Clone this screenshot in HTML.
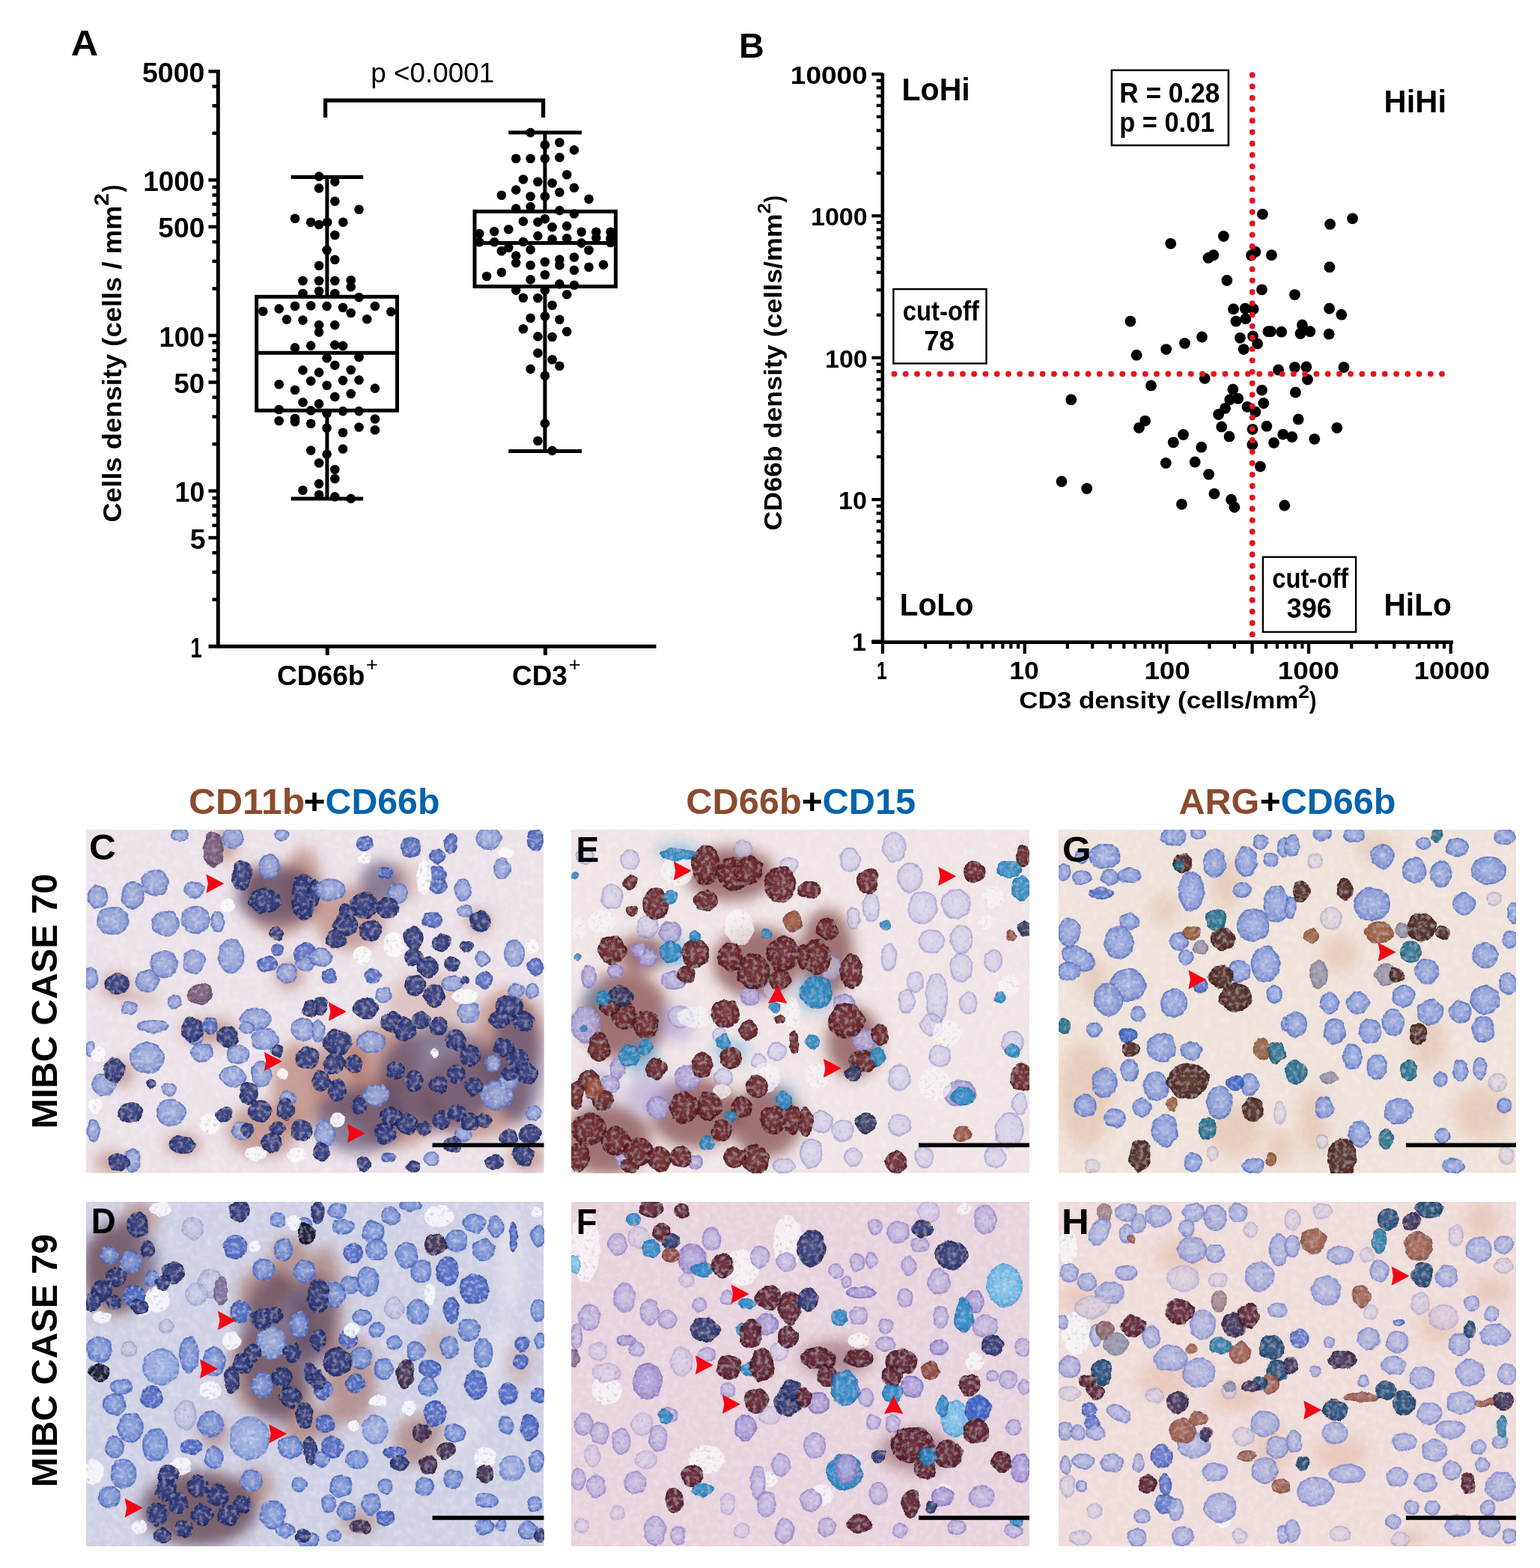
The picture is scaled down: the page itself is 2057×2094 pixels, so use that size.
<!DOCTYPE html>
<html><head><meta charset="utf-8"><title>Figure</title>
<style>html,body{margin:0;padding:0;background:#fff;}svg{display:block;}</style></head>
<body><svg width="2057" height="2094" viewBox="0 0 2057 2094" font-family="Liberation Sans, Arial, sans-serif">
<rect width="2057" height="2094" fill="#fff"/>
<line x1="291.3" y1="93.0" x2="291.3" y2="865.6" stroke="#000" stroke-width="5" stroke-linecap="butt"/>
<line x1="278.5" y1="863.2" x2="876.5" y2="863.2" stroke="#000" stroke-width="5" stroke-linecap="butt"/>
<line x1="278.4" y1="718.1" x2="291.0" y2="718.1" stroke="#000" stroke-width="4.5" stroke-linecap="butt"/>
<line x1="278.4" y1="655.6" x2="291.0" y2="655.6" stroke="#000" stroke-width="4.5" stroke-linecap="butt"/>
<line x1="278.4" y1="510.5" x2="291.0" y2="510.5" stroke="#000" stroke-width="4.5" stroke-linecap="butt"/>
<line x1="278.4" y1="448.0" x2="291.0" y2="448.0" stroke="#000" stroke-width="4.5" stroke-linecap="butt"/>
<line x1="278.4" y1="302.9" x2="291.0" y2="302.9" stroke="#000" stroke-width="4.5" stroke-linecap="butt"/>
<line x1="278.4" y1="240.4" x2="291.0" y2="240.4" stroke="#000" stroke-width="4.5" stroke-linecap="butt"/>
<line x1="278.4" y1="95.3" x2="291.0" y2="95.3" stroke="#000" stroke-width="4.5" stroke-linecap="butt"/>
<line x1="283.5" y1="800.7" x2="291.0" y2="800.7" stroke="#000" stroke-width="4.5" stroke-linecap="butt"/>
<line x1="283.5" y1="764.1" x2="291.0" y2="764.1" stroke="#000" stroke-width="4.5" stroke-linecap="butt"/>
<line x1="283.5" y1="738.2" x2="291.0" y2="738.2" stroke="#000" stroke-width="4.5" stroke-linecap="butt"/>
<line x1="283.5" y1="701.7" x2="291.0" y2="701.7" stroke="#000" stroke-width="4.5" stroke-linecap="butt"/>
<line x1="283.5" y1="687.8" x2="291.0" y2="687.8" stroke="#000" stroke-width="4.5" stroke-linecap="butt"/>
<line x1="283.5" y1="675.7" x2="291.0" y2="675.7" stroke="#000" stroke-width="4.5" stroke-linecap="butt"/>
<line x1="283.5" y1="665.1" x2="291.0" y2="665.1" stroke="#000" stroke-width="4.5" stroke-linecap="butt"/>
<line x1="283.5" y1="593.1" x2="291.0" y2="593.1" stroke="#000" stroke-width="4.5" stroke-linecap="butt"/>
<line x1="283.5" y1="556.5" x2="291.0" y2="556.5" stroke="#000" stroke-width="4.5" stroke-linecap="butt"/>
<line x1="283.5" y1="530.6" x2="291.0" y2="530.6" stroke="#000" stroke-width="4.5" stroke-linecap="butt"/>
<line x1="283.5" y1="494.1" x2="291.0" y2="494.1" stroke="#000" stroke-width="4.5" stroke-linecap="butt"/>
<line x1="283.5" y1="480.2" x2="291.0" y2="480.2" stroke="#000" stroke-width="4.5" stroke-linecap="butt"/>
<line x1="283.5" y1="468.1" x2="291.0" y2="468.1" stroke="#000" stroke-width="4.5" stroke-linecap="butt"/>
<line x1="283.5" y1="457.5" x2="291.0" y2="457.5" stroke="#000" stroke-width="4.5" stroke-linecap="butt"/>
<line x1="283.5" y1="385.5" x2="291.0" y2="385.5" stroke="#000" stroke-width="4.5" stroke-linecap="butt"/>
<line x1="283.5" y1="348.9" x2="291.0" y2="348.9" stroke="#000" stroke-width="4.5" stroke-linecap="butt"/>
<line x1="283.5" y1="323.0" x2="291.0" y2="323.0" stroke="#000" stroke-width="4.5" stroke-linecap="butt"/>
<line x1="283.5" y1="286.5" x2="291.0" y2="286.5" stroke="#000" stroke-width="4.5" stroke-linecap="butt"/>
<line x1="283.5" y1="272.6" x2="291.0" y2="272.6" stroke="#000" stroke-width="4.5" stroke-linecap="butt"/>
<line x1="283.5" y1="260.5" x2="291.0" y2="260.5" stroke="#000" stroke-width="4.5" stroke-linecap="butt"/>
<line x1="283.5" y1="249.9" x2="291.0" y2="249.9" stroke="#000" stroke-width="4.5" stroke-linecap="butt"/>
<line x1="283.5" y1="177.9" x2="291.0" y2="177.9" stroke="#000" stroke-width="4.5" stroke-linecap="butt"/>
<line x1="283.5" y1="141.3" x2="291.0" y2="141.3" stroke="#000" stroke-width="4.5" stroke-linecap="butt"/>
<line x1="283.5" y1="115.4" x2="291.0" y2="115.4" stroke="#000" stroke-width="4.5" stroke-linecap="butt"/>
<text x="254.47" y="877.70" font-size="36" font-weight="bold" fill="#000" textLength="15.32" lengthAdjust="spacingAndGlyphs">1</text>
<text x="253.76" y="732.59" font-size="36" font-weight="bold" fill="#000" textLength="20.92" lengthAdjust="spacingAndGlyphs">5</text>
<text x="233.51" y="670.10" font-size="36" font-weight="bold" fill="#000" textLength="39.83" lengthAdjust="spacingAndGlyphs">10</text>
<text x="232.38" y="524.99" font-size="36" font-weight="bold" fill="#000" textLength="41.00" lengthAdjust="spacingAndGlyphs">50</text>
<text x="212.47" y="462.50" font-size="36" font-weight="bold" fill="#000" textLength="60.92" lengthAdjust="spacingAndGlyphs">100</text>
<text x="211.37" y="317.39" font-size="36" font-weight="bold" fill="#000" textLength="61.94" lengthAdjust="spacingAndGlyphs">500</text>
<text x="191.35" y="254.90" font-size="36" font-weight="bold" fill="#000" textLength="81.97" lengthAdjust="spacingAndGlyphs">1000</text>
<text x="189.96" y="109.79" font-size="36" font-weight="bold" fill="#000" textLength="83.38" lengthAdjust="spacingAndGlyphs">5000</text>
<line x1="437.2" y1="863.0" x2="437.2" y2="875.0" stroke="#000" stroke-width="5" stroke-linecap="butt"/>
<line x1="728.4" y1="863.0" x2="728.4" y2="875.0" stroke="#000" stroke-width="5" stroke-linecap="butt"/>
<text x="369.97" y="915.30" font-size="36" font-weight="bold" fill="#000" textLength="117.49" lengthAdjust="spacingAndGlyphs">CD66b</text>
<text x="488.73" y="895.90" font-size="26" fill="#000" textLength="16.24" lengthAdjust="spacingAndGlyphs">+</text>
<text x="683.97" y="915.30" font-size="36" font-weight="bold" fill="#000" textLength="73.88" lengthAdjust="spacingAndGlyphs">CD3</text>
<text x="759.43" y="895.90" font-size="26" fill="#000" textLength="16.24" lengthAdjust="spacingAndGlyphs">+</text>
<text transform="translate(161.70,697.44) rotate(-90)" font-size="35" font-weight="bold" fill="#000" textLength="422.91" lengthAdjust="spacingAndGlyphs">Cells density (cells / mm</text>
<text transform="translate(144.50,274.77) rotate(-90)" font-size="28" font-weight="bold" fill="#000" textLength="16.66" lengthAdjust="spacingAndGlyphs">2</text>
<text transform="translate(161.70,256.40) rotate(-90)" font-size="35" font-weight="bold" fill="#000" textLength="9.79" lengthAdjust="spacingAndGlyphs">)</text>
<text x="94.75" y="74.00" font-size="48" font-weight="bold" fill="#000" textLength="36.41" lengthAdjust="spacingAndGlyphs">A</text>
<polyline points="434.6,157 434.6,134.1 725.6,134.1 725.6,157" fill="none" stroke="#000" stroke-width="5.2"/>
<text x="495.35" y="109.50" font-size="36" fill="#000" textLength="164.83" lengthAdjust="spacingAndGlyphs">p &lt;0.0001</text>
<rect x="342.7" y="396.3" width="187.8" height="151.9" fill="none" stroke="#000" stroke-width="5"/><line x1="342.7" y1="471.3" x2="530.5" y2="471.3" stroke="#000" stroke-width="5" stroke-linecap="butt"/><line x1="436.9" y1="236.5" x2="436.9" y2="396.3" stroke="#000" stroke-width="5" stroke-linecap="butt"/><line x1="436.9" y1="548.2" x2="436.9" y2="665.9" stroke="#000" stroke-width="5" stroke-linecap="butt"/><line x1="388.7" y1="236.5" x2="485.1" y2="236.5" stroke="#000" stroke-width="5" stroke-linecap="butt"/><line x1="388.7" y1="665.9" x2="485.1" y2="665.9" stroke="#000" stroke-width="5" stroke-linecap="butt"/>
<rect x="634.0" y="282.4" width="188.4" height="100.2" fill="none" stroke="#000" stroke-width="5"/><line x1="634.0" y1="324.6" x2="822.4" y2="324.6" stroke="#000" stroke-width="5" stroke-linecap="butt"/><line x1="727.9" y1="177.1" x2="727.9" y2="282.4" stroke="#000" stroke-width="5" stroke-linecap="butt"/><line x1="727.9" y1="382.6" x2="727.9" y2="602.6" stroke="#000" stroke-width="5" stroke-linecap="butt"/><line x1="679.3" y1="177.1" x2="777.0" y2="177.1" stroke="#000" stroke-width="5" stroke-linecap="butt"/><line x1="679.3" y1="602.6" x2="777.0" y2="602.6" stroke="#000" stroke-width="5" stroke-linecap="butt"/>
<circle cx="426.1" cy="235.6" r="6.3"/>
<circle cx="447.3" cy="242.6" r="6.3"/>
<circle cx="426.1" cy="251.4" r="6.3"/>
<circle cx="447.3" cy="268.7" r="6.3"/>
<circle cx="479.5" cy="279.8" r="6.3"/>
<circle cx="394.0" cy="291.7" r="6.3"/>
<circle cx="415.2" cy="296.8" r="6.3"/>
<circle cx="426.1" cy="300.0" r="6.3"/>
<circle cx="437.2" cy="296.8" r="6.3"/>
<circle cx="458.3" cy="296.8" r="6.3"/>
<circle cx="447.3" cy="314.0" r="6.3"/>
<circle cx="436.6" cy="334.0" r="6.3"/>
<circle cx="447.3" cy="346.8" r="6.3"/>
<circle cx="426.1" cy="354.8" r="6.3"/>
<circle cx="404.5" cy="375.0" r="6.3"/>
<circle cx="426.1" cy="375.0" r="6.3"/>
<circle cx="447.3" cy="375.0" r="6.3"/>
<circle cx="468.7" cy="374.3" r="6.3"/>
<circle cx="468.7" cy="383.1" r="6.3"/>
<circle cx="426.1" cy="388.8" r="6.3"/>
<circle cx="404.5" cy="392.0" r="6.3"/>
<circle cx="447.3" cy="392.0" r="6.3"/>
<circle cx="479.5" cy="397.0" r="6.3"/>
<circle cx="351.3" cy="415.8" r="6.3"/>
<circle cx="372.7" cy="412.4" r="6.3"/>
<circle cx="394.0" cy="408.7" r="6.3"/>
<circle cx="415.2" cy="408.3" r="6.3"/>
<circle cx="436.6" cy="408.9" r="6.3"/>
<circle cx="458.0" cy="410.8" r="6.3"/>
<circle cx="468.7" cy="418.0" r="6.3"/>
<circle cx="500.9" cy="408.9" r="6.3"/>
<circle cx="522.3" cy="416.2" r="6.3"/>
<circle cx="383.0" cy="426.6" r="6.3"/>
<circle cx="404.5" cy="427.6" r="6.3"/>
<circle cx="426.1" cy="434.1" r="6.3"/>
<circle cx="426.1" cy="443.6" r="6.3"/>
<circle cx="447.3" cy="434.1" r="6.3"/>
<circle cx="490.2" cy="426.3" r="6.3"/>
<circle cx="394.0" cy="464.4" r="6.3"/>
<circle cx="415.2" cy="461.6" r="6.3"/>
<circle cx="447.3" cy="460.6" r="6.3"/>
<circle cx="458.0" cy="461.9" r="6.3"/>
<circle cx="436.6" cy="478.2" r="6.3"/>
<circle cx="479.5" cy="477.0" r="6.3"/>
<circle cx="447.3" cy="487.7" r="6.3"/>
<circle cx="404.5" cy="494.4" r="6.3"/>
<circle cx="426.1" cy="497.4" r="6.3"/>
<circle cx="468.7" cy="494.0" r="6.3"/>
<circle cx="415.2" cy="508.9" r="6.3"/>
<circle cx="458.0" cy="508.1" r="6.3"/>
<circle cx="479.5" cy="507.5" r="6.3"/>
<circle cx="372.7" cy="513.3" r="6.3"/>
<circle cx="394.0" cy="520.7" r="6.3"/>
<circle cx="436.6" cy="514.8" r="6.3"/>
<circle cx="500.9" cy="518.6" r="6.3"/>
<circle cx="447.3" cy="529.9" r="6.3"/>
<circle cx="468.7" cy="525.9" r="6.3"/>
<circle cx="404.5" cy="537.2" r="6.3"/>
<circle cx="426.1" cy="539.4" r="6.3"/>
<circle cx="372.7" cy="547.0" r="6.3"/>
<circle cx="415.2" cy="548.2" r="6.3"/>
<circle cx="436.6" cy="552.0" r="6.3"/>
<circle cx="458.0" cy="549.1" r="6.3"/>
<circle cx="479.5" cy="549.1" r="6.3"/>
<circle cx="372.7" cy="562.0" r="6.3"/>
<circle cx="394.0" cy="558.9" r="6.3"/>
<circle cx="394.0" cy="563.3" r="6.3"/>
<circle cx="415.2" cy="565.8" r="6.3"/>
<circle cx="500.9" cy="559.5" r="6.3"/>
<circle cx="500.9" cy="574.3" r="6.3"/>
<circle cx="436.6" cy="571.5" r="6.3"/>
<circle cx="479.5" cy="570.5" r="6.3"/>
<circle cx="458.0" cy="577.8" r="6.3"/>
<circle cx="415.2" cy="601.5" r="6.3"/>
<circle cx="458.0" cy="599.5" r="6.3"/>
<circle cx="436.6" cy="606.6" r="6.3"/>
<circle cx="426.1" cy="618.2" r="6.3"/>
<circle cx="447.3" cy="627.0" r="6.3"/>
<circle cx="447.3" cy="639.2" r="6.3"/>
<circle cx="426.1" cy="646.1" r="6.3"/>
<circle cx="404.5" cy="654.8" r="6.3"/>
<circle cx="426.1" cy="660.8" r="6.3"/>
<circle cx="447.3" cy="663.4" r="6.3"/>
<circle cx="468.7" cy="665.9" r="6.3"/>
<circle cx="708.6" cy="177.1" r="6.3"/>
<circle cx="727.9" cy="193.5" r="6.3"/>
<circle cx="747.4" cy="190.3" r="6.3"/>
<circle cx="766.9" cy="200.4" r="6.3"/>
<circle cx="689.2" cy="211.8" r="6.3"/>
<circle cx="708.6" cy="211.8" r="6.3"/>
<circle cx="727.9" cy="211.8" r="6.3"/>
<circle cx="747.4" cy="210.3" r="6.3"/>
<circle cx="757.2" cy="233.2" r="6.3"/>
<circle cx="698.9" cy="239.5" r="6.3"/>
<circle cx="718.4" cy="242.7" r="6.3"/>
<circle cx="737.6" cy="244.5" r="6.3"/>
<circle cx="766.9" cy="250.8" r="6.3"/>
<circle cx="689.2" cy="253.6" r="6.3"/>
<circle cx="747.4" cy="256.9" r="6.3"/>
<circle cx="669.9" cy="260.7" r="6.3"/>
<circle cx="708.6" cy="262.2" r="6.3"/>
<circle cx="727.9" cy="262.2" r="6.3"/>
<circle cx="786.5" cy="265.7" r="6.3"/>
<circle cx="689.2" cy="278.6" r="6.3"/>
<circle cx="708.6" cy="276.1" r="6.3"/>
<circle cx="747.4" cy="281.1" r="6.3"/>
<circle cx="766.9" cy="285.5" r="6.3"/>
<circle cx="727.9" cy="292.4" r="6.3"/>
<circle cx="698.9" cy="295.6" r="6.3"/>
<circle cx="718.4" cy="296.5" r="6.3"/>
<circle cx="737.6" cy="303.2" r="6.3"/>
<circle cx="757.2" cy="301.9" r="6.3"/>
<circle cx="679.3" cy="306.3" r="6.3"/>
<circle cx="660.2" cy="309.1" r="6.3"/>
<circle cx="640.3" cy="312.0" r="6.3"/>
<circle cx="776.6" cy="309.8" r="6.3"/>
<circle cx="796.3" cy="309.8" r="6.3"/>
<circle cx="815.5" cy="309.8" r="6.3"/>
<circle cx="718.4" cy="315.1" r="6.3"/>
<circle cx="737.6" cy="319.5" r="6.3"/>
<circle cx="757.2" cy="318.3" r="6.3"/>
<circle cx="796.3" cy="317.6" r="6.3"/>
<circle cx="815.5" cy="318.3" r="6.3"/>
<circle cx="640.3" cy="323.3" r="6.3"/>
<circle cx="660.2" cy="323.3" r="6.3"/>
<circle cx="698.9" cy="323.0" r="6.3"/>
<circle cx="776.6" cy="324.6" r="6.3"/>
<circle cx="815.5" cy="324.0" r="6.3"/>
<circle cx="679.3" cy="330.9" r="6.3"/>
<circle cx="669.9" cy="335.3" r="6.3"/>
<circle cx="708.6" cy="333.4" r="6.3"/>
<circle cx="786.5" cy="334.0" r="6.3"/>
<circle cx="689.2" cy="341.6" r="6.3"/>
<circle cx="689.2" cy="351.1" r="6.3"/>
<circle cx="766.9" cy="343.5" r="6.3"/>
<circle cx="727.9" cy="349.8" r="6.3"/>
<circle cx="747.4" cy="346.6" r="6.3"/>
<circle cx="747.4" cy="354.2" r="6.3"/>
<circle cx="708.6" cy="354.2" r="6.3"/>
<circle cx="786.5" cy="356.7" r="6.3"/>
<circle cx="806.0" cy="353.6" r="6.3"/>
<circle cx="766.9" cy="360.8" r="6.3"/>
<circle cx="669.9" cy="363.7" r="6.3"/>
<circle cx="650.1" cy="369.0" r="6.3"/>
<circle cx="727.9" cy="367.0" r="6.3"/>
<circle cx="708.6" cy="373.4" r="6.3"/>
<circle cx="747.4" cy="379.4" r="6.3"/>
<circle cx="766.9" cy="380.7" r="6.3"/>
<circle cx="689.2" cy="387.6" r="6.3"/>
<circle cx="727.9" cy="387.6" r="6.3"/>
<circle cx="698.9" cy="397.7" r="6.3"/>
<circle cx="718.4" cy="398.0" r="6.3"/>
<circle cx="757.2" cy="393.3" r="6.3"/>
<circle cx="737.6" cy="407.8" r="6.3"/>
<circle cx="708.6" cy="424.8" r="6.3"/>
<circle cx="727.9" cy="422.3" r="6.3"/>
<circle cx="747.4" cy="426.7" r="6.3"/>
<circle cx="698.9" cy="439.3" r="6.3"/>
<circle cx="757.2" cy="442.9" r="6.3"/>
<circle cx="718.4" cy="449.4" r="6.3"/>
<circle cx="737.6" cy="450.0" r="6.3"/>
<circle cx="718.4" cy="471.5" r="6.3"/>
<circle cx="737.6" cy="480.3" r="6.3"/>
<circle cx="747.4" cy="488.7" r="6.3"/>
<circle cx="708.6" cy="492.9" r="6.3"/>
<circle cx="727.9" cy="501.7" r="6.3"/>
<circle cx="727.9" cy="565.4" r="6.3"/>
<circle cx="718.4" cy="588.7" r="6.3"/>
<circle cx="737.6" cy="601.9" r="6.3"/>
<line x1="1178.8" y1="97.7" x2="1178.8" y2="860.0" stroke="#000" stroke-width="4.6" stroke-linecap="butt"/>
<line x1="1164.3" y1="857.6" x2="1941.0" y2="857.6" stroke="#000" stroke-width="4.6" stroke-linecap="butt"/>
<line x1="1164.4" y1="856.5" x2="1178.8" y2="856.5" stroke="#000" stroke-width="4.2" stroke-linecap="butt"/>
<line x1="1170.7" y1="799.5" x2="1178.8" y2="799.5" stroke="#000" stroke-width="4.2" stroke-linecap="butt"/>
<line x1="1170.7" y1="766.1" x2="1178.8" y2="766.1" stroke="#000" stroke-width="4.2" stroke-linecap="butt"/>
<line x1="1170.7" y1="742.5" x2="1178.8" y2="742.5" stroke="#000" stroke-width="4.2" stroke-linecap="butt"/>
<line x1="1170.7" y1="724.1" x2="1178.8" y2="724.1" stroke="#000" stroke-width="4.2" stroke-linecap="butt"/>
<line x1="1170.7" y1="709.1" x2="1178.8" y2="709.1" stroke="#000" stroke-width="4.2" stroke-linecap="butt"/>
<line x1="1170.7" y1="696.4" x2="1178.8" y2="696.4" stroke="#000" stroke-width="4.2" stroke-linecap="butt"/>
<line x1="1170.7" y1="685.5" x2="1178.8" y2="685.5" stroke="#000" stroke-width="4.2" stroke-linecap="butt"/>
<line x1="1170.7" y1="675.8" x2="1178.8" y2="675.8" stroke="#000" stroke-width="4.2" stroke-linecap="butt"/>
<line x1="1164.4" y1="667.1" x2="1178.8" y2="667.1" stroke="#000" stroke-width="4.2" stroke-linecap="butt"/>
<line x1="1170.7" y1="610.1" x2="1178.8" y2="610.1" stroke="#000" stroke-width="4.2" stroke-linecap="butt"/>
<line x1="1170.7" y1="576.7" x2="1178.8" y2="576.7" stroke="#000" stroke-width="4.2" stroke-linecap="butt"/>
<line x1="1170.7" y1="553.1" x2="1178.8" y2="553.1" stroke="#000" stroke-width="4.2" stroke-linecap="butt"/>
<line x1="1170.7" y1="534.7" x2="1178.8" y2="534.7" stroke="#000" stroke-width="4.2" stroke-linecap="butt"/>
<line x1="1170.7" y1="519.7" x2="1178.8" y2="519.7" stroke="#000" stroke-width="4.2" stroke-linecap="butt"/>
<line x1="1170.7" y1="507.0" x2="1178.8" y2="507.0" stroke="#000" stroke-width="4.2" stroke-linecap="butt"/>
<line x1="1170.7" y1="496.1" x2="1178.8" y2="496.1" stroke="#000" stroke-width="4.2" stroke-linecap="butt"/>
<line x1="1170.7" y1="486.4" x2="1178.8" y2="486.4" stroke="#000" stroke-width="4.2" stroke-linecap="butt"/>
<line x1="1164.4" y1="477.7" x2="1178.8" y2="477.7" stroke="#000" stroke-width="4.2" stroke-linecap="butt"/>
<line x1="1170.7" y1="420.7" x2="1178.8" y2="420.7" stroke="#000" stroke-width="4.2" stroke-linecap="butt"/>
<line x1="1170.7" y1="387.3" x2="1178.8" y2="387.3" stroke="#000" stroke-width="4.2" stroke-linecap="butt"/>
<line x1="1170.7" y1="363.7" x2="1178.8" y2="363.7" stroke="#000" stroke-width="4.2" stroke-linecap="butt"/>
<line x1="1170.7" y1="345.3" x2="1178.8" y2="345.3" stroke="#000" stroke-width="4.2" stroke-linecap="butt"/>
<line x1="1170.7" y1="330.3" x2="1178.8" y2="330.3" stroke="#000" stroke-width="4.2" stroke-linecap="butt"/>
<line x1="1170.7" y1="317.6" x2="1178.8" y2="317.6" stroke="#000" stroke-width="4.2" stroke-linecap="butt"/>
<line x1="1170.7" y1="306.7" x2="1178.8" y2="306.7" stroke="#000" stroke-width="4.2" stroke-linecap="butt"/>
<line x1="1170.7" y1="297.0" x2="1178.8" y2="297.0" stroke="#000" stroke-width="4.2" stroke-linecap="butt"/>
<line x1="1164.4" y1="288.3" x2="1178.8" y2="288.3" stroke="#000" stroke-width="4.2" stroke-linecap="butt"/>
<line x1="1170.7" y1="231.3" x2="1178.8" y2="231.3" stroke="#000" stroke-width="4.2" stroke-linecap="butt"/>
<line x1="1170.7" y1="197.9" x2="1178.8" y2="197.9" stroke="#000" stroke-width="4.2" stroke-linecap="butt"/>
<line x1="1170.7" y1="174.3" x2="1178.8" y2="174.3" stroke="#000" stroke-width="4.2" stroke-linecap="butt"/>
<line x1="1170.7" y1="155.9" x2="1178.8" y2="155.9" stroke="#000" stroke-width="4.2" stroke-linecap="butt"/>
<line x1="1170.7" y1="140.9" x2="1178.8" y2="140.9" stroke="#000" stroke-width="4.2" stroke-linecap="butt"/>
<line x1="1170.7" y1="128.2" x2="1178.8" y2="128.2" stroke="#000" stroke-width="4.2" stroke-linecap="butt"/>
<line x1="1170.7" y1="117.3" x2="1178.8" y2="117.3" stroke="#000" stroke-width="4.2" stroke-linecap="butt"/>
<line x1="1170.7" y1="107.6" x2="1178.8" y2="107.6" stroke="#000" stroke-width="4.2" stroke-linecap="butt"/>
<line x1="1164.4" y1="98.9" x2="1178.8" y2="98.9" stroke="#000" stroke-width="4.2" stroke-linecap="butt"/>
<line x1="1179.0" y1="857.6" x2="1179.0" y2="873.0" stroke="#000" stroke-width="4.2" stroke-linecap="butt"/>
<line x1="1236.1" y1="857.6" x2="1236.1" y2="866.3" stroke="#000" stroke-width="4.2" stroke-linecap="butt"/>
<line x1="1269.5" y1="857.6" x2="1269.5" y2="866.3" stroke="#000" stroke-width="4.2" stroke-linecap="butt"/>
<line x1="1293.2" y1="857.6" x2="1293.2" y2="866.3" stroke="#000" stroke-width="4.2" stroke-linecap="butt"/>
<line x1="1311.6" y1="857.6" x2="1311.6" y2="866.3" stroke="#000" stroke-width="4.2" stroke-linecap="butt"/>
<line x1="1326.6" y1="857.6" x2="1326.6" y2="866.3" stroke="#000" stroke-width="4.2" stroke-linecap="butt"/>
<line x1="1339.3" y1="857.6" x2="1339.3" y2="866.3" stroke="#000" stroke-width="4.2" stroke-linecap="butt"/>
<line x1="1350.3" y1="857.6" x2="1350.3" y2="866.3" stroke="#000" stroke-width="4.2" stroke-linecap="butt"/>
<line x1="1360.0" y1="857.6" x2="1360.0" y2="866.3" stroke="#000" stroke-width="4.2" stroke-linecap="butt"/>
<line x1="1368.7" y1="857.6" x2="1368.7" y2="873.0" stroke="#000" stroke-width="4.2" stroke-linecap="butt"/>
<line x1="1425.8" y1="857.6" x2="1425.8" y2="866.3" stroke="#000" stroke-width="4.2" stroke-linecap="butt"/>
<line x1="1459.2" y1="857.6" x2="1459.2" y2="866.3" stroke="#000" stroke-width="4.2" stroke-linecap="butt"/>
<line x1="1482.9" y1="857.6" x2="1482.9" y2="866.3" stroke="#000" stroke-width="4.2" stroke-linecap="butt"/>
<line x1="1501.3" y1="857.6" x2="1501.3" y2="866.3" stroke="#000" stroke-width="4.2" stroke-linecap="butt"/>
<line x1="1516.3" y1="857.6" x2="1516.3" y2="866.3" stroke="#000" stroke-width="4.2" stroke-linecap="butt"/>
<line x1="1529.0" y1="857.6" x2="1529.0" y2="866.3" stroke="#000" stroke-width="4.2" stroke-linecap="butt"/>
<line x1="1540.0" y1="857.6" x2="1540.0" y2="866.3" stroke="#000" stroke-width="4.2" stroke-linecap="butt"/>
<line x1="1549.7" y1="857.6" x2="1549.7" y2="866.3" stroke="#000" stroke-width="4.2" stroke-linecap="butt"/>
<line x1="1558.4" y1="857.6" x2="1558.4" y2="873.0" stroke="#000" stroke-width="4.2" stroke-linecap="butt"/>
<line x1="1615.5" y1="857.6" x2="1615.5" y2="866.3" stroke="#000" stroke-width="4.2" stroke-linecap="butt"/>
<line x1="1648.9" y1="857.6" x2="1648.9" y2="866.3" stroke="#000" stroke-width="4.2" stroke-linecap="butt"/>
<line x1="1672.6" y1="857.6" x2="1672.6" y2="873.0" stroke="#000" stroke-width="4.2" stroke-linecap="butt"/>
<line x1="1691.0" y1="857.6" x2="1691.0" y2="866.3" stroke="#000" stroke-width="4.2" stroke-linecap="butt"/>
<line x1="1706.0" y1="857.6" x2="1706.0" y2="866.3" stroke="#000" stroke-width="4.2" stroke-linecap="butt"/>
<line x1="1718.7" y1="857.6" x2="1718.7" y2="866.3" stroke="#000" stroke-width="4.2" stroke-linecap="butt"/>
<line x1="1729.7" y1="857.6" x2="1729.7" y2="866.3" stroke="#000" stroke-width="4.2" stroke-linecap="butt"/>
<line x1="1739.4" y1="857.6" x2="1739.4" y2="866.3" stroke="#000" stroke-width="4.2" stroke-linecap="butt"/>
<line x1="1748.1" y1="857.6" x2="1748.1" y2="873.0" stroke="#000" stroke-width="4.2" stroke-linecap="butt"/>
<line x1="1805.2" y1="857.6" x2="1805.2" y2="866.3" stroke="#000" stroke-width="4.2" stroke-linecap="butt"/>
<line x1="1838.6" y1="857.6" x2="1838.6" y2="866.3" stroke="#000" stroke-width="4.2" stroke-linecap="butt"/>
<line x1="1862.3" y1="857.6" x2="1862.3" y2="866.3" stroke="#000" stroke-width="4.2" stroke-linecap="butt"/>
<line x1="1880.7" y1="857.6" x2="1880.7" y2="866.3" stroke="#000" stroke-width="4.2" stroke-linecap="butt"/>
<line x1="1895.7" y1="857.6" x2="1895.7" y2="866.3" stroke="#000" stroke-width="4.2" stroke-linecap="butt"/>
<line x1="1908.4" y1="857.6" x2="1908.4" y2="866.3" stroke="#000" stroke-width="4.2" stroke-linecap="butt"/>
<line x1="1919.4" y1="857.6" x2="1919.4" y2="866.3" stroke="#000" stroke-width="4.2" stroke-linecap="butt"/>
<line x1="1929.1" y1="857.6" x2="1929.1" y2="866.3" stroke="#000" stroke-width="4.2" stroke-linecap="butt"/>
<line x1="1937.8" y1="857.6" x2="1937.8" y2="873.0" stroke="#000" stroke-width="4.2" stroke-linecap="butt"/>
<text x="1138.00" y="869.30" font-size="34" font-weight="bold" fill="#000" textLength="18.92" lengthAdjust="spacingAndGlyphs">1</text>
<text x="1120.00" y="679.90" font-size="34" font-weight="bold" fill="#000" textLength="37.83" lengthAdjust="spacingAndGlyphs">10</text>
<text x="1102.00" y="490.50" font-size="34" font-weight="bold" fill="#000" textLength="56.73" lengthAdjust="spacingAndGlyphs">100</text>
<text x="1083.00" y="301.10" font-size="34" font-weight="bold" fill="#000" textLength="75.64" lengthAdjust="spacingAndGlyphs">1000</text>
<text x="1055.82" y="111.70" font-size="34" font-weight="bold" fill="#000" textLength="102.86" lengthAdjust="spacingAndGlyphs">10000</text>
<text x="1170.95" y="906.80" font-size="34" font-weight="bold" fill="#000" textLength="13.72" lengthAdjust="spacingAndGlyphs">1</text>
<text x="1348.21" y="906.80" font-size="34" font-weight="bold" fill="#000" textLength="39.45" lengthAdjust="spacingAndGlyphs">10</text>
<text x="1528.44" y="906.80" font-size="34" font-weight="bold" fill="#000" textLength="61.23" lengthAdjust="spacingAndGlyphs">100</text>
<text x="1706.83" y="906.80" font-size="34" font-weight="bold" fill="#000" textLength="81.94" lengthAdjust="spacingAndGlyphs">1000</text>
<text x="1888.86" y="906.80" font-size="34" font-weight="bold" fill="#000" textLength="100.99" lengthAdjust="spacingAndGlyphs">10000</text>
<text x="986.95" y="77.40" font-size="46" font-weight="bold" fill="#000" textLength="33.83" lengthAdjust="spacingAndGlyphs">B</text>
<text x="1361.37" y="946.00" font-size="31" font-weight="bold" fill="#000" textLength="372.95" lengthAdjust="spacingAndGlyphs">CD3 density (cells/mm</text>
<text x="1734.06" y="932.40" font-size="24" font-weight="bold" fill="#000" textLength="15.18" lengthAdjust="spacingAndGlyphs">2</text>
<text x="1748.80" y="946.00" font-size="31" font-weight="bold" fill="#000" textLength="9.75" lengthAdjust="spacingAndGlyphs">)</text>
<text x="1204.47" y="134.00" font-size="42" font-weight="bold" fill="#000" textLength="91.27" lengthAdjust="spacingAndGlyphs">LoHi</text>
<text x="1848.52" y="150.10" font-size="42" font-weight="bold" fill="#000" textLength="83.46" lengthAdjust="spacingAndGlyphs">HiHi</text>
<text x="1201.81" y="822.40" font-size="42" font-weight="bold" fill="#000" textLength="98.75" lengthAdjust="spacingAndGlyphs">LoLo</text>
<text x="1848.50" y="822.20" font-size="42" font-weight="bold" fill="#000" textLength="90.27" lengthAdjust="spacingAndGlyphs">HiLo</text>
<text transform="translate(1043.50,708.45) rotate(-90)" font-size="34" font-weight="bold" fill="#000" textLength="422.96" lengthAdjust="spacingAndGlyphs">CD66b density (cells/mm</text>
<text transform="translate(1029.20,285.47) rotate(-90)" font-size="24" font-weight="bold" fill="#000" textLength="14.33" lengthAdjust="spacingAndGlyphs">2</text>
<text transform="translate(1043.50,270.40) rotate(-90)" font-size="34" font-weight="bold" fill="#000" textLength="9.40" lengthAdjust="spacingAndGlyphs">)</text>
<rect x="1484.9" y="93.8" width="156.0" height="100.3" fill="#fff" stroke="#000" stroke-width="2.5"/>
<text x="1495.24" y="136.50" font-size="36" font-weight="bold" fill="#000" textLength="134.13" lengthAdjust="spacingAndGlyphs">R = 0.28</text>
<text x="1495.29" y="175.80" font-size="36" font-weight="bold" fill="#000" textLength="127.16" lengthAdjust="spacingAndGlyphs">p = 0.01</text>
<rect x="1193.4" y="386.1" width="124.1" height="99.3" fill="#fff" stroke="#000" stroke-width="2.4"/>
<text x="1205.79" y="427.70" font-size="36" font-weight="bold" fill="#000" textLength="102.18" lengthAdjust="spacingAndGlyphs">cut-off</text>
<text x="1234.27" y="467.70" font-size="36" font-weight="bold" fill="#000" textLength="40.70" lengthAdjust="spacingAndGlyphs">78</text>
<rect x="1686.9" y="743.9" width="124.2" height="100.1" fill="#fff" stroke="#000" stroke-width="2.4"/>
<text x="1699.29" y="784.70" font-size="36" font-weight="bold" fill="#000" textLength="101.98" lengthAdjust="spacingAndGlyphs">cut-off</text>
<text x="1718.80" y="825.00" font-size="36" font-weight="bold" fill="#000" textLength="60.08" lengthAdjust="spacingAndGlyphs">396</text>
<circle cx="1563.7" cy="325.3" r="7.4"/>
<circle cx="1634.4" cy="315.5" r="7.4"/>
<circle cx="1614.0" cy="344.4" r="7.4"/>
<circle cx="1620.8" cy="340.7" r="7.4"/>
<circle cx="1638.8" cy="374.5" r="7.4"/>
<circle cx="1509.9" cy="429.1" r="7.4"/>
<circle cx="1605.5" cy="450.0" r="7.4"/>
<circle cx="1582.5" cy="458.4" r="7.4"/>
<circle cx="1557.7" cy="466.6" r="7.4"/>
<circle cx="1518.1" cy="474.2" r="7.4"/>
<circle cx="1686.4" cy="286.1" r="7.4"/>
<circle cx="1776.6" cy="299.4" r="7.4"/>
<circle cx="1806.6" cy="291.8" r="7.4"/>
<circle cx="1676.9" cy="336.2" r="7.4"/>
<circle cx="1671.4" cy="341.0" r="7.4"/>
<circle cx="1698.4" cy="340.7" r="7.4"/>
<circle cx="1775.9" cy="356.7" r="7.4"/>
<circle cx="1685.5" cy="386.8" r="7.4"/>
<circle cx="1729.4" cy="393.6" r="7.4"/>
<circle cx="1647.5" cy="412.7" r="7.4"/>
<circle cx="1663.2" cy="412.0" r="7.4"/>
<circle cx="1674.1" cy="412.7" r="7.4"/>
<circle cx="1650.9" cy="429.1" r="7.4"/>
<circle cx="1663.9" cy="425.7" r="7.4"/>
<circle cx="1775.6" cy="412.0" r="7.4"/>
<circle cx="1791.8" cy="420.2" r="7.4"/>
<circle cx="1693.9" cy="442.7" r="7.4"/>
<circle cx="1697.4" cy="442.7" r="7.4"/>
<circle cx="1711.7" cy="443.2" r="7.4"/>
<circle cx="1739.4" cy="433.9" r="7.4"/>
<circle cx="1737.0" cy="445.5" r="7.4"/>
<circle cx="1749.9" cy="442.7" r="7.4"/>
<circle cx="1775.2" cy="446.2" r="7.4"/>
<circle cx="1656.4" cy="451.3" r="7.4"/>
<circle cx="1673.5" cy="448.9" r="7.4"/>
<circle cx="1679.6" cy="459.1" r="7.4"/>
<circle cx="1661.2" cy="466.6" r="7.4"/>
<circle cx="1707.6" cy="494.0" r="7.4"/>
<circle cx="1729.4" cy="490.5" r="7.4"/>
<circle cx="1744.9" cy="489.9" r="7.4"/>
<circle cx="1795.0" cy="490.5" r="7.4"/>
<circle cx="1609.2" cy="505.3" r="7.4"/>
<circle cx="1537.5" cy="514.9" r="7.4"/>
<circle cx="1430.7" cy="533.7" r="7.4"/>
<circle cx="1636.5" cy="545.3" r="7.4"/>
<circle cx="1627.6" cy="553.5" r="7.4"/>
<circle cx="1529.6" cy="562.1" r="7.4"/>
<circle cx="1521.4" cy="571.3" r="7.4"/>
<circle cx="1580.5" cy="580.4" r="7.4"/>
<circle cx="1567.2" cy="590.8" r="7.4"/>
<circle cx="1631.7" cy="569.9" r="7.4"/>
<circle cx="1642.0" cy="582.9" r="7.4"/>
<circle cx="1604.7" cy="597.2" r="7.4"/>
<circle cx="1557.3" cy="618.4" r="7.4"/>
<circle cx="1596.2" cy="617.0" r="7.4"/>
<circle cx="1614.6" cy="633.4" r="7.4"/>
<circle cx="1418.0" cy="642.9" r="7.4"/>
<circle cx="1451.7" cy="652.5" r="7.4"/>
<circle cx="1621.9" cy="659.3" r="7.4"/>
<circle cx="1578.4" cy="673.3" r="7.4"/>
<circle cx="1644.5" cy="667.2" r="7.4"/>
<circle cx="1648.9" cy="677.3" r="7.4"/>
<circle cx="1746.5" cy="506.7" r="7.4"/>
<circle cx="1646.8" cy="520.0" r="7.4"/>
<circle cx="1685.5" cy="521.1" r="7.4"/>
<circle cx="1730.4" cy="523.9" r="7.4"/>
<circle cx="1653.7" cy="532.3" r="7.4"/>
<circle cx="1642.7" cy="533.7" r="7.4"/>
<circle cx="1687.8" cy="538.5" r="7.4"/>
<circle cx="1666.0" cy="543.3" r="7.4"/>
<circle cx="1676.9" cy="550.1" r="7.4"/>
<circle cx="1734.2" cy="559.9" r="7.4"/>
<circle cx="1785.8" cy="571.3" r="7.4"/>
<circle cx="1691.9" cy="569.2" r="7.4"/>
<circle cx="1673.0" cy="573.3" r="7.4"/>
<circle cx="1713.7" cy="580.1" r="7.4"/>
<circle cx="1725.8" cy="583.5" r="7.4"/>
<circle cx="1701.5" cy="591.3" r="7.4"/>
<circle cx="1672.8" cy="593.8" r="7.4"/>
<circle cx="1755.8" cy="586.3" r="7.4"/>
<circle cx="1683.4" cy="623.1" r="7.4"/>
<circle cx="1715.8" cy="675.0" r="7.4"/>
<circle cx="1194.5" cy="499.3" r="3.9" fill="#e8141c"/>
<circle cx="1209.7" cy="499.3" r="3.9" fill="#e8141c"/>
<circle cx="1225.0" cy="499.3" r="3.9" fill="#e8141c"/>
<circle cx="1240.2" cy="499.3" r="3.9" fill="#e8141c"/>
<circle cx="1255.5" cy="499.3" r="3.9" fill="#e8141c"/>
<circle cx="1270.7" cy="499.3" r="3.9" fill="#e8141c"/>
<circle cx="1285.9" cy="499.3" r="3.9" fill="#e8141c"/>
<circle cx="1301.2" cy="499.3" r="3.9" fill="#e8141c"/>
<circle cx="1316.4" cy="499.3" r="3.9" fill="#e8141c"/>
<circle cx="1331.7" cy="499.3" r="3.9" fill="#e8141c"/>
<circle cx="1346.9" cy="499.3" r="3.9" fill="#e8141c"/>
<circle cx="1362.1" cy="499.3" r="3.9" fill="#e8141c"/>
<circle cx="1377.4" cy="499.3" r="3.9" fill="#e8141c"/>
<circle cx="1392.6" cy="499.3" r="3.9" fill="#e8141c"/>
<circle cx="1407.9" cy="499.3" r="3.9" fill="#e8141c"/>
<circle cx="1423.1" cy="499.3" r="3.9" fill="#e8141c"/>
<circle cx="1438.3" cy="499.3" r="3.9" fill="#e8141c"/>
<circle cx="1453.6" cy="499.3" r="3.9" fill="#e8141c"/>
<circle cx="1468.8" cy="499.3" r="3.9" fill="#e8141c"/>
<circle cx="1484.1" cy="499.3" r="3.9" fill="#e8141c"/>
<circle cx="1499.3" cy="499.3" r="3.9" fill="#e8141c"/>
<circle cx="1514.5" cy="499.3" r="3.9" fill="#e8141c"/>
<circle cx="1529.8" cy="499.3" r="3.9" fill="#e8141c"/>
<circle cx="1545.0" cy="499.3" r="3.9" fill="#e8141c"/>
<circle cx="1560.3" cy="499.3" r="3.9" fill="#e8141c"/>
<circle cx="1575.5" cy="499.3" r="3.9" fill="#e8141c"/>
<circle cx="1590.7" cy="499.3" r="3.9" fill="#e8141c"/>
<circle cx="1606.0" cy="499.3" r="3.9" fill="#e8141c"/>
<circle cx="1621.2" cy="499.3" r="3.9" fill="#e8141c"/>
<circle cx="1636.5" cy="499.3" r="3.9" fill="#e8141c"/>
<circle cx="1651.7" cy="499.3" r="3.9" fill="#e8141c"/>
<circle cx="1666.9" cy="499.3" r="3.9" fill="#e8141c"/>
<circle cx="1682.2" cy="499.3" r="3.9" fill="#e8141c"/>
<circle cx="1697.4" cy="499.3" r="3.9" fill="#e8141c"/>
<circle cx="1712.7" cy="499.3" r="3.9" fill="#e8141c"/>
<circle cx="1727.9" cy="499.3" r="3.9" fill="#e8141c"/>
<circle cx="1743.1" cy="499.3" r="3.9" fill="#e8141c"/>
<circle cx="1758.4" cy="499.3" r="3.9" fill="#e8141c"/>
<circle cx="1773.6" cy="499.3" r="3.9" fill="#e8141c"/>
<circle cx="1788.9" cy="499.3" r="3.9" fill="#e8141c"/>
<circle cx="1804.1" cy="499.3" r="3.9" fill="#e8141c"/>
<circle cx="1819.3" cy="499.3" r="3.9" fill="#e8141c"/>
<circle cx="1834.6" cy="499.3" r="3.9" fill="#e8141c"/>
<circle cx="1849.8" cy="499.3" r="3.9" fill="#e8141c"/>
<circle cx="1865.1" cy="499.3" r="3.9" fill="#e8141c"/>
<circle cx="1880.3" cy="499.3" r="3.9" fill="#e8141c"/>
<circle cx="1895.5" cy="499.3" r="3.9" fill="#e8141c"/>
<circle cx="1910.8" cy="499.3" r="3.9" fill="#e8141c"/>
<circle cx="1926.0" cy="499.3" r="3.9" fill="#e8141c"/>
<circle cx="1672.7" cy="100.2" r="3.9" fill="#e8141c"/>
<circle cx="1672.7" cy="115.4" r="3.9" fill="#e8141c"/>
<circle cx="1672.7" cy="130.7" r="3.9" fill="#e8141c"/>
<circle cx="1672.7" cy="145.9" r="3.9" fill="#e8141c"/>
<circle cx="1672.7" cy="161.2" r="3.9" fill="#e8141c"/>
<circle cx="1672.7" cy="176.4" r="3.9" fill="#e8141c"/>
<circle cx="1672.7" cy="191.7" r="3.9" fill="#e8141c"/>
<circle cx="1672.7" cy="206.9" r="3.9" fill="#e8141c"/>
<circle cx="1672.7" cy="222.2" r="3.9" fill="#e8141c"/>
<circle cx="1672.7" cy="237.4" r="3.9" fill="#e8141c"/>
<circle cx="1672.7" cy="252.6" r="3.9" fill="#e8141c"/>
<circle cx="1672.7" cy="267.9" r="3.9" fill="#e8141c"/>
<circle cx="1672.7" cy="283.1" r="3.9" fill="#e8141c"/>
<circle cx="1672.7" cy="298.4" r="3.9" fill="#e8141c"/>
<circle cx="1672.7" cy="313.6" r="3.9" fill="#e8141c"/>
<circle cx="1672.7" cy="328.9" r="3.9" fill="#e8141c"/>
<circle cx="1672.7" cy="344.1" r="3.9" fill="#e8141c"/>
<circle cx="1672.7" cy="359.4" r="3.9" fill="#e8141c"/>
<circle cx="1672.7" cy="374.6" r="3.9" fill="#e8141c"/>
<circle cx="1672.7" cy="389.9" r="3.9" fill="#e8141c"/>
<circle cx="1672.7" cy="405.1" r="3.9" fill="#e8141c"/>
<circle cx="1672.7" cy="420.3" r="3.9" fill="#e8141c"/>
<circle cx="1672.7" cy="435.6" r="3.9" fill="#e8141c"/>
<circle cx="1672.7" cy="450.8" r="3.9" fill="#e8141c"/>
<circle cx="1672.7" cy="466.1" r="3.9" fill="#e8141c"/>
<circle cx="1672.7" cy="481.3" r="3.9" fill="#e8141c"/>
<circle cx="1672.7" cy="496.6" r="3.9" fill="#e8141c"/>
<circle cx="1672.7" cy="511.8" r="3.9" fill="#e8141c"/>
<circle cx="1672.7" cy="527.1" r="3.9" fill="#e8141c"/>
<circle cx="1672.7" cy="542.3" r="3.9" fill="#e8141c"/>
<circle cx="1672.7" cy="557.5" r="3.9" fill="#e8141c"/>
<circle cx="1672.7" cy="572.8" r="3.9" fill="#e8141c"/>
<circle cx="1672.7" cy="588.0" r="3.9" fill="#e8141c"/>
<circle cx="1672.7" cy="603.3" r="3.9" fill="#e8141c"/>
<circle cx="1672.7" cy="618.5" r="3.9" fill="#e8141c"/>
<circle cx="1672.7" cy="633.8" r="3.9" fill="#e8141c"/>
<circle cx="1672.7" cy="649.0" r="3.9" fill="#e8141c"/>
<circle cx="1672.7" cy="664.3" r="3.9" fill="#e8141c"/>
<circle cx="1672.7" cy="679.5" r="3.9" fill="#e8141c"/>
<circle cx="1672.7" cy="694.8" r="3.9" fill="#e8141c"/>
<circle cx="1672.7" cy="710.0" r="3.9" fill="#e8141c"/>
<circle cx="1672.7" cy="725.2" r="3.9" fill="#e8141c"/>
<circle cx="1672.7" cy="740.5" r="3.9" fill="#e8141c"/>
<circle cx="1672.7" cy="755.7" r="3.9" fill="#e8141c"/>
<circle cx="1672.7" cy="771.0" r="3.9" fill="#e8141c"/>
<circle cx="1672.7" cy="786.2" r="3.9" fill="#e8141c"/>
<circle cx="1672.7" cy="801.5" r="3.9" fill="#e8141c"/>
<circle cx="1672.7" cy="816.7" r="3.9" fill="#e8141c"/>
<circle cx="1672.7" cy="832.0" r="3.9" fill="#e8141c"/>
<circle cx="1672.7" cy="847.2" r="3.9" fill="#e8141c"/>
<text x="251.92" y="1086.90" font-size="48" font-weight="bold" fill="#8b4b2f" textLength="155.26" lengthAdjust="spacingAndGlyphs">CD11b</text>
<text x="405.62" y="1086.90" font-size="48" font-weight="bold" fill="#000" textLength="29.08" lengthAdjust="spacingAndGlyphs">+</text>
<text x="434.59" y="1086.90" font-size="48" font-weight="bold" fill="#0563ad" textLength="152.77" lengthAdjust="spacingAndGlyphs">CD66b</text>
<text x="916.37" y="1086.90" font-size="48" font-weight="bold" fill="#8b4b2f" textLength="154.41" lengthAdjust="spacingAndGlyphs">CD66b</text>
<text x="1070.71" y="1086.90" font-size="48" font-weight="bold" fill="#000" textLength="27.91" lengthAdjust="spacingAndGlyphs">+</text>
<text x="1098.57" y="1086.90" font-size="48" font-weight="bold" fill="#0563ad" textLength="124.58" lengthAdjust="spacingAndGlyphs">CD15</text>
<text x="1574.49" y="1086.90" font-size="48" font-weight="bold" fill="#8b4b2f" textLength="107.91" lengthAdjust="spacingAndGlyphs">ARG</text>
<text x="1682.70" y="1086.90" font-size="48" font-weight="bold" fill="#000" textLength="28.03" lengthAdjust="spacingAndGlyphs">+</text>
<text x="1710.68" y="1086.90" font-size="48" font-weight="bold" fill="#0563ad" textLength="153.79" lengthAdjust="spacingAndGlyphs">CD66b</text>
<text transform="translate(76.30,1507.54) rotate(-90)" font-size="48" font-weight="bold" fill="#000" textLength="340.85" lengthAdjust="spacingAndGlyphs">MIBC CASE 70</text>
<text transform="translate(76.30,1986.32) rotate(-90)" font-size="48" font-weight="bold" fill="#000" textLength="338.41" lengthAdjust="spacingAndGlyphs">MIBC CASE 79</text>
<defs><filter id="blurBig" x="-30%" y="-30%" width="160%" height="160%"><feGaussianBlur stdDeviation="9"/></filter><filter id="cellTexL" x="-5%" y="-5%" width="110%" height="110%"><feTurbulence type="fractalNoise" baseFrequency="0.09" numOctaves="2" seed="7" result="t"/><feDisplacementMap in="SourceGraphic" in2="t" scale="5" xChannelSelector="R" yChannelSelector="G" result="d0"/><feGaussianBlur in="d0" stdDeviation="0.6" result="d"/><feTurbulence type="fractalNoise" baseFrequency="0.2" numOctaves="2" seed="11" result="t2"/><feColorMatrix in="t2" type="matrix" values="0 0 0 0 0.82  0 0 0 0 0.86  0 0 0 0 0.98  1.15 0 0 0 -0.54" result="sp"/><feComposite in="sp" in2="d" operator="in" result="sp2"/><feColorMatrix in="t2" type="matrix" values="0 0 0 0 0.1  0 0 0 0 0.1  0 0 0 0 0.3  0 -1.4 0 0 0.62" result="dk"/><feComposite in="dk" in2="d" operator="in" result="dk2"/><feMerge><feMergeNode in="d"/><feMergeNode in="sp2"/><feMergeNode in="dk2"/></feMerge></filter><filter id="cellTexD" x="-5%" y="-5%" width="110%" height="110%"><feTurbulence type="fractalNoise" baseFrequency="0.07" numOctaves="2" seed="5" result="t"/><feDisplacementMap in="SourceGraphic" in2="t" scale="7" xChannelSelector="R" yChannelSelector="G" result="d0"/><feGaussianBlur in="d0" stdDeviation="0.7" result="d"/><feTurbulence type="fractalNoise" baseFrequency="0.18" numOctaves="2" seed="13" result="t2"/><feColorMatrix in="t2" type="matrix" values="0 0 0 0 0.75  0 0 0 0 0.7  0 0 0 0 0.8  0.9 0 0 0 -0.42" result="sp"/><feComposite in="sp" in2="d" operator="in" result="sp2"/><feColorMatrix in="t2" type="matrix" values="0 0 0 0 0.05  0 0 0 0 0.03  0 0 0 0 0.1  0 -1.2 0 0 0.6" result="dk"/><feComposite in="dk" in2="d" operator="in" result="dk2"/><feMerge><feMergeNode in="d"/><feMergeNode in="sp2"/><feMergeNode in="dk2"/></feMerge></filter><filter id="bgTex" x="0" y="0" width="100%" height="100%"><feTurbulence type="fractalNoise" baseFrequency="0.12" numOctaves="2" seed="3" result="t"/><feColorMatrix in="t" type="matrix" values="0 0 0 0 1  0 0 0 0 1  0 0 0 0 1  0.6 0 0 0 -0.25" result="w"/><feComposite in="w" in2="SourceGraphic" operator="in"/></filter></defs>
<defs><clipPath id="clipC"><rect x="115.0" y="1108.0" width="611.5" height="458.5"/></clipPath><radialGradient id="gCn" cx="50%" cy="48%" r="55%"><stop offset="0" stop-color="#abb8e0"/><stop offset="0.75" stop-color="#8497d2"/><stop offset="1" stop-color="#5f74c0"/></radialGradient><radialGradient id="gCN" cx="50%" cy="48%" r="55%"><stop offset="0" stop-color="#637ac4"/><stop offset="0.75" stop-color="#4e68bd"/><stop offset="1" stop-color="#3a52a6"/></radialGradient><radialGradient id="gCP" cx="50%" cy="48%" r="55%"><stop offset="0" stop-color="#b2bee3"/><stop offset="0.75" stop-color="#8fa0d6"/><stop offset="1" stop-color="#6a7ec6"/></radialGradient><radialGradient id="gCp" cx="50%" cy="48%" r="55%"><stop offset="0" stop-color="#dddbe9"/><stop offset="0.75" stop-color="#cdcbe0"/><stop offset="1" stop-color="#aaa8cc"/></radialGradient><radialGradient id="gCd" cx="50%" cy="48%" r="55%"><stop offset="0" stop-color="#414e89"/><stop offset="0.75" stop-color="#28367a"/><stop offset="1" stop-color="#1c275c"/></radialGradient><radialGradient id="gCm" cx="50%" cy="48%" r="55%"><stop offset="0" stop-color="#7f6581"/><stop offset="0.75" stop-color="#6e5070"/><stop offset="1" stop-color="#55385a"/></radialGradient><radialGradient id="gCw" cx="50%" cy="48%" r="55%"><stop offset="0" stop-color="#fbf9fb"/><stop offset="0.75" stop-color="#fbf9fb"/><stop offset="1" stop-color="#fbf9fb"/></radialGradient></defs>
<g clip-path="url(#clipC)">
<rect x="115.0" y="1108.0" width="611.5" height="458.5" fill="#ebe2e9"/>
<rect x="115.0" y="1108.0" width="611.5" height="458.5" fill="#ebe2e9" filter="url(#bgTex)"/>
<g filter="url(#blurBig)">
<ellipse cx="375.0" cy="1202.5" rx="47.3" ry="47.3" fill="#a35a48" opacity="0.5"/>
<ellipse cx="405.7" cy="1178.9" rx="23.6" ry="47.3" fill="#a35a48" opacity="0.5"/>
<ellipse cx="398.6" cy="1450.7" rx="35.4" ry="59.1" fill="#a35a48" opacity="0.5"/>
<ellipse cx="351.3" cy="1509.8" rx="47.3" ry="35.4" fill="#a35a48" opacity="0.5"/>
<ellipse cx="155.2" cy="1316.0" rx="18.9" ry="16.5" fill="#a35a48" opacity="0.5"/>
<ellipse cx="280.4" cy="1377.4" rx="37.8" ry="16.5" fill="#a35a48" opacity="0.5"/>
<ellipse cx="245.0" cy="1528.7" rx="23.6" ry="14.2" fill="#a35a48" opacity="0.5"/>
<ellipse cx="150.4" cy="1552.3" rx="23.6" ry="14.2" fill="#a35a48" opacity="0.5"/>
<ellipse cx="162.3" cy="1434.1" rx="16.5" ry="16.5" fill="#a35a48" opacity="0.5"/>
<ellipse cx="301.7" cy="1126.9" rx="14.2" ry="23.6" fill="#a35a48" opacity="0.5"/>
<ellipse cx="339.5" cy="1174.2" rx="14.2" ry="18.9" fill="#a35a48" opacity="0.5"/>
<ellipse cx="386.8" cy="1301.8" rx="18.9" ry="18.9" fill="#a35a48" opacity="0.5"/>
<ellipse cx="185.9" cy="1332.5" rx="28.4" ry="11.8" fill="#c9958a" opacity="0.4"/>
<ellipse cx="467.3" cy="1226.2" rx="47.3" ry="42.5" fill="#a35a48" opacity="0.5"/>
<ellipse cx="526.3" cy="1486.1" rx="59.1" ry="47.3" fill="#a35a48" opacity="0.5"/>
<ellipse cx="632.7" cy="1462.5" rx="70.9" ry="59.1" fill="#a35a48" opacity="0.5"/>
<ellipse cx="680.0" cy="1379.8" rx="47.3" ry="59.1" fill="#a35a48" opacity="0.5"/>
<ellipse cx="514.5" cy="1415.2" rx="47.3" ry="47.3" fill="#a35a48" opacity="0.5"/>
<ellipse cx="455.4" cy="1438.9" rx="35.4" ry="59.1" fill="#a35a48" opacity="0.5"/>
<ellipse cx="573.6" cy="1344.3" rx="59.1" ry="47.3" fill="#c9958a" opacity="0.4"/>
<ellipse cx="703.6" cy="1545.2" rx="23.6" ry="18.9" fill="#a35a48" opacity="0.5"/>
<ellipse cx="538.2" cy="1178.9" rx="23.6" ry="28.4" fill="#c9958a" opacity="0.4"/>
<ellipse cx="639.8" cy="1230.9" rx="16.5" ry="16.5" fill="#a35a48" opacity="0.5"/>
<ellipse cx="585.0" cy="1440.0" rx="80.0" ry="70.0" fill="#3a3158" opacity="0.55"/>
<ellipse cx="480.0" cy="1495.0" rx="60.0" ry="45.0" fill="#3a3158" opacity="0.55"/>
<ellipse cx="690.0" cy="1420.0" rx="35.0" ry="80.0" fill="#3a3158" opacity="0.55"/>
<ellipse cx="370.0" cy="1195.0" rx="55.0" ry="40.0" fill="#3a3158" opacity="0.55"/>
<ellipse cx="510.0" cy="1180.0" rx="30.0" ry="30.0" fill="#3a3158" opacity="0.55"/>
</g>
<g filter="url(#cellTexL)">
<ellipse cx="240.3" cy="1115.1" rx="10.6" ry="8.3" fill="url(#gCn)" stroke="#5f74c0" stroke-width="2.0" opacity="0.9"/>
<ellipse cx="311.2" cy="1119.8" rx="14.2" ry="13.0" fill="url(#gCn)" stroke="#5f74c0" stroke-width="2.0" opacity="0.9"/>
<ellipse cx="377.3" cy="1115.1" rx="9.5" ry="7.1" fill="url(#gCn)" stroke="#5f74c0" stroke-width="2.0" opacity="0.9"/>
<ellipse cx="207.2" cy="1178.9" rx="17.7" ry="16.5" fill="url(#gCn)" stroke="#5f74c0" stroke-width="2.0" opacity="0.9"/>
<ellipse cx="177.6" cy="1195.4" rx="14.2" ry="17.7" fill="url(#gCn)" stroke="#5f74c0" stroke-width="2.0" opacity="0.9"/>
<ellipse cx="130.4" cy="1197.8" rx="13.0" ry="14.2" fill="url(#gCn)" stroke="#5f74c0" stroke-width="2.0" opacity="0.9"/>
<ellipse cx="259.2" cy="1188.4" rx="13.0" ry="10.6" fill="url(#gCn)" stroke="#5f74c0" stroke-width="2.0" opacity="0.9"/>
<ellipse cx="150.4" cy="1229.7" rx="21.3" ry="17.7" fill="url(#gCn)" stroke="#5f74c0" stroke-width="2.0" opacity="0.9"/>
<ellipse cx="221.3" cy="1233.3" rx="17.7" ry="16.5" fill="url(#gCn)" stroke="#5f74c0" stroke-width="2.0" opacity="0.9"/>
<ellipse cx="261.5" cy="1228.5" rx="18.9" ry="17.7" fill="url(#gCn)" stroke="#5f74c0" stroke-width="2.0" opacity="0.9"/>
<ellipse cx="291.1" cy="1230.9" rx="8.3" ry="13.0" fill="url(#gCn)" stroke="#5f74c0" stroke-width="2.0" opacity="0.9"/>
<ellipse cx="359.6" cy="1157.6" rx="13.0" ry="16.5" fill="url(#gCn)" stroke="#5f74c0" stroke-width="2.0" opacity="0.9"/>
<ellipse cx="308.8" cy="1277.0" rx="16.5" ry="22.5" fill="url(#gCn)" stroke="#5f74c0" stroke-width="2.0" opacity="0.9"/>
<ellipse cx="219.0" cy="1287.6" rx="17.7" ry="17.7" fill="url(#gCn)" stroke="#5f74c0" stroke-width="2.0" opacity="0.9"/>
<ellipse cx="259.2" cy="1284.1" rx="14.2" ry="15.4" fill="url(#gCn)" stroke="#5f74c0" stroke-width="2.0" opacity="0.9"/>
<ellipse cx="357.2" cy="1287.6" rx="13.0" ry="9.5" fill="url(#gCN)" stroke="#3a52a6" stroke-width="2.0" opacity="0.92"/>
<ellipse cx="383.2" cy="1299.4" rx="13.0" ry="13.0" fill="url(#gCn)" stroke="#5f74c0" stroke-width="2.0" opacity="0.9"/>
<ellipse cx="196.5" cy="1310.1" rx="15.4" ry="14.2" fill="url(#gCn)" stroke="#5f74c0" stroke-width="2.0" opacity="0.9"/>
<ellipse cx="120.9" cy="1306.5" rx="9.5" ry="14.2" fill="url(#gCn)" stroke="#5f74c0" stroke-width="2.0" opacity="0.9"/>
<ellipse cx="172.9" cy="1346.7" rx="9.5" ry="8.3" fill="url(#gCn)" stroke="#5f74c0" stroke-width="2.0" opacity="0.9"/>
<ellipse cx="233.2" cy="1338.4" rx="8.3" ry="8.3" fill="url(#gCn)" stroke="#5f74c0" stroke-width="2.0" opacity="0.9"/>
</g>
<g filter="url(#cellTexD)">
<ellipse cx="267.4" cy="1327.8" rx="16.5" ry="14.2" fill="url(#gCm)" stroke="#55385a" stroke-width="1.0" opacity="0.9"/>
</g>
<g filter="url(#cellTexL)">
<ellipse cx="370.2" cy="1268.7" rx="8.3" ry="7.1" fill="url(#gCN)" stroke="#3a52a6" stroke-width="2.0" opacity="0.92"/>
<ellipse cx="408.0" cy="1273.4" rx="14.2" ry="14.2" fill="url(#gCN)" stroke="#3a52a6" stroke-width="2.0" opacity="0.92"/>
<ellipse cx="408.0" cy="1287.6" rx="11.8" ry="9.5" fill="url(#gCn)" stroke="#5f74c0" stroke-width="2.0" opacity="0.9"/>
<ellipse cx="204.8" cy="1370.3" rx="20.1" ry="8.3" fill="url(#gCn)" stroke="#5f74c0" stroke-width="2.0" opacity="0.9"/>
<ellipse cx="341.9" cy="1360.9" rx="20.1" ry="14.2" fill="url(#gCn)" stroke="#5f74c0" stroke-width="2.0" opacity="0.9"/>
<ellipse cx="353.7" cy="1388.0" rx="17.7" ry="14.2" fill="url(#gCn)" stroke="#5f74c0" stroke-width="2.0" opacity="0.9"/>
<ellipse cx="405.7" cy="1375.0" rx="16.5" ry="14.2" fill="url(#gCn)" stroke="#5f74c0" stroke-width="2.0" opacity="0.9"/>
<ellipse cx="196.5" cy="1412.9" rx="22.5" ry="20.1" fill="url(#gCn)" stroke="#5f74c0" stroke-width="2.0" opacity="0.9"/>
<ellipse cx="269.8" cy="1405.8" rx="14.2" ry="11.8" fill="url(#gCn)" stroke="#5f74c0" stroke-width="2.0" opacity="0.9"/>
<ellipse cx="318.2" cy="1408.1" rx="14.2" ry="11.8" fill="url(#gCn)" stroke="#5f74c0" stroke-width="2.0" opacity="0.9"/>
<ellipse cx="311.2" cy="1437.7" rx="16.5" ry="13.0" fill="url(#gCn)" stroke="#5f74c0" stroke-width="2.0" opacity="0.9"/>
<ellipse cx="349.0" cy="1434.1" rx="13.0" ry="16.5" fill="url(#gCn)" stroke="#5f74c0" stroke-width="2.0" opacity="0.9"/>
<ellipse cx="138.6" cy="1448.3" rx="15.4" ry="14.2" fill="url(#gCn)" stroke="#5f74c0" stroke-width="2.0" opacity="0.9"/>
<ellipse cx="226.1" cy="1455.4" rx="9.5" ry="8.3" fill="url(#gCn)" stroke="#5f74c0" stroke-width="2.0" opacity="0.9"/>
<ellipse cx="120.9" cy="1401.0" rx="5.9" ry="9.5" fill="url(#gCn)" stroke="#5f74c0" stroke-width="2.0" opacity="0.9"/>
<ellipse cx="228.4" cy="1486.1" rx="18.9" ry="17.7" fill="url(#gCn)" stroke="#5f74c0" stroke-width="2.0" opacity="0.9"/>
<ellipse cx="323.0" cy="1509.8" rx="13.0" ry="11.8" fill="url(#gCn)" stroke="#5f74c0" stroke-width="2.0" opacity="0.9"/>
<ellipse cx="176.4" cy="1549.9" rx="10.6" ry="15.4" fill="url(#gCn)" stroke="#5f74c0" stroke-width="2.0" opacity="0.9"/>
<ellipse cx="124.5" cy="1509.8" rx="8.3" ry="14.2" fill="url(#gCn)" stroke="#5f74c0" stroke-width="2.0" opacity="0.9"/>
<ellipse cx="384.4" cy="1467.2" rx="10.6" ry="9.5" fill="url(#gCn)" stroke="#5f74c0" stroke-width="2.0" opacity="0.9"/>
<ellipse cx="259.2" cy="1386.9" rx="10.6" ry="8.3" fill="url(#gCn)" stroke="#5f74c0" stroke-width="2.0" opacity="0.9"/>
<ellipse cx="330.1" cy="1372.7" rx="9.5" ry="7.1" fill="url(#gCn)" stroke="#5f74c0" stroke-width="2.0" opacity="0.9"/>
<ellipse cx="304.1" cy="1209.6" rx="9.5" ry="9.5" fill="url(#gCw)" stroke="#fbf9fb" stroke-width="1.0" opacity="0.95"/>
<ellipse cx="280.4" cy="1500.3" rx="14.2" ry="13.0" fill="url(#gCw)" stroke="#fbf9fb" stroke-width="1.0" opacity="0.95"/>
<ellipse cx="341.9" cy="1540.5" rx="14.2" ry="9.5" fill="url(#gCw)" stroke="#fbf9fb" stroke-width="1.0" opacity="0.95"/>
<ellipse cx="396.2" cy="1542.8" rx="11.8" ry="9.5" fill="url(#gCw)" stroke="#fbf9fb" stroke-width="1.0" opacity="0.95"/>
<ellipse cx="131.5" cy="1408.1" rx="9.5" ry="9.5" fill="url(#gCw)" stroke="#fbf9fb" stroke-width="1.0" opacity="0.95"/>
<ellipse cx="126.8" cy="1476.7" rx="9.5" ry="9.5" fill="url(#gCw)" stroke="#fbf9fb" stroke-width="1.0" opacity="0.95"/>
<ellipse cx="377.3" cy="1434.1" rx="7.1" ry="7.1" fill="url(#gCw)" stroke="#fbf9fb" stroke-width="1.0" opacity="0.95"/>
</g>
<g filter="url(#cellTexD)">
<ellipse cx="285.2" cy="1134.0" rx="13.0" ry="23.6" fill="url(#gCm)" stroke="#55385a" stroke-width="1.0" opacity="0.9"/>
<ellipse cx="323.0" cy="1169.4" rx="13.0" ry="21.3" fill="url(#gCd)" stroke="#1c275c" stroke-width="1.0" opacity="0.95"/>
<ellipse cx="353.7" cy="1202.5" rx="21.3" ry="16.5" fill="url(#gCd)" stroke="#1c275c" stroke-width="1.0" opacity="0.95"/>
<ellipse cx="405.7" cy="1197.8" rx="16.5" ry="30.7" fill="url(#gCd)" stroke="#1c275c" stroke-width="1.0" opacity="0.95"/>
<ellipse cx="369.1" cy="1246.3" rx="9.5" ry="9.5" fill="url(#gCd)" stroke="#1c275c" stroke-width="1.0" opacity="0.95"/>
<ellipse cx="156.4" cy="1313.6" rx="16.5" ry="14.2" fill="url(#gCd)" stroke="#1c275c" stroke-width="1.0" opacity="0.95"/>
<ellipse cx="256.8" cy="1375.0" rx="14.2" ry="16.5" fill="url(#gCd)" stroke="#1c275c" stroke-width="1.0" opacity="0.95"/>
<ellipse cx="304.1" cy="1384.5" rx="14.2" ry="14.2" fill="url(#gCd)" stroke="#1c275c" stroke-width="1.0" opacity="0.95"/>
</g>
<g filter="url(#cellTexL)">
<ellipse cx="280.4" cy="1370.3" rx="9.5" ry="10.6" fill="url(#gCN)" stroke="#3a52a6" stroke-width="2.0" opacity="0.92"/>
</g>
<g filter="url(#cellTexD)">
<ellipse cx="410.4" cy="1412.9" rx="15.4" ry="14.2" fill="url(#gCd)" stroke="#1c275c" stroke-width="1.0" opacity="0.95"/>
<ellipse cx="370.2" cy="1403.4" rx="8.3" ry="8.3" fill="url(#gCd)" stroke="#1c275c" stroke-width="1.0" opacity="0.95"/>
<ellipse cx="152.8" cy="1429.4" rx="14.2" ry="16.5" fill="url(#gCd)" stroke="#1c275c" stroke-width="1.0" opacity="0.95"/>
<ellipse cx="201.3" cy="1448.3" rx="5.9" ry="7.1" fill="url(#gCd)" stroke="#1c275c" stroke-width="1.0" opacity="0.95"/>
<ellipse cx="332.4" cy="1460.1" rx="13.0" ry="14.2" fill="url(#gCd)" stroke="#1c275c" stroke-width="1.0" opacity="0.95"/>
<ellipse cx="174.1" cy="1486.1" rx="16.5" ry="13.0" fill="url(#gCd)" stroke="#1c275c" stroke-width="1.0" opacity="0.95"/>
<ellipse cx="347.8" cy="1483.8" rx="15.4" ry="14.2" fill="url(#gCd)" stroke="#1c275c" stroke-width="1.0" opacity="0.95"/>
<ellipse cx="382.0" cy="1481.4" rx="11.8" ry="14.2" fill="url(#gCd)" stroke="#1c275c" stroke-width="1.0" opacity="0.95"/>
<ellipse cx="403.3" cy="1509.8" rx="14.2" ry="14.2" fill="url(#gCd)" stroke="#1c275c" stroke-width="1.0" opacity="0.95"/>
<ellipse cx="370.2" cy="1507.4" rx="10.6" ry="9.5" fill="url(#gCd)" stroke="#1c275c" stroke-width="1.0" opacity="0.95"/>
<ellipse cx="299.3" cy="1488.5" rx="11.8" ry="9.5" fill="url(#gCd)" stroke="#1c275c" stroke-width="1.0" opacity="0.95"/>
<ellipse cx="330.1" cy="1509.8" rx="9.5" ry="9.5" fill="url(#gCd)" stroke="#1c275c" stroke-width="1.0" opacity="0.95"/>
<ellipse cx="243.8" cy="1528.7" rx="17.7" ry="11.8" fill="url(#gCd)" stroke="#1c275c" stroke-width="1.0" opacity="0.95"/>
<ellipse cx="363.1" cy="1526.3" rx="14.2" ry="13.0" fill="url(#gCd)" stroke="#1c275c" stroke-width="1.0" opacity="0.95"/>
<ellipse cx="158.7" cy="1552.3" rx="14.2" ry="11.8" fill="url(#gCd)" stroke="#1c275c" stroke-width="1.0" opacity="0.95"/>
<ellipse cx="414.0" cy="1346.7" rx="9.5" ry="11.8" fill="url(#gCd)" stroke="#1c275c" stroke-width="1.0" opacity="0.95"/>
<ellipse cx="419.9" cy="1193.1" rx="7.1" ry="18.9" fill="url(#gCd)" stroke="#1c275c" stroke-width="1.0" opacity="0.95"/>
</g>
<g filter="url(#cellTexL)">
<ellipse cx="487.4" cy="1126.9" rx="10.6" ry="9.5" fill="url(#gCN)" stroke="#3a52a6" stroke-width="2.0" opacity="0.92"/>
<ellipse cx="548.8" cy="1131.6" rx="13.0" ry="13.0" fill="url(#gCN)" stroke="#3a52a6" stroke-width="2.0" opacity="0.92"/>
<ellipse cx="602.0" cy="1126.9" rx="8.3" ry="13.0" fill="url(#gCN)" stroke="#3a52a6" stroke-width="2.0" opacity="0.92"/>
<ellipse cx="652.8" cy="1119.8" rx="16.5" ry="14.2" fill="url(#gCn)" stroke="#5f74c0" stroke-width="2.0" opacity="0.9"/>
<ellipse cx="715.4" cy="1122.2" rx="10.6" ry="14.2" fill="url(#gCN)" stroke="#3a52a6" stroke-width="2.0" opacity="0.92"/>
<ellipse cx="584.2" cy="1143.4" rx="9.5" ry="9.5" fill="url(#gCN)" stroke="#3a52a6" stroke-width="2.0" opacity="0.92"/>
<ellipse cx="670.5" cy="1160.0" rx="10.6" ry="13.0" fill="url(#gCn)" stroke="#5f74c0" stroke-width="2.0" opacity="0.9"/>
<ellipse cx="514.5" cy="1165.9" rx="9.5" ry="7.1" fill="url(#gCN)" stroke="#3a52a6" stroke-width="2.0" opacity="0.92"/>
<ellipse cx="583.1" cy="1169.4" rx="13.0" ry="13.0" fill="url(#gCN)" stroke="#3a52a6" stroke-width="2.0" opacity="0.92"/>
<ellipse cx="585.4" cy="1183.6" rx="10.6" ry="9.5" fill="url(#gCN)" stroke="#3a52a6" stroke-width="2.0" opacity="0.92"/>
<ellipse cx="531.1" cy="1193.1" rx="13.0" ry="13.0" fill="url(#gCn)" stroke="#5f74c0" stroke-width="2.0" opacity="0.9"/>
<ellipse cx="618.5" cy="1188.4" rx="10.6" ry="14.2" fill="url(#gCn)" stroke="#5f74c0" stroke-width="2.0" opacity="0.9"/>
<ellipse cx="620.9" cy="1216.7" rx="9.5" ry="7.1" fill="url(#gCn)" stroke="#5f74c0" stroke-width="2.0" opacity="0.9"/>
<ellipse cx="577.2" cy="1228.5" rx="13.0" ry="9.5" fill="url(#gCN)" stroke="#3a52a6" stroke-width="2.0" opacity="0.92"/>
<ellipse cx="441.3" cy="1188.4" rx="18.9" ry="14.2" fill="url(#gCn)" stroke="#5f74c0" stroke-width="2.0" opacity="0.9"/>
<ellipse cx="429.5" cy="1278.2" rx="14.2" ry="11.8" fill="url(#gCn)" stroke="#5f74c0" stroke-width="2.0" opacity="0.9"/>
<ellipse cx="440.1" cy="1304.2" rx="9.5" ry="9.5" fill="url(#gCN)" stroke="#3a52a6" stroke-width="2.0" opacity="0.92"/>
<ellipse cx="498.0" cy="1303.0" rx="10.6" ry="9.5" fill="url(#gCN)" stroke="#3a52a6" stroke-width="2.0" opacity="0.92"/>
<ellipse cx="512.2" cy="1329.0" rx="10.6" ry="9.5" fill="url(#gCn)" stroke="#5f74c0" stroke-width="2.0" opacity="0.9"/>
<ellipse cx="687.0" cy="1273.4" rx="13.0" ry="17.7" fill="url(#gCn)" stroke="#5f74c0" stroke-width="2.0" opacity="0.9"/>
<ellipse cx="715.4" cy="1291.2" rx="10.6" ry="10.6" fill="url(#gCN)" stroke="#3a52a6" stroke-width="2.0" opacity="0.92"/>
<ellipse cx="646.9" cy="1308.9" rx="10.6" ry="10.6" fill="url(#gCN)" stroke="#3a52a6" stroke-width="2.0" opacity="0.92"/>
<ellipse cx="689.4" cy="1323.1" rx="10.6" ry="9.5" fill="url(#gCn)" stroke="#5f74c0" stroke-width="2.0" opacity="0.9"/>
<ellipse cx="710.7" cy="1323.1" rx="8.3" ry="9.5" fill="url(#gCn)" stroke="#5f74c0" stroke-width="2.0" opacity="0.9"/>
<ellipse cx="644.5" cy="1280.5" rx="9.5" ry="9.5" fill="url(#gCn)" stroke="#5f74c0" stroke-width="2.0" opacity="0.9"/>
<ellipse cx="604.3" cy="1313.6" rx="14.2" ry="9.5" fill="url(#gCn)" stroke="#5f74c0" stroke-width="2.0" opacity="0.9"/>
<ellipse cx="625.6" cy="1351.4" rx="14.2" ry="14.2" fill="url(#gCn)" stroke="#5f74c0" stroke-width="2.0" opacity="0.9"/>
<ellipse cx="424.7" cy="1377.4" rx="8.3" ry="14.2" fill="url(#gCn)" stroke="#5f74c0" stroke-width="2.0" opacity="0.9"/>
<ellipse cx="495.6" cy="1391.6" rx="18.9" ry="14.2" fill="url(#gCn)" stroke="#5f74c0" stroke-width="2.0" opacity="0.9"/>
<ellipse cx="502.7" cy="1462.5" rx="16.5" ry="14.2" fill="url(#gCn)" stroke="#5f74c0" stroke-width="2.0" opacity="0.9"/>
<ellipse cx="663.4" cy="1462.5" rx="21.3" ry="18.9" fill="url(#gCn)" stroke="#5f74c0" stroke-width="2.0" opacity="0.9"/>
<ellipse cx="658.7" cy="1420.0" rx="10.6" ry="10.6" fill="url(#gCn)" stroke="#5f74c0" stroke-width="2.0" opacity="0.9"/>
<ellipse cx="434.2" cy="1514.5" rx="13.0" ry="17.7" fill="url(#gCn)" stroke="#5f74c0" stroke-width="2.0" opacity="0.9"/>
<ellipse cx="680.0" cy="1443.6" rx="11.8" ry="11.8" fill="url(#gCn)" stroke="#5f74c0" stroke-width="2.0" opacity="0.9"/>
<ellipse cx="519.3" cy="1545.2" rx="8.3" ry="5.9" fill="url(#gCN)" stroke="#3a52a6" stroke-width="2.0" opacity="0.92"/>
<ellipse cx="576.0" cy="1547.6" rx="9.5" ry="9.5" fill="url(#gCn)" stroke="#5f74c0" stroke-width="2.0" opacity="0.9"/>
<ellipse cx="618.5" cy="1514.5" rx="10.6" ry="9.5" fill="url(#gCn)" stroke="#5f74c0" stroke-width="2.0" opacity="0.9"/>
<ellipse cx="713.0" cy="1486.1" rx="9.5" ry="9.5" fill="url(#gCn)" stroke="#5f74c0" stroke-width="2.0" opacity="0.9"/>
<ellipse cx="526.3" cy="1261.6" rx="14.2" ry="16.5" fill="url(#gCw)" stroke="#fbf9fb" stroke-width="1.0" opacity="0.95"/>
<ellipse cx="483.8" cy="1275.8" rx="11.8" ry="11.8" fill="url(#gCw)" stroke="#fbf9fb" stroke-width="1.0" opacity="0.95"/>
<ellipse cx="566.5" cy="1171.8" rx="9.5" ry="23.6" fill="url(#gCw)" stroke="#fbf9fb" stroke-width="1.0" opacity="0.95"/>
<ellipse cx="580.7" cy="1405.8" rx="4.7" ry="5.9" fill="url(#gCw)" stroke="#fbf9fb" stroke-width="1.0" opacity="0.95"/>
<ellipse cx="620.9" cy="1330.1" rx="16.5" ry="9.5" fill="url(#gCw)" stroke="#fbf9fb" stroke-width="1.0" opacity="0.95"/>
<ellipse cx="450.7" cy="1495.6" rx="9.5" ry="9.5" fill="url(#gCw)" stroke="#fbf9fb" stroke-width="1.0" opacity="0.95"/>
<ellipse cx="710.7" cy="1264.0" rx="9.5" ry="9.5" fill="url(#gCw)" stroke="#fbf9fb" stroke-width="1.0" opacity="0.95"/>
<ellipse cx="486.2" cy="1145.8" rx="9.5" ry="7.1" fill="url(#gCw)" stroke="#fbf9fb" stroke-width="1.0" opacity="0.95"/>
<ellipse cx="675.2" cy="1138.7" rx="9.5" ry="7.1" fill="url(#gCw)" stroke="#fbf9fb" stroke-width="1.0" opacity="0.95"/>
</g>
<g filter="url(#cellTexD)">
<ellipse cx="641.0" cy="1230.9" rx="14.2" ry="14.2" fill="url(#gCd)" stroke="#1c275c" stroke-width="1.0" opacity="0.95"/>
<ellipse cx="486.2" cy="1209.6" rx="18.9" ry="16.5" fill="url(#gCd)" stroke="#1c275c" stroke-width="1.0" opacity="0.95"/>
<ellipse cx="516.9" cy="1212.0" rx="14.2" ry="14.2" fill="url(#gCd)" stroke="#1c275c" stroke-width="1.0" opacity="0.95"/>
<ellipse cx="463.7" cy="1216.7" rx="10.6" ry="10.6" fill="url(#gCd)" stroke="#1c275c" stroke-width="1.0" opacity="0.95"/>
<ellipse cx="462.5" cy="1235.6" rx="16.5" ry="14.2" fill="url(#gCd)" stroke="#1c275c" stroke-width="1.0" opacity="0.95"/>
<ellipse cx="495.6" cy="1242.7" rx="14.2" ry="14.2" fill="url(#gCd)" stroke="#1c275c" stroke-width="1.0" opacity="0.95"/>
<ellipse cx="448.4" cy="1254.5" rx="13.0" ry="13.0" fill="url(#gCd)" stroke="#1c275c" stroke-width="1.0" opacity="0.95"/>
<ellipse cx="552.3" cy="1252.2" rx="13.0" ry="15.4" fill="url(#gCd)" stroke="#1c275c" stroke-width="1.0" opacity="0.95"/>
<ellipse cx="590.2" cy="1259.2" rx="11.8" ry="11.8" fill="url(#gCd)" stroke="#1c275c" stroke-width="1.0" opacity="0.95"/>
<ellipse cx="552.3" cy="1278.2" rx="11.8" ry="11.8" fill="url(#gCd)" stroke="#1c275c" stroke-width="1.0" opacity="0.95"/>
<ellipse cx="571.2" cy="1292.3" rx="14.2" ry="13.0" fill="url(#gCd)" stroke="#1c275c" stroke-width="1.0" opacity="0.95"/>
<ellipse cx="604.3" cy="1287.6" rx="10.6" ry="10.6" fill="url(#gCd)" stroke="#1c275c" stroke-width="1.0" opacity="0.95"/>
<ellipse cx="554.7" cy="1316.0" rx="14.2" ry="13.0" fill="url(#gCd)" stroke="#1c275c" stroke-width="1.0" opacity="0.95"/>
<ellipse cx="580.7" cy="1330.1" rx="14.2" ry="14.2" fill="url(#gCd)" stroke="#1c275c" stroke-width="1.0" opacity="0.95"/>
<ellipse cx="488.5" cy="1346.7" rx="16.5" ry="14.2" fill="url(#gCd)" stroke="#1c275c" stroke-width="1.0" opacity="0.95"/>
<ellipse cx="428.3" cy="1344.3" rx="9.5" ry="11.8" fill="url(#gCd)" stroke="#1c275c" stroke-width="1.0" opacity="0.95"/>
<ellipse cx="680.0" cy="1344.3" rx="18.9" ry="14.2" fill="url(#gCd)" stroke="#1c275c" stroke-width="1.0" opacity="0.95"/>
<ellipse cx="668.1" cy="1360.9" rx="14.2" ry="11.8" fill="url(#gCd)" stroke="#1c275c" stroke-width="1.0" opacity="0.95"/>
<ellipse cx="698.9" cy="1363.2" rx="14.2" ry="14.2" fill="url(#gCd)" stroke="#1c275c" stroke-width="1.0" opacity="0.95"/>
<ellipse cx="524.0" cy="1365.6" rx="14.2" ry="14.2" fill="url(#gCd)" stroke="#1c275c" stroke-width="1.0" opacity="0.95"/>
<ellipse cx="540.5" cy="1375.0" rx="14.2" ry="16.5" fill="url(#gCd)" stroke="#1c275c" stroke-width="1.0" opacity="0.95"/>
<ellipse cx="561.8" cy="1363.2" rx="11.8" ry="11.8" fill="url(#gCd)" stroke="#1c275c" stroke-width="1.0" opacity="0.95"/>
<ellipse cx="585.4" cy="1370.3" rx="11.8" ry="11.8" fill="url(#gCd)" stroke="#1c275c" stroke-width="1.0" opacity="0.95"/>
<ellipse cx="609.1" cy="1389.2" rx="14.2" ry="14.2" fill="url(#gCd)" stroke="#1c275c" stroke-width="1.0" opacity="0.95"/>
<ellipse cx="628.0" cy="1410.5" rx="14.2" ry="14.2" fill="url(#gCd)" stroke="#1c275c" stroke-width="1.0" opacity="0.95"/>
<ellipse cx="450.7" cy="1391.6" rx="18.9" ry="16.5" fill="url(#gCd)" stroke="#1c275c" stroke-width="1.0" opacity="0.95"/>
<ellipse cx="446.0" cy="1420.0" rx="14.2" ry="14.2" fill="url(#gCd)" stroke="#1c275c" stroke-width="1.0" opacity="0.95"/>
<ellipse cx="472.0" cy="1420.0" rx="11.8" ry="11.8" fill="url(#gCd)" stroke="#1c275c" stroke-width="1.0" opacity="0.95"/>
<ellipse cx="528.7" cy="1429.4" rx="11.8" ry="11.8" fill="url(#gCd)" stroke="#1c275c" stroke-width="1.0" opacity="0.95"/>
<ellipse cx="552.3" cy="1443.6" rx="11.8" ry="14.2" fill="url(#gCd)" stroke="#1c275c" stroke-width="1.0" opacity="0.95"/>
<ellipse cx="585.4" cy="1448.3" rx="11.8" ry="11.8" fill="url(#gCd)" stroke="#1c275c" stroke-width="1.0" opacity="0.95"/>
<ellipse cx="609.1" cy="1434.1" rx="11.8" ry="11.8" fill="url(#gCd)" stroke="#1c275c" stroke-width="1.0" opacity="0.95"/>
<ellipse cx="632.7" cy="1450.7" rx="11.8" ry="11.8" fill="url(#gCd)" stroke="#1c275c" stroke-width="1.0" opacity="0.95"/>
<ellipse cx="672.9" cy="1398.7" rx="14.2" ry="11.8" fill="url(#gCd)" stroke="#1c275c" stroke-width="1.0" opacity="0.95"/>
<ellipse cx="691.8" cy="1415.2" rx="14.2" ry="14.2" fill="url(#gCd)" stroke="#1c275c" stroke-width="1.0" opacity="0.95"/>
<ellipse cx="703.6" cy="1434.1" rx="14.2" ry="14.2" fill="url(#gCd)" stroke="#1c275c" stroke-width="1.0" opacity="0.95"/>
<ellipse cx="680.0" cy="1434.1" rx="9.5" ry="9.5" fill="url(#gCd)" stroke="#1c275c" stroke-width="1.0" opacity="0.95"/>
<ellipse cx="429.5" cy="1443.6" rx="11.8" ry="14.2" fill="url(#gCd)" stroke="#1c275c" stroke-width="1.0" opacity="0.95"/>
<ellipse cx="450.7" cy="1455.4" rx="11.8" ry="14.2" fill="url(#gCd)" stroke="#1c275c" stroke-width="1.0" opacity="0.95"/>
<ellipse cx="479.1" cy="1476.7" rx="9.5" ry="11.8" fill="url(#gCd)" stroke="#1c275c" stroke-width="1.0" opacity="0.95"/>
<ellipse cx="521.6" cy="1490.8" rx="14.2" ry="11.8" fill="url(#gCd)" stroke="#1c275c" stroke-width="1.0" opacity="0.95"/>
<ellipse cx="542.9" cy="1500.3" rx="14.2" ry="14.2" fill="url(#gCd)" stroke="#1c275c" stroke-width="1.0" opacity="0.95"/>
<ellipse cx="514.5" cy="1514.5" rx="14.2" ry="14.2" fill="url(#gCd)" stroke="#1c275c" stroke-width="1.0" opacity="0.95"/>
<ellipse cx="566.5" cy="1507.4" rx="9.5" ry="9.5" fill="url(#gCd)" stroke="#1c275c" stroke-width="1.0" opacity="0.95"/>
<ellipse cx="590.2" cy="1495.6" rx="11.8" ry="11.8" fill="url(#gCd)" stroke="#1c275c" stroke-width="1.0" opacity="0.95"/>
<ellipse cx="609.1" cy="1486.1" rx="11.8" ry="11.8" fill="url(#gCd)" stroke="#1c275c" stroke-width="1.0" opacity="0.95"/>
<ellipse cx="628.0" cy="1497.9" rx="11.8" ry="11.8" fill="url(#gCd)" stroke="#1c275c" stroke-width="1.0" opacity="0.95"/>
<ellipse cx="646.9" cy="1495.6" rx="9.5" ry="9.5" fill="url(#gCd)" stroke="#1c275c" stroke-width="1.0" opacity="0.95"/>
<ellipse cx="604.3" cy="1528.7" rx="11.8" ry="9.5" fill="url(#gCd)" stroke="#1c275c" stroke-width="1.0" opacity="0.95"/>
<ellipse cx="680.0" cy="1519.2" rx="11.8" ry="11.8" fill="url(#gCd)" stroke="#1c275c" stroke-width="1.0" opacity="0.95"/>
<ellipse cx="708.3" cy="1514.5" rx="14.2" ry="14.2" fill="url(#gCd)" stroke="#1c275c" stroke-width="1.0" opacity="0.95"/>
<ellipse cx="698.9" cy="1542.8" rx="14.2" ry="14.2" fill="url(#gCd)" stroke="#1c275c" stroke-width="1.0" opacity="0.95"/>
<ellipse cx="661.1" cy="1552.3" rx="11.8" ry="9.5" fill="url(#gCd)" stroke="#1c275c" stroke-width="1.0" opacity="0.95"/>
<ellipse cx="552.3" cy="1557.0" rx="9.5" ry="7.1" fill="url(#gCd)" stroke="#1c275c" stroke-width="1.0" opacity="0.95"/>
<ellipse cx="429.5" cy="1538.1" rx="11.8" ry="11.8" fill="url(#gCd)" stroke="#1c275c" stroke-width="1.0" opacity="0.95"/>
<ellipse cx="486.2" cy="1554.7" rx="9.5" ry="9.5" fill="url(#gCd)" stroke="#1c275c" stroke-width="1.0" opacity="0.95"/>
<ellipse cx="623.2" cy="1264.0" rx="9.5" ry="7.1" fill="url(#gCd)" stroke="#1c275c" stroke-width="1.0" opacity="0.95"/>
<ellipse cx="620.9" cy="1308.9" rx="5.9" ry="5.9" fill="url(#gCd)" stroke="#1c275c" stroke-width="1.0" opacity="0.95"/>
</g>
<polygon points="299.4,1180.1 275.4,1167.4 277.9,1180.1 275.4,1192.8" fill="#f50514"/>
<polygon points="462.8,1350.9 438.8,1338.2 441.3,1350.9 438.8,1363.6" fill="#f50514"/>
<polygon points="376.9,1417.6 352.9,1404.9 355.4,1417.6 352.9,1430.3" fill="#f50514"/>
<polygon points="487.8,1513.6 463.8,1500.9 466.3,1513.6 463.8,1526.3" fill="#f50514"/>
</g>
<defs><clipPath id="clipE"><rect x="763.0" y="1108.0" width="612.0" height="458.5"/></clipPath><radialGradient id="gEn" cx="50%" cy="48%" r="55%"><stop offset="0" stop-color="#d5d4eb"/><stop offset="0.75" stop-color="#c2c0e2"/><stop offset="1" stop-color="#8e8ccb"/></radialGradient><radialGradient id="gEP" cx="50%" cy="48%" r="55%"><stop offset="0" stop-color="#c4bde1"/><stop offset="0.75" stop-color="#a99ed4"/><stop offset="1" stop-color="#8d82c4"/></radialGradient><radialGradient id="gEp" cx="50%" cy="48%" r="55%"><stop offset="0" stop-color="#e0dbeb"/><stop offset="0.75" stop-color="#d2cbe2"/><stop offset="1" stop-color="#b3abd0"/></radialGradient><radialGradient id="gEM" cx="50%" cy="48%" r="55%"><stop offset="0" stop-color="#7b3e3e"/><stop offset="0.75" stop-color="#6a2424"/><stop offset="1" stop-color="#461414"/></radialGradient><radialGradient id="gEO" cx="50%" cy="48%" r="55%"><stop offset="0" stop-color="#a66548"/><stop offset="0.75" stop-color="#9a5030"/><stop offset="1" stop-color="#7a3c22"/></radialGradient><radialGradient id="gEX" cx="50%" cy="48%" r="55%"><stop offset="0" stop-color="#474d73"/><stop offset="0.75" stop-color="#2e3560"/><stop offset="1" stop-color="#202648"/></radialGradient><radialGradient id="gET" cx="50%" cy="48%" r="55%"><stop offset="0" stop-color="#3896cb"/><stop offset="0.75" stop-color="#1d88c4"/><stop offset="1" stop-color="#1670a6"/></radialGradient><radialGradient id="gEw" cx="50%" cy="48%" r="55%"><stop offset="0" stop-color="#f8f5f6"/><stop offset="0.75" stop-color="#f8f4f5"/><stop offset="1" stop-color="#f8f4f5"/></radialGradient></defs>
<g clip-path="url(#clipE)">
<rect x="763.0" y="1108.0" width="612.0" height="458.5" fill="#efe4e6"/>
<rect x="763.0" y="1108.0" width="612.0" height="458.5" fill="#efe4e6" filter="url(#bgTex)"/>
<g filter="url(#blurBig)">
<ellipse cx="975.7" cy="1167.1" rx="59.1" ry="35.4" fill="#6e2a2a" opacity="0.62"/>
<ellipse cx="1011.1" cy="1285.2" rx="59.1" ry="47.3" fill="#6e2a2a" opacity="0.62"/>
<ellipse cx="833.9" cy="1356.1" rx="59.1" ry="59.1" fill="#6e2a2a" opacity="0.62"/>
<ellipse cx="810.3" cy="1521.6" rx="59.1" ry="47.3" fill="#6e2a2a" opacity="0.62"/>
<ellipse cx="928.4" cy="1486.1" rx="59.1" ry="47.3" fill="#6e2a2a" opacity="0.62"/>
<ellipse cx="1023.0" cy="1497.9" rx="47.3" ry="47.3" fill="#6e2a2a" opacity="0.62"/>
<ellipse cx="857.5" cy="1273.4" rx="35.4" ry="23.6" fill="#6e2a2a" opacity="0.62"/>
<ellipse cx="904.8" cy="1136.4" rx="28.4" ry="9.5" fill="#2a90c8" opacity="0.4"/>
<ellipse cx="904.8" cy="1273.4" rx="23.6" ry="18.9" fill="#2a90c8" opacity="0.4"/>
<ellipse cx="857.5" cy="1415.2" rx="23.6" ry="23.6" fill="#2a90c8" opacity="0.4"/>
<ellipse cx="798.4" cy="1332.5" rx="18.9" ry="14.2" fill="#2a90c8" opacity="0.4"/>
<ellipse cx="975.7" cy="1403.4" rx="23.6" ry="14.2" fill="#2a90c8" opacity="0.4"/>
<ellipse cx="1046.6" cy="1462.5" rx="14.2" ry="14.2" fill="#2a90c8" opacity="0.4"/>
<ellipse cx="869.3" cy="1462.5" rx="35.4" ry="23.6" fill="#ab9dd5" opacity="0.55"/>
<ellipse cx="798.4" cy="1450.7" rx="23.6" ry="23.6" fill="#ab9dd5" opacity="0.55"/>
<ellipse cx="904.8" cy="1368.0" rx="23.6" ry="23.6" fill="#ab9dd5" opacity="0.55"/>
<ellipse cx="1104.4" cy="1273.4" rx="35.4" ry="59.1" fill="#6e2a2a" opacity="0.62"/>
<ellipse cx="1139.9" cy="1391.6" rx="35.4" ry="47.3" fill="#6e2a2a" opacity="0.62"/>
<ellipse cx="1087.9" cy="1327.8" rx="23.6" ry="23.6" fill="#2a90c8" opacity="0.4"/>
</g>
<g filter="url(#cellTexL)">
<ellipse cx="841.0" cy="1148.2" rx="11.8" ry="13.0" fill="url(#gEn)" stroke="#8e8ccb" stroke-width="2.0" opacity="0.6"/>
<ellipse cx="817.4" cy="1197.8" rx="14.2" ry="16.5" fill="url(#gEn)" stroke="#8e8ccb" stroke-width="2.0" opacity="0.6"/>
<ellipse cx="864.6" cy="1238.0" rx="14.2" ry="14.2" fill="url(#gEn)" stroke="#8e8ccb" stroke-width="2.0" opacity="0.6"/>
<ellipse cx="895.3" cy="1245.1" rx="14.2" ry="14.2" fill="url(#gEP)" stroke="#8d82c4" stroke-width="2.0" opacity="0.9"/>
<ellipse cx="864.6" cy="1278.2" rx="11.8" ry="11.8" fill="url(#gEP)" stroke="#8d82c4" stroke-width="2.0" opacity="0.9"/>
<ellipse cx="904.8" cy="1162.4" rx="21.3" ry="21.3" fill="url(#gEw)" stroke="#f8f4f5" stroke-width="1.0" opacity="0.75"/>
<ellipse cx="992.2" cy="1134.0" rx="11.8" ry="11.8" fill="url(#gEn)" stroke="#8e8ccb" stroke-width="2.0" opacity="0.6"/>
<ellipse cx="781.9" cy="1143.4" rx="11.8" ry="9.5" fill="url(#gEn)" stroke="#8e8ccb" stroke-width="2.0" opacity="0.6"/>
<ellipse cx="1053.7" cy="1155.3" rx="11.8" ry="9.5" fill="url(#gEn)" stroke="#8e8ccb" stroke-width="2.0" opacity="0.6"/>
<ellipse cx="900.1" cy="1308.9" rx="16.5" ry="11.8" fill="url(#gEP)" stroke="#8d82c4" stroke-width="2.0" opacity="0.9"/>
<ellipse cx="852.8" cy="1268.7" rx="9.5" ry="9.5" fill="url(#gEP)" stroke="#8d82c4" stroke-width="2.0" opacity="0.9"/>
<ellipse cx="781.9" cy="1368.0" rx="18.9" ry="23.6" fill="url(#gEP)" stroke="#8d82c4" stroke-width="2.0" opacity="0.9"/>
<ellipse cx="786.6" cy="1304.2" rx="9.5" ry="14.2" fill="url(#gEP)" stroke="#8d82c4" stroke-width="2.0" opacity="0.9"/>
<ellipse cx="822.1" cy="1297.1" rx="9.5" ry="9.5" fill="url(#gEP)" stroke="#8d82c4" stroke-width="2.0" opacity="0.9"/>
<ellipse cx="909.5" cy="1358.5" rx="16.5" ry="14.2" fill="url(#gEn)" stroke="#8e8ccb" stroke-width="2.0" opacity="0.6"/>
<ellipse cx="919.0" cy="1438.9" rx="16.5" ry="16.5" fill="url(#gEP)" stroke="#8d82c4" stroke-width="2.0" opacity="0.9"/>
<ellipse cx="878.8" cy="1479.0" rx="14.2" ry="14.2" fill="url(#gEP)" stroke="#8d82c4" stroke-width="2.0" opacity="0.9"/>
<ellipse cx="824.4" cy="1427.0" rx="9.5" ry="14.2" fill="url(#gEP)" stroke="#8d82c4" stroke-width="2.0" opacity="0.9"/>
<ellipse cx="815.0" cy="1448.3" rx="11.8" ry="11.8" fill="url(#gEP)" stroke="#8d82c4" stroke-width="2.0" opacity="0.9"/>
<ellipse cx="961.5" cy="1382.1" rx="9.5" ry="9.5" fill="url(#gEn)" stroke="#8e8ccb" stroke-width="2.0" opacity="0.6"/>
<ellipse cx="1037.1" cy="1403.4" rx="11.8" ry="11.8" fill="url(#gEn)" stroke="#8e8ccb" stroke-width="2.0" opacity="0.6"/>
<ellipse cx="1013.5" cy="1417.6" rx="9.5" ry="9.5" fill="url(#gEn)" stroke="#8e8ccb" stroke-width="2.0" opacity="0.6"/>
<ellipse cx="1001.7" cy="1330.1" rx="11.8" ry="11.8" fill="url(#gEP)" stroke="#8d82c4" stroke-width="2.0" opacity="0.9"/>
<ellipse cx="1027.7" cy="1323.1" rx="9.5" ry="9.5" fill="url(#gEn)" stroke="#8e8ccb" stroke-width="2.0" opacity="0.6"/>
<ellipse cx="833.9" cy="1547.6" rx="11.8" ry="11.8" fill="url(#gEP)" stroke="#8d82c4" stroke-width="2.0" opacity="0.9"/>
<ellipse cx="928.4" cy="1552.3" rx="9.5" ry="9.5" fill="url(#gEP)" stroke="#8d82c4" stroke-width="2.0" opacity="0.9"/>
<ellipse cx="1046.6" cy="1557.0" rx="14.2" ry="9.5" fill="url(#gEn)" stroke="#8e8ccb" stroke-width="2.0" opacity="0.6"/>
<ellipse cx="966.2" cy="1438.9" rx="11.8" ry="11.8" fill="url(#gEn)" stroke="#8e8ccb" stroke-width="2.0" opacity="0.6"/>
<ellipse cx="928.4" cy="1358.5" rx="23.6" ry="14.2" fill="url(#gEw)" stroke="#f8f4f5" stroke-width="1.0" opacity="0.75"/>
<ellipse cx="803.2" cy="1230.9" rx="18.9" ry="14.2" fill="url(#gEw)" stroke="#f8f4f5" stroke-width="1.0" opacity="0.75"/>
<ellipse cx="987.5" cy="1238.0" rx="18.9" ry="23.6" fill="url(#gEw)" stroke="#f8f4f5" stroke-width="1.0" opacity="0.75"/>
<ellipse cx="1023.0" cy="1438.9" rx="18.9" ry="18.9" fill="url(#gEw)" stroke="#f8f4f5" stroke-width="1.0" opacity="0.75"/>
<ellipse cx="1058.4" cy="1356.1" rx="9.5" ry="23.6" fill="url(#gEw)" stroke="#f8f4f5" stroke-width="1.0" opacity="0.75"/>
<ellipse cx="963.9" cy="1457.8" rx="11.8" ry="9.5" fill="url(#gEw)" stroke="#f8f4f5" stroke-width="1.0" opacity="0.75"/>
<ellipse cx="772.5" cy="1240.3" rx="9.5" ry="14.2" fill="url(#gEw)" stroke="#f8f4f5" stroke-width="1.0" opacity="0.75"/>
</g>
<g filter="url(#cellTexD)">
<ellipse cx="942.6" cy="1155.3" rx="18.9" ry="26.0" fill="url(#gEM)" stroke="#461414" stroke-width="1.0" opacity="0.97"/>
<ellipse cx="980.4" cy="1167.1" rx="23.6" ry="21.3" fill="url(#gEM)" stroke="#461414" stroke-width="1.0" opacity="0.97"/>
<ellipse cx="999.3" cy="1162.4" rx="18.9" ry="18.9" fill="url(#gEM)" stroke="#461414" stroke-width="1.0" opacity="0.97"/>
<ellipse cx="1041.9" cy="1181.3" rx="21.3" ry="23.6" fill="url(#gEM)" stroke="#461414" stroke-width="1.0" opacity="0.97"/>
<ellipse cx="942.6" cy="1202.5" rx="16.5" ry="14.2" fill="url(#gEM)" stroke="#461414" stroke-width="1.0" opacity="0.97"/>
<ellipse cx="876.4" cy="1207.3" rx="16.5" ry="21.3" fill="url(#gEM)" stroke="#461414" stroke-width="1.0" opacity="0.97"/>
<ellipse cx="841.0" cy="1178.9" rx="9.5" ry="9.5" fill="url(#gEM)" stroke="#461414" stroke-width="1.0" opacity="0.97"/>
<ellipse cx="843.4" cy="1216.7" rx="7.1" ry="7.1" fill="url(#gEM)" stroke="#461414" stroke-width="1.0" opacity="0.97"/>
<ellipse cx="817.4" cy="1268.7" rx="18.9" ry="18.9" fill="url(#gEM)" stroke="#461414" stroke-width="1.0" opacity="0.97"/>
<ellipse cx="928.4" cy="1273.4" rx="18.9" ry="18.9" fill="url(#gEM)" stroke="#461414" stroke-width="1.0" opacity="0.97"/>
<ellipse cx="916.6" cy="1301.8" rx="11.8" ry="11.8" fill="url(#gEM)" stroke="#461414" stroke-width="1.0" opacity="0.97"/>
<ellipse cx="975.7" cy="1278.2" rx="16.5" ry="18.9" fill="url(#gEM)" stroke="#461414" stroke-width="1.0" opacity="0.97"/>
<ellipse cx="1006.4" cy="1297.1" rx="21.3" ry="23.6" fill="url(#gEM)" stroke="#461414" stroke-width="1.0" opacity="0.97"/>
<ellipse cx="1046.6" cy="1273.4" rx="21.3" ry="23.6" fill="url(#gEM)" stroke="#461414" stroke-width="1.0" opacity="0.97"/>
<ellipse cx="1041.9" cy="1308.9" rx="14.2" ry="14.2" fill="url(#gEM)" stroke="#461414" stroke-width="1.0" opacity="0.97"/>
<ellipse cx="968.6" cy="1353.8" rx="18.9" ry="18.9" fill="url(#gEM)" stroke="#461414" stroke-width="1.0" opacity="0.97"/>
<ellipse cx="999.3" cy="1375.0" rx="11.8" ry="14.2" fill="url(#gEM)" stroke="#461414" stroke-width="1.0" opacity="0.97"/>
<ellipse cx="833.9" cy="1356.1" rx="16.5" ry="18.9" fill="url(#gEM)" stroke="#461414" stroke-width="1.0" opacity="0.97"/>
<ellipse cx="862.3" cy="1368.0" rx="16.5" ry="18.9" fill="url(#gEM)" stroke="#461414" stroke-width="1.0" opacity="0.97"/>
<ellipse cx="815.0" cy="1342.0" rx="14.2" ry="14.2" fill="url(#gEM)" stroke="#461414" stroke-width="1.0" opacity="0.97"/>
<ellipse cx="800.8" cy="1398.7" rx="14.2" ry="18.9" fill="url(#gEM)" stroke="#461414" stroke-width="1.0" opacity="0.97"/>
<ellipse cx="786.6" cy="1443.6" rx="14.2" ry="14.2" fill="url(#gEM)" stroke="#461414" stroke-width="1.0" opacity="0.97"/>
<ellipse cx="770.1" cy="1462.5" rx="9.5" ry="18.9" fill="url(#gEM)" stroke="#461414" stroke-width="1.0" opacity="0.97"/>
<ellipse cx="805.5" cy="1469.6" rx="14.2" ry="14.2" fill="url(#gEM)" stroke="#461414" stroke-width="1.0" opacity="0.97"/>
<ellipse cx="876.4" cy="1427.0" rx="14.2" ry="14.2" fill="url(#gEM)" stroke="#461414" stroke-width="1.0" opacity="0.97"/>
<ellipse cx="937.9" cy="1422.3" rx="14.2" ry="16.5" fill="url(#gEM)" stroke="#461414" stroke-width="1.0" opacity="0.97"/>
<ellipse cx="975.7" cy="1412.9" rx="14.2" ry="14.2" fill="url(#gEM)" stroke="#461414" stroke-width="1.0" opacity="0.97"/>
<ellipse cx="914.2" cy="1479.0" rx="18.9" ry="21.3" fill="url(#gEM)" stroke="#461414" stroke-width="1.0" opacity="0.97"/>
<ellipse cx="947.3" cy="1476.7" rx="16.5" ry="18.9" fill="url(#gEM)" stroke="#461414" stroke-width="1.0" opacity="0.97"/>
<ellipse cx="989.9" cy="1479.0" rx="14.2" ry="14.2" fill="url(#gEM)" stroke="#461414" stroke-width="1.0" opacity="0.97"/>
<ellipse cx="1011.1" cy="1450.7" rx="14.2" ry="14.2" fill="url(#gEM)" stroke="#461414" stroke-width="1.0" opacity="0.97"/>
<ellipse cx="1032.4" cy="1495.6" rx="16.5" ry="18.9" fill="url(#gEM)" stroke="#461414" stroke-width="1.0" opacity="0.97"/>
<ellipse cx="1058.4" cy="1495.6" rx="11.8" ry="18.9" fill="url(#gEM)" stroke="#461414" stroke-width="1.0" opacity="0.97"/>
<ellipse cx="786.6" cy="1507.4" rx="23.6" ry="21.3" fill="url(#gEM)" stroke="#461414" stroke-width="1.0" opacity="0.97"/>
<ellipse cx="822.1" cy="1523.9" rx="18.9" ry="18.9" fill="url(#gEM)" stroke="#461414" stroke-width="1.0" opacity="0.97"/>
<ellipse cx="772.5" cy="1545.2" rx="14.2" ry="18.9" fill="url(#gEM)" stroke="#461414" stroke-width="1.0" opacity="0.97"/>
<ellipse cx="852.8" cy="1538.1" rx="18.9" ry="18.9" fill="url(#gEM)" stroke="#461414" stroke-width="1.0" opacity="0.97"/>
<ellipse cx="881.2" cy="1547.6" rx="16.5" ry="16.5" fill="url(#gEM)" stroke="#461414" stroke-width="1.0" opacity="0.97"/>
<ellipse cx="909.5" cy="1545.2" rx="14.2" ry="14.2" fill="url(#gEM)" stroke="#461414" stroke-width="1.0" opacity="0.97"/>
<ellipse cx="963.9" cy="1509.8" rx="14.2" ry="14.2" fill="url(#gEM)" stroke="#461414" stroke-width="1.0" opacity="0.97"/>
<ellipse cx="1008.8" cy="1547.6" rx="18.9" ry="18.9" fill="url(#gEM)" stroke="#461414" stroke-width="1.0" opacity="0.97"/>
<ellipse cx="980.4" cy="1545.2" rx="14.2" ry="14.2" fill="url(#gEM)" stroke="#461414" stroke-width="1.0" opacity="0.97"/>
<ellipse cx="1060.8" cy="1391.6" rx="7.1" ry="14.2" fill="url(#gEM)" stroke="#461414" stroke-width="1.0" opacity="0.97"/>
<ellipse cx="1041.9" cy="1360.9" rx="5.9" ry="5.9" fill="url(#gEM)" stroke="#461414" stroke-width="1.0" opacity="0.97"/>
<ellipse cx="841.0" cy="1557.0" rx="11.8" ry="9.5" fill="url(#gEM)" stroke="#461414" stroke-width="1.0" opacity="0.97"/>
<ellipse cx="1058.4" cy="1230.9" rx="11.8" ry="14.2" fill="url(#gEO)" stroke="#7a3c22" stroke-width="1.0" opacity="0.92"/>
<ellipse cx="793.7" cy="1453.0" rx="11.8" ry="14.2" fill="url(#gEO)" stroke="#7a3c22" stroke-width="1.0" opacity="0.92"/>
<ellipse cx="895.3" cy="1197.8" rx="9.5" ry="9.5" fill="url(#gET)" stroke="#1670a6" stroke-width="1.0" opacity="0.9"/>
<ellipse cx="895.3" cy="1271.1" rx="14.2" ry="14.2" fill="url(#gET)" stroke="#1670a6" stroke-width="1.0" opacity="0.9"/>
<ellipse cx="928.4" cy="1249.8" rx="7.1" ry="7.1" fill="url(#gET)" stroke="#1670a6" stroke-width="1.0" opacity="0.9"/>
<ellipse cx="841.0" cy="1410.5" rx="14.2" ry="14.2" fill="url(#gET)" stroke="#1670a6" stroke-width="1.0" opacity="0.9"/>
<ellipse cx="862.3" cy="1398.7" rx="9.5" ry="9.5" fill="url(#gET)" stroke="#1670a6" stroke-width="1.0" opacity="0.9"/>
<ellipse cx="966.2" cy="1391.6" rx="9.5" ry="9.5" fill="url(#gET)" stroke="#1670a6" stroke-width="1.0" opacity="0.9"/>
<ellipse cx="1046.6" cy="1469.6" rx="11.8" ry="11.8" fill="url(#gET)" stroke="#1670a6" stroke-width="1.0" opacity="0.9"/>
<ellipse cx="829.2" cy="1330.1" rx="16.5" ry="14.2" fill="url(#gEX)" stroke="#202648" stroke-width="1.0" opacity="0.95"/>
<ellipse cx="904.8" cy="1141.1" rx="23.6" ry="7.1" fill="url(#gET)" stroke="#1670a6" stroke-width="1.0" opacity="0.9"/>
<ellipse cx="805.5" cy="1332.5" rx="9.5" ry="9.5" fill="url(#gET)" stroke="#1670a6" stroke-width="1.0" opacity="0.9"/>
<ellipse cx="767.7" cy="1169.4" rx="4.7" ry="4.7" fill="url(#gET)" stroke="#1670a6" stroke-width="1.0" opacity="0.9"/>
<ellipse cx="772.5" cy="1278.2" rx="4.7" ry="4.7" fill="url(#gET)" stroke="#1670a6" stroke-width="1.0" opacity="0.9"/>
<ellipse cx="1023.0" cy="1247.4" rx="7.1" ry="7.1" fill="url(#gET)" stroke="#1670a6" stroke-width="1.0" opacity="0.9"/>
<ellipse cx="1034.8" cy="1344.3" rx="7.1" ry="7.1" fill="url(#gET)" stroke="#1670a6" stroke-width="1.0" opacity="0.9"/>
<ellipse cx="779.5" cy="1372.7" rx="4.7" ry="4.7" fill="url(#gET)" stroke="#1670a6" stroke-width="1.0" opacity="0.9"/>
<ellipse cx="975.7" cy="1490.8" rx="7.1" ry="7.1" fill="url(#gET)" stroke="#1670a6" stroke-width="1.0" opacity="0.9"/>
<ellipse cx="945.0" cy="1526.3" rx="9.5" ry="9.5" fill="url(#gET)" stroke="#1670a6" stroke-width="1.0" opacity="0.9"/>
</g>
<g filter="url(#cellTexL)">
<ellipse cx="1194.3" cy="1131.6" rx="15.4" ry="18.9" fill="url(#gEn)" stroke="#8e8ccb" stroke-width="2.0" opacity="0.6"/>
<ellipse cx="1135.2" cy="1148.2" rx="13.0" ry="15.4" fill="url(#gEn)" stroke="#8e8ccb" stroke-width="2.0" opacity="0.6"/>
<ellipse cx="1163.5" cy="1212.0" rx="10.6" ry="18.9" fill="url(#gEn)" stroke="#8e8ccb" stroke-width="2.0" opacity="0.6"/>
<ellipse cx="1139.9" cy="1226.2" rx="8.3" ry="14.2" fill="url(#gEn)" stroke="#8e8ccb" stroke-width="2.0" opacity="0.6"/>
<ellipse cx="1215.5" cy="1171.8" rx="16.5" ry="18.9" fill="url(#gEn)" stroke="#8e8ccb" stroke-width="2.0" opacity="0.6"/>
<ellipse cx="1232.1" cy="1212.0" rx="18.9" ry="21.3" fill="url(#gEn)" stroke="#8e8ccb" stroke-width="2.0" opacity="0.6"/>
<ellipse cx="1277.0" cy="1207.3" rx="18.9" ry="18.9" fill="url(#gEn)" stroke="#8e8ccb" stroke-width="2.0" opacity="0.6"/>
<ellipse cx="1109.2" cy="1292.3" rx="14.2" ry="16.5" fill="url(#gEn)" stroke="#8e8ccb" stroke-width="2.0" opacity="0.6"/>
<ellipse cx="1128.1" cy="1342.0" rx="14.2" ry="14.2" fill="url(#gEP)" stroke="#8d82c4" stroke-width="2.0" opacity="0.9"/>
<ellipse cx="1154.1" cy="1389.2" rx="14.2" ry="14.2" fill="url(#gEP)" stroke="#8d82c4" stroke-width="2.0" opacity="0.9"/>
<ellipse cx="1243.9" cy="1256.9" rx="16.5" ry="15.4" fill="url(#gEn)" stroke="#8e8ccb" stroke-width="2.0" opacity="0.6"/>
<ellipse cx="1284.1" cy="1254.5" rx="14.2" ry="18.9" fill="url(#gEn)" stroke="#8e8ccb" stroke-width="2.0" opacity="0.6"/>
<ellipse cx="1326.6" cy="1282.9" rx="11.8" ry="14.2" fill="url(#gEn)" stroke="#8e8ccb" stroke-width="2.0" opacity="0.6"/>
<ellipse cx="1284.1" cy="1292.3" rx="14.2" ry="18.9" fill="url(#gEn)" stroke="#8e8ccb" stroke-width="2.0" opacity="0.6"/>
<ellipse cx="1222.6" cy="1311.2" rx="10.6" ry="13.0" fill="url(#gEn)" stroke="#8e8ccb" stroke-width="2.0" opacity="0.6"/>
<ellipse cx="1187.2" cy="1278.2" rx="9.5" ry="18.9" fill="url(#gEn)" stroke="#8e8ccb" stroke-width="2.0" opacity="0.6"/>
<ellipse cx="1210.8" cy="1337.2" rx="10.6" ry="15.4" fill="url(#gEn)" stroke="#8e8ccb" stroke-width="2.0" opacity="0.6"/>
<ellipse cx="1251.0" cy="1332.5" rx="14.2" ry="33.1" fill="url(#gEn)" stroke="#8e8ccb" stroke-width="2.0" opacity="0.6"/>
<ellipse cx="1293.5" cy="1339.6" rx="11.8" ry="14.2" fill="url(#gEn)" stroke="#8e8ccb" stroke-width="2.0" opacity="0.6"/>
<ellipse cx="1243.9" cy="1368.0" rx="14.2" ry="14.2" fill="url(#gEn)" stroke="#8e8ccb" stroke-width="2.0" opacity="0.6"/>
<ellipse cx="1255.7" cy="1410.5" rx="14.2" ry="14.2" fill="url(#gEn)" stroke="#8e8ccb" stroke-width="2.0" opacity="0.6"/>
<ellipse cx="1201.3" cy="1438.9" rx="14.2" ry="16.5" fill="url(#gEn)" stroke="#8e8ccb" stroke-width="2.0" opacity="0.6"/>
<ellipse cx="1352.6" cy="1391.6" rx="14.2" ry="14.2" fill="url(#gEn)" stroke="#8e8ccb" stroke-width="2.0" opacity="0.6"/>
<ellipse cx="1347.9" cy="1509.8" rx="18.9" ry="23.6" fill="url(#gEn)" stroke="#8e8ccb" stroke-width="2.0" opacity="0.6"/>
<ellipse cx="1362.0" cy="1474.3" rx="9.5" ry="14.2" fill="url(#gEn)" stroke="#8e8ccb" stroke-width="2.0" opacity="0.6"/>
<ellipse cx="1097.4" cy="1497.9" rx="14.2" ry="14.2" fill="url(#gEn)" stroke="#8e8ccb" stroke-width="2.0" opacity="0.6"/>
<ellipse cx="1125.7" cy="1509.8" rx="14.2" ry="14.2" fill="url(#gEn)" stroke="#8e8ccb" stroke-width="2.0" opacity="0.6"/>
<ellipse cx="1083.2" cy="1540.5" rx="14.2" ry="18.9" fill="url(#gEn)" stroke="#8e8ccb" stroke-width="2.0" opacity="0.6"/>
<ellipse cx="1139.9" cy="1545.2" rx="11.8" ry="11.8" fill="url(#gEn)" stroke="#8e8ccb" stroke-width="2.0" opacity="0.6"/>
<ellipse cx="1234.4" cy="1545.2" rx="11.8" ry="14.2" fill="url(#gEn)" stroke="#8e8ccb" stroke-width="2.0" opacity="0.6"/>
<ellipse cx="1329.0" cy="1545.2" rx="14.2" ry="14.2" fill="url(#gEn)" stroke="#8e8ccb" stroke-width="2.0" opacity="0.6"/>
<ellipse cx="1281.7" cy="1460.1" rx="21.3" ry="16.5" fill="url(#gEP)" stroke="#8d82c4" stroke-width="2.0" opacity="0.9"/>
<ellipse cx="1201.3" cy="1502.7" rx="14.2" ry="14.2" fill="url(#gEn)" stroke="#8e8ccb" stroke-width="2.0" opacity="0.6"/>
<ellipse cx="1092.6" cy="1436.5" rx="16.5" ry="16.5" fill="url(#gEw)" stroke="#f8f4f5" stroke-width="1.0" opacity="0.75"/>
<ellipse cx="1248.6" cy="1448.3" rx="21.3" ry="21.3" fill="url(#gEw)" stroke="#f8f4f5" stroke-width="1.0" opacity="0.75"/>
<ellipse cx="1326.6" cy="1197.8" rx="14.2" ry="14.2" fill="url(#gEw)" stroke="#f8f4f5" stroke-width="1.0" opacity="0.75"/>
<ellipse cx="1317.1" cy="1230.9" rx="9.5" ry="9.5" fill="url(#gEw)" stroke="#f8f4f5" stroke-width="1.0" opacity="0.75"/>
<ellipse cx="1265.2" cy="1379.8" rx="18.9" ry="16.5" fill="url(#gEw)" stroke="#f8f4f5" stroke-width="1.0" opacity="0.75"/>
<ellipse cx="1347.9" cy="1316.0" rx="14.2" ry="14.2" fill="url(#gEw)" stroke="#f8f4f5" stroke-width="1.0" opacity="0.75"/>
</g>
<g filter="url(#cellTexD)">
<ellipse cx="1158.8" cy="1176.5" rx="14.2" ry="16.5" fill="url(#gEM)" stroke="#461414" stroke-width="1.0" opacity="0.97"/>
<ellipse cx="1301.8" cy="1164.7" rx="14.2" ry="14.2" fill="url(#gEM)" stroke="#461414" stroke-width="1.0" opacity="0.97"/>
<ellipse cx="1347.9" cy="1160.0" rx="16.5" ry="11.8" fill="url(#gET)" stroke="#1670a6" stroke-width="1.0" opacity="0.9"/>
<ellipse cx="1366.8" cy="1143.4" rx="9.5" ry="14.2" fill="url(#gEM)" stroke="#461414" stroke-width="1.0" opacity="0.97"/>
<ellipse cx="1364.4" cy="1186.0" rx="11.8" ry="16.5" fill="url(#gET)" stroke="#1670a6" stroke-width="1.0" opacity="0.9"/>
<ellipse cx="1080.8" cy="1188.4" rx="14.2" ry="11.8" fill="url(#gEM)" stroke="#461414" stroke-width="1.0" opacity="0.97"/>
<ellipse cx="1104.4" cy="1240.3" rx="14.2" ry="14.2" fill="url(#gEM)" stroke="#461414" stroke-width="1.0" opacity="0.97"/>
<ellipse cx="1090.3" cy="1278.2" rx="18.9" ry="23.6" fill="url(#gEM)" stroke="#461414" stroke-width="1.0" opacity="0.97"/>
<ellipse cx="1137.5" cy="1297.1" rx="14.2" ry="23.6" fill="url(#gEM)" stroke="#461414" stroke-width="1.0" opacity="0.97"/>
<ellipse cx="1073.7" cy="1278.2" rx="7.1" ry="16.5" fill="url(#gEM)" stroke="#461414" stroke-width="1.0" opacity="0.97"/>
<ellipse cx="1090.3" cy="1325.4" rx="21.3" ry="21.3" fill="url(#gET)" stroke="#1670a6" stroke-width="1.0" opacity="0.9"/>
<ellipse cx="1130.4" cy="1363.2" rx="23.6" ry="23.6" fill="url(#gEM)" stroke="#461414" stroke-width="1.0" opacity="0.97"/>
<ellipse cx="1175.3" cy="1382.1" rx="11.8" ry="14.2" fill="url(#gEM)" stroke="#461414" stroke-width="1.0" opacity="0.97"/>
<ellipse cx="1151.7" cy="1417.6" rx="18.9" ry="14.2" fill="url(#gEM)" stroke="#461414" stroke-width="1.0" opacity="0.97"/>
<ellipse cx="1139.9" cy="1434.1" rx="11.8" ry="9.5" fill="url(#gEX)" stroke="#202648" stroke-width="1.0" opacity="0.95"/>
<ellipse cx="1173.0" cy="1410.5" rx="9.5" ry="11.8" fill="url(#gET)" stroke="#1670a6" stroke-width="1.0" opacity="0.9"/>
<ellipse cx="1085.5" cy="1391.6" rx="9.5" ry="9.5" fill="url(#gET)" stroke="#1670a6" stroke-width="1.0" opacity="0.9"/>
<ellipse cx="1286.4" cy="1464.9" rx="16.5" ry="11.8" fill="url(#gET)" stroke="#1670a6" stroke-width="1.0" opacity="0.9"/>
<ellipse cx="1364.4" cy="1438.9" rx="14.2" ry="18.9" fill="url(#gEM)" stroke="#461414" stroke-width="1.0" opacity="0.97"/>
<ellipse cx="1352.6" cy="1403.4" rx="9.5" ry="9.5" fill="url(#gET)" stroke="#1670a6" stroke-width="1.0" opacity="0.9"/>
<ellipse cx="1156.4" cy="1500.3" rx="14.2" ry="14.2" fill="url(#gEX)" stroke="#202648" stroke-width="1.0" opacity="0.95"/>
<ellipse cx="1076.1" cy="1497.9" rx="9.5" ry="18.9" fill="url(#gEM)" stroke="#461414" stroke-width="1.0" opacity="0.97"/>
<ellipse cx="1286.4" cy="1514.5" rx="11.8" ry="9.5" fill="url(#gEO)" stroke="#7a3c22" stroke-width="1.0" opacity="0.92"/>
<ellipse cx="1196.6" cy="1552.3" rx="14.2" ry="14.2" fill="url(#gEM)" stroke="#461414" stroke-width="1.0" opacity="0.97"/>
<ellipse cx="1369.1" cy="1240.3" rx="9.5" ry="9.5" fill="url(#gEX)" stroke="#202648" stroke-width="1.0" opacity="0.95"/>
<ellipse cx="1350.2" cy="1249.8" rx="7.1" ry="7.1" fill="url(#gEO)" stroke="#7a3c22" stroke-width="1.0" opacity="0.92"/>
<ellipse cx="1336.0" cy="1332.5" rx="7.1" ry="7.1" fill="url(#gET)" stroke="#1670a6" stroke-width="1.0" opacity="0.9"/>
<ellipse cx="1182.4" cy="1235.6" rx="7.1" ry="7.1" fill="url(#gET)" stroke="#1670a6" stroke-width="1.0" opacity="0.9"/>
</g>
<polygon points="923.7,1163.0 899.7,1150.3 902.2,1163.0 899.7,1175.7" fill="#f50514"/>
<polygon points="1277.2,1170.3 1253.2,1157.6 1255.7,1170.3 1253.2,1183.0" fill="#f50514"/>
<polygon points="1038.6,1316.0 1051.3,1340.0 1038.6,1337.5 1025.9,1340.0" fill="#f50514"/>
<polygon points="1123.9,1426.6 1099.9,1413.9 1102.4,1426.6 1099.9,1439.3" fill="#f50514"/>
</g>
<defs><clipPath id="clipG"><rect x="1414.0" y="1108.0" width="611.0" height="458.5"/></clipPath><radialGradient id="gGn" cx="50%" cy="48%" r="55%"><stop offset="0" stop-color="#a7b6e3"/><stop offset="0.75" stop-color="#7f95d6"/><stop offset="1" stop-color="#5a74c2"/></radialGradient><radialGradient id="gGN" cx="50%" cy="48%" r="55%"><stop offset="0" stop-color="#647dcb"/><stop offset="0.75" stop-color="#4f6cc4"/><stop offset="1" stop-color="#3c58ac"/></radialGradient><radialGradient id="gGp" cx="50%" cy="48%" r="55%"><stop offset="0" stop-color="#e1dae3"/><stop offset="0.75" stop-color="#d3cad6"/><stop offset="1" stop-color="#b4abc4"/></radialGradient><radialGradient id="gGK" cx="50%" cy="48%" r="55%"><stop offset="0" stop-color="#633e31"/><stop offset="0.75" stop-color="#4e2416"/><stop offset="1" stop-color="#361810"/></radialGradient><radialGradient id="gGb" cx="50%" cy="48%" r="55%"><stop offset="0" stop-color="#a06c47"/><stop offset="0.75" stop-color="#94582f"/><stop offset="1" stop-color="#784422"/></radialGradient><radialGradient id="gGT" cx="50%" cy="48%" r="55%"><stop offset="0" stop-color="#328099"/><stop offset="0.75" stop-color="#176f8c"/><stop offset="1" stop-color="#115870"/></radialGradient><radialGradient id="gGV" cx="50%" cy="48%" r="55%"><stop offset="0" stop-color="#4775cb"/><stop offset="0.75" stop-color="#2f63c4"/><stop offset="1" stop-color="#244ea6"/></radialGradient><radialGradient id="gGg" cx="50%" cy="48%" r="55%"><stop offset="0" stop-color="#9c98ab"/><stop offset="0.75" stop-color="#8f8aa0"/><stop offset="1" stop-color="#706c88"/></radialGradient></defs>
<g clip-path="url(#clipG)">
<rect x="1414.0" y="1108.0" width="611.0" height="458.5" fill="#eee2da"/>
<rect x="1414.0" y="1108.0" width="611.0" height="458.5" fill="#eee2da" filter="url(#bgTex)"/>
<g filter="url(#blurBig)">
<ellipse cx="1449.4" cy="1462.5" rx="35.4" ry="70.9" fill="#d9a280" opacity="0.35"/>
<ellipse cx="1461.3" cy="1308.9" rx="18.9" ry="28.4" fill="#d9a280" opacity="0.35"/>
<ellipse cx="1650.3" cy="1509.8" rx="35.4" ry="35.4" fill="#d9a280" opacity="0.35"/>
<ellipse cx="1638.5" cy="1178.9" rx="18.9" ry="35.4" fill="#d9a280" opacity="0.35"/>
<ellipse cx="1555.8" cy="1214.3" rx="18.9" ry="18.9" fill="#d9a280" opacity="0.35"/>
<ellipse cx="1709.4" cy="1533.4" rx="18.9" ry="23.6" fill="#d9a280" opacity="0.35"/>
<ellipse cx="1754.4" cy="1497.9" rx="18.9" ry="47.3" fill="#d9a280" opacity="0.35"/>
<ellipse cx="1908.1" cy="1391.6" rx="23.6" ry="35.4" fill="#d9a280" opacity="0.35"/>
<ellipse cx="1979.0" cy="1486.1" rx="35.4" ry="35.4" fill="#d9a280" opacity="0.35"/>
<ellipse cx="1837.2" cy="1131.6" rx="23.6" ry="18.9" fill="#d9a280" opacity="0.35"/>
<ellipse cx="1789.9" cy="1273.4" rx="23.6" ry="23.6" fill="#d9a280" opacity="0.35"/>
</g>
<g filter="url(#cellTexL)">
<ellipse cx="1475.4" cy="1143.4" rx="20.1" ry="16.5" fill="url(#gGn)" stroke="#5a74c2" stroke-width="2.0" opacity="0.9"/>
<ellipse cx="1444.7" cy="1143.4" rx="8.3" ry="9.5" fill="url(#gGn)" stroke="#5a74c2" stroke-width="2.0" opacity="0.9"/>
<ellipse cx="1421.1" cy="1164.7" rx="8.3" ry="10.6" fill="url(#gGn)" stroke="#5a74c2" stroke-width="2.0" opacity="0.9"/>
<ellipse cx="1444.7" cy="1171.8" rx="11.8" ry="9.5" fill="url(#gGn)" stroke="#5a74c2" stroke-width="2.0" opacity="0.9"/>
<ellipse cx="1482.5" cy="1171.8" rx="11.8" ry="9.5" fill="url(#gGn)" stroke="#5a74c2" stroke-width="2.0" opacity="0.9"/>
<ellipse cx="1508.5" cy="1169.4" rx="14.2" ry="9.5" fill="url(#gGn)" stroke="#5a74c2" stroke-width="2.0" opacity="0.9"/>
<ellipse cx="1470.7" cy="1193.1" rx="16.5" ry="7.1" fill="url(#gGN)" stroke="#3c58ac" stroke-width="2.0" opacity="0.92"/>
<ellipse cx="1567.6" cy="1117.5" rx="16.5" ry="11.8" fill="url(#gGn)" stroke="#5a74c2" stroke-width="2.0" opacity="0.9"/>
<ellipse cx="1600.7" cy="1112.7" rx="9.5" ry="7.1" fill="url(#gGn)" stroke="#5a74c2" stroke-width="2.0" opacity="0.9"/>
<ellipse cx="1622.0" cy="1152.9" rx="14.2" ry="18.9" fill="url(#gGn)" stroke="#5a74c2" stroke-width="2.0" opacity="0.9"/>
<ellipse cx="1664.5" cy="1150.5" rx="14.2" ry="18.9" fill="url(#gGn)" stroke="#5a74c2" stroke-width="2.0" opacity="0.9"/>
<ellipse cx="1683.4" cy="1124.5" rx="9.5" ry="9.5" fill="url(#gGn)" stroke="#5a74c2" stroke-width="2.0" opacity="0.9"/>
<ellipse cx="1697.6" cy="1148.2" rx="9.5" ry="9.5" fill="url(#gGn)" stroke="#5a74c2" stroke-width="2.0" opacity="0.9"/>
<ellipse cx="1714.1" cy="1131.6" rx="7.1" ry="11.8" fill="url(#gGn)" stroke="#5a74c2" stroke-width="2.0" opacity="0.9"/>
<ellipse cx="1591.2" cy="1190.7" rx="16.5" ry="26.0" fill="url(#gGn)" stroke="#5a74c2" stroke-width="2.0" opacity="0.9"/>
<ellipse cx="1659.8" cy="1188.4" rx="11.8" ry="9.5" fill="url(#gGn)" stroke="#5a74c2" stroke-width="2.0" opacity="0.9"/>
<ellipse cx="1704.7" cy="1207.3" rx="16.5" ry="23.6" fill="url(#gGn)" stroke="#5a74c2" stroke-width="2.0" opacity="0.9"/>
<ellipse cx="1508.5" cy="1230.9" rx="13.0" ry="10.6" fill="url(#gGn)" stroke="#5a74c2" stroke-width="2.0" opacity="0.9"/>
<ellipse cx="1428.2" cy="1245.1" rx="14.2" ry="18.9" fill="url(#gGn)" stroke="#5a74c2" stroke-width="2.0" opacity="0.9"/>
<ellipse cx="1494.4" cy="1259.2" rx="18.9" ry="21.3" fill="url(#gGn)" stroke="#5a74c2" stroke-width="2.0" opacity="0.9"/>
<ellipse cx="1574.7" cy="1256.9" rx="11.8" ry="11.8" fill="url(#gGn)" stroke="#5a74c2" stroke-width="2.0" opacity="0.9"/>
<ellipse cx="1584.2" cy="1278.2" rx="9.5" ry="9.5" fill="url(#gGn)" stroke="#5a74c2" stroke-width="2.0" opacity="0.9"/>
<ellipse cx="1674.0" cy="1235.6" rx="21.3" ry="21.3" fill="url(#gGn)" stroke="#5a74c2" stroke-width="2.0" opacity="0.9"/>
<ellipse cx="1690.5" cy="1287.6" rx="18.9" ry="23.6" fill="url(#gGn)" stroke="#5a74c2" stroke-width="2.0" opacity="0.9"/>
<ellipse cx="1440.0" cy="1280.5" rx="23.6" ry="14.2" fill="url(#gGn)" stroke="#5a74c2" stroke-width="2.0" opacity="0.9" transform="rotate(30 1440.0 1280.5)"/>
<ellipse cx="1428.2" cy="1297.1" rx="14.2" ry="11.8" fill="url(#gGn)" stroke="#5a74c2" stroke-width="2.0" opacity="0.9"/>
<ellipse cx="1655.1" cy="1297.1" rx="14.2" ry="14.2" fill="url(#gGn)" stroke="#5a74c2" stroke-width="2.0" opacity="0.9"/>
<ellipse cx="1702.3" cy="1327.8" rx="9.5" ry="11.8" fill="url(#gGn)" stroke="#5a74c2" stroke-width="2.0" opacity="0.9"/>
<ellipse cx="1506.2" cy="1316.0" rx="23.6" ry="21.3" fill="url(#gGn)" stroke="#5a74c2" stroke-width="2.0" opacity="0.9"/>
<ellipse cx="1480.2" cy="1334.9" rx="18.9" ry="21.3" fill="url(#gGn)" stroke="#5a74c2" stroke-width="2.0" opacity="0.9"/>
<ellipse cx="1520.3" cy="1353.8" rx="9.5" ry="9.5" fill="url(#gGn)" stroke="#5a74c2" stroke-width="2.0" opacity="0.9"/>
<ellipse cx="1567.6" cy="1339.6" rx="16.5" ry="18.9" fill="url(#gGn)" stroke="#5a74c2" stroke-width="2.0" opacity="0.9"/>
<ellipse cx="1603.1" cy="1316.0" rx="9.5" ry="9.5" fill="url(#gGN)" stroke="#3c58ac" stroke-width="2.0" opacity="0.92"/>
<ellipse cx="1461.3" cy="1375.0" rx="9.5" ry="9.5" fill="url(#gGn)" stroke="#5a74c2" stroke-width="2.0" opacity="0.9"/>
<ellipse cx="1551.1" cy="1398.7" rx="18.9" ry="18.9" fill="url(#gGn)" stroke="#5a74c2" stroke-width="2.0" opacity="0.9"/>
<ellipse cx="1591.2" cy="1403.4" rx="14.2" ry="11.8" fill="url(#gGn)" stroke="#5a74c2" stroke-width="2.0" opacity="0.9"/>
<ellipse cx="1508.5" cy="1429.4" rx="11.8" ry="14.2" fill="url(#gGn)" stroke="#5a74c2" stroke-width="2.0" opacity="0.9"/>
<ellipse cx="1475.4" cy="1445.9" rx="16.5" ry="18.9" fill="url(#gGn)" stroke="#5a74c2" stroke-width="2.0" opacity="0.9"/>
<ellipse cx="1544.0" cy="1450.7" rx="16.5" ry="18.9" fill="url(#gGn)" stroke="#5a74c2" stroke-width="2.0" opacity="0.9"/>
<ellipse cx="1629.1" cy="1471.9" rx="16.5" ry="21.3" fill="url(#gGn)" stroke="#5a74c2" stroke-width="2.0" opacity="0.9"/>
<ellipse cx="1449.4" cy="1476.7" rx="14.2" ry="14.2" fill="url(#gGn)" stroke="#5a74c2" stroke-width="2.0" opacity="0.9"/>
<ellipse cx="1489.6" cy="1493.2" rx="14.2" ry="11.8" fill="url(#gGn)" stroke="#5a74c2" stroke-width="2.0" opacity="0.9"/>
<ellipse cx="1525.1" cy="1479.0" rx="11.8" ry="11.8" fill="url(#gGn)" stroke="#5a74c2" stroke-width="2.0" opacity="0.9"/>
<ellipse cx="1555.8" cy="1509.8" rx="16.5" ry="21.3" fill="url(#gGn)" stroke="#5a74c2" stroke-width="2.0" opacity="0.9"/>
<ellipse cx="1669.2" cy="1448.3" rx="11.8" ry="14.2" fill="url(#gGn)" stroke="#5a74c2" stroke-width="2.0" opacity="0.9"/>
<ellipse cx="1593.6" cy="1552.3" rx="11.8" ry="11.8" fill="url(#gGn)" stroke="#5a74c2" stroke-width="2.0" opacity="0.9"/>
<ellipse cx="1716.5" cy="1368.0" rx="4.7" ry="9.5" fill="url(#gGn)" stroke="#5a74c2" stroke-width="2.0" opacity="0.9"/>
<ellipse cx="1709.4" cy="1486.1" rx="7.1" ry="14.2" fill="url(#gGp)" stroke="#b4abc4" stroke-width="2.0" opacity="0.7"/>
<ellipse cx="1674.0" cy="1557.0" rx="14.2" ry="9.5" fill="url(#gGn)" stroke="#5a74c2" stroke-width="2.0" opacity="0.9"/>
<ellipse cx="1458.9" cy="1557.0" rx="9.5" ry="9.5" fill="url(#gGp)" stroke="#b4abc4" stroke-width="2.0" opacity="0.7"/>
<ellipse cx="1619.6" cy="1540.5" rx="7.1" ry="9.5" fill="url(#gGp)" stroke="#b4abc4" stroke-width="2.0" opacity="0.7"/>
</g>
<g filter="url(#cellTexD)">
<ellipse cx="1579.4" cy="1152.9" rx="13.0" ry="13.0" fill="url(#gGK)" stroke="#361810" stroke-width="1.0" opacity="0.95"/>
<ellipse cx="1574.7" cy="1155.3" rx="7.1" ry="7.1" fill="url(#gGT)" stroke="#115870" stroke-width="1.0" opacity="0.92"/>
<ellipse cx="1624.3" cy="1228.5" rx="14.2" ry="14.2" fill="url(#gGT)" stroke="#115870" stroke-width="1.0" opacity="0.92"/>
<ellipse cx="1591.2" cy="1245.1" rx="11.8" ry="9.5" fill="url(#gGb)" stroke="#784422" stroke-width="1.0" opacity="0.9"/>
<ellipse cx="1633.8" cy="1254.5" rx="16.5" ry="14.2" fill="url(#gGK)" stroke="#361810" stroke-width="1.0" opacity="0.95"/>
<ellipse cx="1604.2" cy="1265.2" rx="9.5" ry="9.5" fill="url(#gGg)" stroke="#706c88" stroke-width="1.0" opacity="0.85"/>
<ellipse cx="1631.4" cy="1304.2" rx="16.5" ry="14.2" fill="url(#gGK)" stroke="#361810" stroke-width="1.0" opacity="0.95"/>
<ellipse cx="1650.3" cy="1332.5" rx="21.3" ry="18.9" fill="url(#gGK)" stroke="#361810" stroke-width="1.0" opacity="0.95"/>
<ellipse cx="1421.1" cy="1370.3" rx="9.5" ry="9.5" fill="url(#gGT)" stroke="#115870" stroke-width="1.0" opacity="0.92"/>
<ellipse cx="1507.3" cy="1382.1" rx="11.8" ry="9.5" fill="url(#gGV)" stroke="#244ea6" stroke-width="1.0" opacity="0.92"/>
<ellipse cx="1510.9" cy="1401.0" rx="11.8" ry="9.5" fill="url(#gGK)" stroke="#361810" stroke-width="1.0" opacity="0.95"/>
<ellipse cx="1586.5" cy="1443.6" rx="28.4" ry="23.6" fill="url(#gGK)" stroke="#361810" stroke-width="1.0" opacity="0.95"/>
<ellipse cx="1565.2" cy="1474.3" rx="7.1" ry="9.5" fill="url(#gGb)" stroke="#784422" stroke-width="1.0" opacity="0.9"/>
<ellipse cx="1674.0" cy="1481.4" rx="14.2" ry="16.5" fill="url(#gGK)" stroke="#361810" stroke-width="1.0" opacity="0.95"/>
<ellipse cx="1685.8" cy="1401.0" rx="11.8" ry="14.2" fill="url(#gGb)" stroke="#784422" stroke-width="1.0" opacity="0.9"/>
<ellipse cx="1704.7" cy="1405.8" rx="11.8" ry="14.2" fill="url(#gGT)" stroke="#115870" stroke-width="1.0" opacity="0.92"/>
<ellipse cx="1650.3" cy="1445.9" rx="11.8" ry="9.5" fill="url(#gGV)" stroke="#244ea6" stroke-width="1.0" opacity="0.92"/>
<ellipse cx="1612.5" cy="1507.4" rx="11.8" ry="14.2" fill="url(#gGT)" stroke="#115870" stroke-width="1.0" opacity="0.92"/>
<ellipse cx="1522.7" cy="1542.8" rx="14.2" ry="21.3" fill="url(#gGK)" stroke="#361810" stroke-width="1.0" opacity="0.95"/>
<ellipse cx="1697.6" cy="1547.6" rx="5.9" ry="9.5" fill="url(#gGb)" stroke="#784422" stroke-width="1.0" opacity="0.9"/>
</g>
<g filter="url(#cellTexL)">
<ellipse cx="1726.1" cy="1129.3" rx="9.5" ry="14.2" fill="url(#gGn)" stroke="#5a74c2" stroke-width="2.0" opacity="0.9"/>
<ellipse cx="1766.3" cy="1112.7" rx="11.8" ry="9.5" fill="url(#gGn)" stroke="#5a74c2" stroke-width="2.0" opacity="0.9"/>
<ellipse cx="1808.8" cy="1115.1" rx="14.2" ry="9.5" fill="url(#gGn)" stroke="#5a74c2" stroke-width="2.0" opacity="0.9"/>
<ellipse cx="1846.6" cy="1143.4" rx="15.4" ry="15.4" fill="url(#gGn)" stroke="#5a74c2" stroke-width="2.0" opacity="0.9"/>
<ellipse cx="1889.2" cy="1162.4" rx="15.4" ry="16.5" fill="url(#gGn)" stroke="#5a74c2" stroke-width="2.0" opacity="0.9"/>
<ellipse cx="1924.6" cy="1167.1" rx="14.2" ry="16.5" fill="url(#gGn)" stroke="#5a74c2" stroke-width="2.0" opacity="0.9"/>
<ellipse cx="1945.9" cy="1131.6" rx="14.2" ry="11.8" fill="url(#gGn)" stroke="#5a74c2" stroke-width="2.0" opacity="0.9"/>
<ellipse cx="1988.4" cy="1162.4" rx="22.5" ry="17.7" fill="url(#gGn)" stroke="#5a74c2" stroke-width="2.0" opacity="0.9"/>
<ellipse cx="2009.7" cy="1117.5" rx="14.2" ry="9.5" fill="url(#gGn)" stroke="#5a74c2" stroke-width="2.0" opacity="0.9"/>
<ellipse cx="1901.0" cy="1126.9" rx="9.5" ry="7.1" fill="url(#gGn)" stroke="#5a74c2" stroke-width="2.0" opacity="0.9"/>
<ellipse cx="1756.8" cy="1150.5" rx="9.5" ry="9.5" fill="url(#gGp)" stroke="#b4abc4" stroke-width="2.0" opacity="0.7"/>
<ellipse cx="1723.7" cy="1212.0" rx="7.1" ry="14.2" fill="url(#gGn)" stroke="#5a74c2" stroke-width="2.0" opacity="0.9"/>
<ellipse cx="1832.4" cy="1207.3" rx="23.6" ry="21.3" fill="url(#gGn)" stroke="#5a74c2" stroke-width="2.0" opacity="0.9"/>
<ellipse cx="1778.1" cy="1226.2" rx="14.2" ry="14.2" fill="url(#gGp)" stroke="#b4abc4" stroke-width="2.0" opacity="0.7"/>
<ellipse cx="1955.3" cy="1207.3" rx="14.2" ry="14.2" fill="url(#gGn)" stroke="#5a74c2" stroke-width="2.0" opacity="0.9"/>
<ellipse cx="1995.5" cy="1200.2" rx="9.5" ry="9.5" fill="url(#gGp)" stroke="#b4abc4" stroke-width="2.0" opacity="0.7"/>
<ellipse cx="2021.5" cy="1219.1" rx="7.1" ry="14.2" fill="url(#gGn)" stroke="#5a74c2" stroke-width="2.0" opacity="0.9"/>
<ellipse cx="2016.8" cy="1254.5" rx="9.5" ry="11.8" fill="url(#gGn)" stroke="#5a74c2" stroke-width="2.0" opacity="0.9"/>
<ellipse cx="1983.7" cy="1275.8" rx="16.5" ry="16.5" fill="url(#gGn)" stroke="#5a74c2" stroke-width="2.0" opacity="0.9"/>
<ellipse cx="1905.7" cy="1297.1" rx="15.4" ry="16.5" fill="url(#gGn)" stroke="#5a74c2" stroke-width="2.0" opacity="0.9"/>
<ellipse cx="2014.4" cy="1313.6" rx="11.8" ry="14.2" fill="url(#gGn)" stroke="#5a74c2" stroke-width="2.0" opacity="0.9"/>
<ellipse cx="1775.7" cy="1339.6" rx="11.8" ry="14.2" fill="url(#gGn)" stroke="#5a74c2" stroke-width="2.0" opacity="0.9"/>
<ellipse cx="1813.5" cy="1339.6" rx="14.2" ry="14.2" fill="url(#gGn)" stroke="#5a74c2" stroke-width="2.0" opacity="0.9"/>
<ellipse cx="1875.0" cy="1330.1" rx="14.2" ry="14.2" fill="url(#gGn)" stroke="#5a74c2" stroke-width="2.0" opacity="0.9"/>
<ellipse cx="1910.4" cy="1351.4" rx="16.5" ry="16.5" fill="url(#gGn)" stroke="#5a74c2" stroke-width="2.0" opacity="0.9"/>
<ellipse cx="1950.6" cy="1351.4" rx="14.2" ry="14.2" fill="url(#gGn)" stroke="#5a74c2" stroke-width="2.0" opacity="0.9"/>
<ellipse cx="1983.7" cy="1334.9" rx="18.9" ry="18.9" fill="url(#gGn)" stroke="#5a74c2" stroke-width="2.0" opacity="0.9"/>
<ellipse cx="1860.8" cy="1365.6" rx="14.2" ry="16.5" fill="url(#gGn)" stroke="#5a74c2" stroke-width="2.0" opacity="0.9"/>
<ellipse cx="1830.1" cy="1377.4" rx="14.2" ry="16.5" fill="url(#gGn)" stroke="#5a74c2" stroke-width="2.0" opacity="0.9"/>
<ellipse cx="1782.8" cy="1377.4" rx="14.2" ry="16.5" fill="url(#gGn)" stroke="#5a74c2" stroke-width="2.0" opacity="0.9"/>
<ellipse cx="1730.8" cy="1368.0" rx="14.2" ry="16.5" fill="url(#gGn)" stroke="#5a74c2" stroke-width="2.0" opacity="0.9"/>
<ellipse cx="1981.3" cy="1375.0" rx="14.2" ry="16.5" fill="url(#gGn)" stroke="#5a74c2" stroke-width="2.0" opacity="0.9"/>
<ellipse cx="1806.4" cy="1410.5" rx="11.8" ry="16.5" fill="url(#gGn)" stroke="#5a74c2" stroke-width="2.0" opacity="0.9"/>
<ellipse cx="1839.5" cy="1424.7" rx="13.0" ry="16.5" fill="url(#gGn)" stroke="#5a74c2" stroke-width="2.0" opacity="0.9"/>
<ellipse cx="1924.6" cy="1441.2" rx="8.3" ry="9.5" fill="url(#gGn)" stroke="#5a74c2" stroke-width="2.0" opacity="0.9"/>
<ellipse cx="1950.6" cy="1429.4" rx="9.5" ry="14.2" fill="url(#gGn)" stroke="#5a74c2" stroke-width="2.0" opacity="0.9"/>
<ellipse cx="1976.6" cy="1427.0" rx="8.3" ry="14.2" fill="url(#gGn)" stroke="#5a74c2" stroke-width="2.0" opacity="0.9"/>
<ellipse cx="1768.6" cy="1479.0" rx="11.8" ry="14.2" fill="url(#gGn)" stroke="#5a74c2" stroke-width="2.0" opacity="0.9"/>
<ellipse cx="1867.9" cy="1483.8" rx="18.9" ry="16.5" fill="url(#gGn)" stroke="#5a74c2" stroke-width="2.0" opacity="0.9"/>
<ellipse cx="1815.9" cy="1514.5" rx="14.2" ry="16.5" fill="url(#gGn)" stroke="#5a74c2" stroke-width="2.0" opacity="0.9"/>
<ellipse cx="1927.0" cy="1516.8" rx="9.5" ry="9.5" fill="url(#gGn)" stroke="#5a74c2" stroke-width="2.0" opacity="0.9"/>
<ellipse cx="2009.7" cy="1476.7" rx="9.5" ry="9.5" fill="url(#gGn)" stroke="#5a74c2" stroke-width="2.0" opacity="0.9"/>
<ellipse cx="1941.1" cy="1557.0" rx="14.2" ry="9.5" fill="url(#gGn)" stroke="#5a74c2" stroke-width="2.0" opacity="0.9"/>
<ellipse cx="2012.0" cy="1542.8" rx="9.5" ry="11.8" fill="url(#gGp)" stroke="#b4abc4" stroke-width="2.0" opacity="0.7"/>
<ellipse cx="1766.3" cy="1523.9" rx="7.1" ry="9.5" fill="url(#gGp)" stroke="#b4abc4" stroke-width="2.0" opacity="0.7"/>
<ellipse cx="2000.2" cy="1445.9" rx="11.8" ry="11.8" fill="url(#gGp)" stroke="#b4abc4" stroke-width="2.0" opacity="0.7"/>
</g>
<g filter="url(#cellTexD)">
<ellipse cx="1737.9" cy="1190.7" rx="10.6" ry="14.2" fill="url(#gGK)" stroke="#361810" stroke-width="1.0" opacity="0.95"/>
<ellipse cx="1797.0" cy="1188.4" rx="10.6" ry="14.2" fill="url(#gGK)" stroke="#361810" stroke-width="1.0" opacity="0.95"/>
<ellipse cx="1898.6" cy="1238.0" rx="18.9" ry="18.9" fill="url(#gGK)" stroke="#361810" stroke-width="1.0" opacity="0.95"/>
<ellipse cx="1841.9" cy="1245.1" rx="18.9" ry="14.2" fill="url(#gGb)" stroke="#784422" stroke-width="1.0" opacity="0.9"/>
<ellipse cx="1927.0" cy="1245.1" rx="9.5" ry="9.5" fill="url(#gGK)" stroke="#361810" stroke-width="1.0" opacity="0.95"/>
<ellipse cx="1884.4" cy="1271.1" rx="14.2" ry="14.2" fill="url(#gGT)" stroke="#115870" stroke-width="1.0" opacity="0.92"/>
<ellipse cx="1872.6" cy="1242.7" rx="9.5" ry="11.8" fill="url(#gGg)" stroke="#706c88" stroke-width="1.0" opacity="0.85"/>
<ellipse cx="1851.3" cy="1301.8" rx="14.2" ry="14.2" fill="url(#gGg)" stroke="#706c88" stroke-width="1.0" opacity="0.85"/>
<ellipse cx="1865.5" cy="1301.8" rx="9.5" ry="9.5" fill="url(#gGK)" stroke="#361810" stroke-width="1.0" opacity="0.95"/>
<ellipse cx="1893.9" cy="1379.8" rx="11.8" ry="14.2" fill="url(#gGK)" stroke="#361810" stroke-width="1.0" opacity="0.95"/>
<ellipse cx="1882.1" cy="1429.4" rx="11.8" ry="14.2" fill="url(#gGT)" stroke="#115870" stroke-width="1.0" opacity="0.92"/>
<ellipse cx="1730.8" cy="1431.8" rx="14.2" ry="16.5" fill="url(#gGT)" stroke="#115870" stroke-width="1.0" opacity="0.92"/>
<ellipse cx="1792.3" cy="1547.6" rx="18.9" ry="28.4" fill="url(#gGK)" stroke="#361810" stroke-width="1.0" opacity="0.95"/>
<ellipse cx="1752.1" cy="1249.8" rx="9.5" ry="9.5" fill="url(#gGb)" stroke="#784422" stroke-width="1.0" opacity="0.9"/>
<ellipse cx="1761.5" cy="1301.8" rx="11.8" ry="18.9" fill="url(#gGg)" stroke="#706c88" stroke-width="1.0" opacity="0.85"/>
<ellipse cx="1851.3" cy="1521.6" rx="9.5" ry="14.2" fill="url(#gGT)" stroke="#115870" stroke-width="1.0" opacity="0.92"/>
<ellipse cx="1919.9" cy="1115.1" rx="7.1" ry="9.5" fill="url(#gGT)" stroke="#115870" stroke-width="1.0" opacity="0.92"/>
<ellipse cx="1775.7" cy="1438.9" rx="11.8" ry="7.1" fill="url(#gGg)" stroke="#706c88" stroke-width="1.0" opacity="0.85"/>
</g>
<polygon points="1611.4,1308.2 1587.4,1295.5 1589.9,1308.2 1587.4,1320.9" fill="#f50514"/>
<polygon points="1864.6,1271.4 1840.6,1258.7 1843.1,1271.4 1840.6,1284.1" fill="#f50514"/>
</g>
<defs><clipPath id="clipD"><rect x="115.0" y="1605.0" width="611.5" height="460.0"/></clipPath><radialGradient id="gDn" cx="50%" cy="48%" r="55%"><stop offset="0" stop-color="#98acdf"/><stop offset="0.75" stop-color="#6886d0"/><stop offset="1" stop-color="#4a68bd"/></radialGradient><radialGradient id="gDN" cx="50%" cy="48%" r="55%"><stop offset="0" stop-color="#5b76c9"/><stop offset="0.75" stop-color="#4564c2"/><stop offset="1" stop-color="#3450a8"/></radialGradient><radialGradient id="gDP" cx="50%" cy="48%" r="55%"><stop offset="0" stop-color="#aebee5"/><stop offset="0.75" stop-color="#88a0da"/><stop offset="1" stop-color="#6680c8"/></radialGradient><radialGradient id="gDp" cx="50%" cy="48%" r="55%"><stop offset="0" stop-color="#ced0e6"/><stop offset="0.75" stop-color="#b7badb"/><stop offset="1" stop-color="#9a9ecc"/></radialGradient><radialGradient id="gDd" cx="50%" cy="48%" r="55%"><stop offset="0" stop-color="#3f4c87"/><stop offset="0.75" stop-color="#253477"/><stop offset="1" stop-color="#1a265a"/></radialGradient><radialGradient id="gDD" cx="50%" cy="48%" r="55%"><stop offset="0" stop-color="#524365"/><stop offset="0.75" stop-color="#3b2a50"/><stop offset="1" stop-color="#2a1c3a"/></radialGradient><radialGradient id="gDk" cx="50%" cy="48%" r="55%"><stop offset="0" stop-color="#2d314a"/><stop offset="0.75" stop-color="#111632"/><stop offset="1" stop-color="#0a0e22"/></radialGradient><radialGradient id="gDm" cx="50%" cy="48%" r="55%"><stop offset="0" stop-color="#8a7ba6"/><stop offset="0.75" stop-color="#7b6a9a"/><stop offset="1" stop-color="#62527e"/></radialGradient><radialGradient id="gDw" cx="50%" cy="48%" r="55%"><stop offset="0" stop-color="#f7f7fa"/><stop offset="0.75" stop-color="#f6f6fa"/><stop offset="1" stop-color="#f6f6fa"/></radialGradient></defs>
<g clip-path="url(#clipD)">
<rect x="115.0" y="1605.0" width="611.5" height="460.0" fill="#cfd0e3"/>
<rect x="115.0" y="1605.0" width="611.5" height="460.0" fill="#cfd0e3" filter="url(#bgTex)"/>
<g filter="url(#blurBig)">
<ellipse cx="150.6" cy="1699.9" rx="40.4" ry="59.3" fill="#9b5a45" opacity="0.5"/>
<ellipse cx="186.2" cy="1628.7" rx="23.7" ry="23.7" fill="#9b5a45" opacity="0.5"/>
<ellipse cx="352.4" cy="1728.4" rx="35.6" ry="35.6" fill="#9b5a45" opacity="0.5"/>
<ellipse cx="388.0" cy="1688.1" rx="28.5" ry="35.6" fill="#9b5a45" opacity="0.5"/>
<ellipse cx="352.4" cy="1830.5" rx="47.5" ry="59.3" fill="#9b5a45" opacity="0.5"/>
<ellipse cx="399.8" cy="1889.8" rx="23.7" ry="47.5" fill="#9b5a45" opacity="0.5"/>
<ellipse cx="269.3" cy="2013.3" rx="71.2" ry="47.5" fill="#9b5a45" opacity="0.5"/>
<ellipse cx="285.9" cy="1913.6" rx="19.0" ry="19.0" fill="#9b5a45" opacity="0.5"/>
<ellipse cx="340.5" cy="1984.8" rx="23.7" ry="23.7" fill="#9b5a45" opacity="0.5"/>
<ellipse cx="434.2" cy="1735.5" rx="23.7" ry="71.2" fill="#9b5a45" opacity="0.5"/>
<ellipse cx="467.5" cy="1842.4" rx="35.6" ry="59.3" fill="#9b5a45" opacity="0.5"/>
<ellipse cx="562.4" cy="1925.4" rx="35.6" ry="35.6" fill="#9b5a45" opacity="0.5"/>
<ellipse cx="586.2" cy="1794.9" rx="23.7" ry="23.7" fill="#c08f80" opacity="0.4"/>
<ellipse cx="479.3" cy="2032.2" rx="23.7" ry="14.2" fill="#9b5a45" opacity="0.5"/>
<ellipse cx="693.0" cy="1818.6" rx="19.0" ry="28.5" fill="#c08f80" opacity="0.4"/>
<ellipse cx="431.9" cy="1901.7" rx="19.0" ry="19.0" fill="#9b5a45" opacity="0.5"/>
<ellipse cx="681.1" cy="1676.2" rx="14.2" ry="71.2" fill="#eeeaf0" opacity="0.6"/>
<ellipse cx="657.4" cy="1818.6" rx="14.2" ry="59.3" fill="#eeeaf0" opacity="0.6" transform="rotate(20 657.4 1818.6)"/>
<ellipse cx="598.0" cy="1937.3" rx="14.2" ry="59.3" fill="#eeeaf0" opacity="0.6" transform="rotate(40 598.0 1937.3)"/>
<ellipse cx="370.0" cy="1800.0" rx="50.0" ry="100.0" fill="#4a3550" opacity="0.55"/>
<ellipse cx="420.0" cy="1760.0" rx="30.0" ry="60.0" fill="#4a3550" opacity="0.55"/>
<ellipse cx="265.0" cy="2015.0" rx="80.0" ry="50.0" fill="#4a3550" opacity="0.55"/>
<ellipse cx="160.0" cy="1690.0" rx="50.0" ry="60.0" fill="#4a3550" opacity="0.55"/>
</g>
<g filter="url(#cellTexL)">
<ellipse cx="314.4" cy="1665.5" rx="15.4" ry="15.4" fill="url(#gDN)" stroke="#3450a8" stroke-width="2.0" opacity="0.92"/>
<ellipse cx="174.3" cy="1685.7" rx="14.2" ry="14.2" fill="url(#gDn)" stroke="#4a68bd" stroke-width="2.0" opacity="0.9"/>
<ellipse cx="145.9" cy="1676.2" rx="11.9" ry="11.9" fill="url(#gDn)" stroke="#4a68bd" stroke-width="2.0" opacity="0.9"/>
<ellipse cx="352.4" cy="1695.2" rx="14.2" ry="14.2" fill="url(#gDn)" stroke="#4a68bd" stroke-width="2.0" opacity="0.9"/>
<ellipse cx="378.5" cy="1669.1" rx="11.9" ry="14.2" fill="url(#gDn)" stroke="#4a68bd" stroke-width="2.0" opacity="0.9"/>
<ellipse cx="407.0" cy="1697.6" rx="14.2" ry="14.2" fill="url(#gDn)" stroke="#4a68bd" stroke-width="2.0" opacity="0.9"/>
<ellipse cx="407.0" cy="1635.9" rx="9.5" ry="9.5" fill="url(#gDn)" stroke="#4a68bd" stroke-width="2.0" opacity="0.9"/>
<ellipse cx="371.3" cy="1628.7" rx="9.5" ry="9.5" fill="url(#gDn)" stroke="#4a68bd" stroke-width="2.0" opacity="0.9"/>
<ellipse cx="257.4" cy="1640.6" rx="14.2" ry="14.2" fill="url(#gDp)" stroke="#9a9ecc" stroke-width="2.0" opacity="0.75"/>
<ellipse cx="281.2" cy="1714.2" rx="16.6" ry="19.0" fill="url(#gDp)" stroke="#9a9ecc" stroke-width="2.0" opacity="0.75"/>
</g>
<g filter="url(#cellTexD)">
<ellipse cx="295.4" cy="1723.7" rx="9.5" ry="19.0" fill="url(#gDm)" stroke="#62527e" stroke-width="1.0" opacity="0.9"/>
</g>
<g filter="url(#cellTexL)">
<ellipse cx="262.2" cy="1728.4" rx="14.2" ry="14.2" fill="url(#gDp)" stroke="#9a9ecc" stroke-width="2.0" opacity="0.75"/>
<ellipse cx="202.8" cy="1707.1" rx="9.5" ry="9.5" fill="url(#gDn)" stroke="#4a68bd" stroke-width="2.0" opacity="0.9"/>
<ellipse cx="321.5" cy="1752.2" rx="13.1" ry="14.2" fill="url(#gDN)" stroke="#3450a8" stroke-width="2.0" opacity="0.92"/>
<ellipse cx="361.9" cy="1792.5" rx="19.0" ry="21.4" fill="url(#gDP)" stroke="#6680c8" stroke-width="2.0" opacity="0.9"/>
<ellipse cx="399.8" cy="1768.8" rx="11.9" ry="16.6" fill="url(#gDn)" stroke="#4a68bd" stroke-width="2.0" opacity="0.9"/>
<ellipse cx="252.7" cy="1809.1" rx="11.9" ry="23.7" fill="url(#gDn)" stroke="#4a68bd" stroke-width="2.0" opacity="0.9"/>
<ellipse cx="214.7" cy="1825.7" rx="23.7" ry="23.7" fill="url(#gDP)" stroke="#6680c8" stroke-width="2.0" opacity="0.9"/>
<ellipse cx="285.9" cy="1818.6" rx="14.2" ry="19.0" fill="url(#gDn)" stroke="#4a68bd" stroke-width="2.0" opacity="0.9"/>
<ellipse cx="132.8" cy="1802.0" rx="16.6" ry="16.6" fill="url(#gDn)" stroke="#4a68bd" stroke-width="2.0" opacity="0.9"/>
<ellipse cx="172.0" cy="1802.0" rx="9.5" ry="9.5" fill="url(#gDp)" stroke="#9a9ecc" stroke-width="2.0" opacity="0.75"/>
<ellipse cx="221.8" cy="1771.2" rx="9.5" ry="9.5" fill="url(#gDp)" stroke="#9a9ecc" stroke-width="2.0" opacity="0.75"/>
<ellipse cx="202.8" cy="1866.1" rx="14.2" ry="14.2" fill="url(#gDN)" stroke="#3450a8" stroke-width="2.0" opacity="0.92"/>
<ellipse cx="162.5" cy="1851.9" rx="14.2" ry="9.5" fill="url(#gDn)" stroke="#4a68bd" stroke-width="2.0" opacity="0.9"/>
<ellipse cx="153.0" cy="1875.6" rx="14.2" ry="14.2" fill="url(#gDn)" stroke="#4a68bd" stroke-width="2.0" opacity="0.9"/>
<ellipse cx="350.0" cy="1849.5" rx="14.2" ry="16.6" fill="url(#gDn)" stroke="#4a68bd" stroke-width="2.0" opacity="0.9"/>
<ellipse cx="247.9" cy="1889.8" rx="14.2" ry="19.0" fill="url(#gDp)" stroke="#9a9ecc" stroke-width="2.0" opacity="0.75"/>
<ellipse cx="174.3" cy="1906.4" rx="16.6" ry="19.0" fill="url(#gDn)" stroke="#4a68bd" stroke-width="2.0" opacity="0.9"/>
<ellipse cx="207.6" cy="1930.2" rx="16.6" ry="21.4" fill="url(#gDn)" stroke="#4a68bd" stroke-width="2.0" opacity="0.9"/>
<ellipse cx="153.0" cy="1932.6" rx="11.9" ry="14.2" fill="url(#gDn)" stroke="#4a68bd" stroke-width="2.0" opacity="0.9"/>
<ellipse cx="255.0" cy="1932.6" rx="14.2" ry="9.5" fill="url(#gDN)" stroke="#3450a8" stroke-width="2.0" opacity="0.92"/>
<ellipse cx="281.2" cy="1901.7" rx="16.6" ry="16.6" fill="url(#gDn)" stroke="#4a68bd" stroke-width="2.0" opacity="0.9"/>
<ellipse cx="285.9" cy="1946.8" rx="11.9" ry="14.2" fill="url(#gDn)" stroke="#4a68bd" stroke-width="2.0" opacity="0.9"/>
<ellipse cx="333.4" cy="1920.7" rx="26.1" ry="28.5" fill="url(#gDP)" stroke="#6680c8" stroke-width="2.0" opacity="0.9"/>
<ellipse cx="388.0" cy="1932.6" rx="16.6" ry="14.2" fill="url(#gDn)" stroke="#4a68bd" stroke-width="2.0" opacity="0.9"/>
<ellipse cx="164.8" cy="1968.2" rx="16.6" ry="19.0" fill="url(#gDn)" stroke="#4a68bd" stroke-width="2.0" opacity="0.9"/>
<ellipse cx="145.9" cy="1999.0" rx="14.2" ry="14.2" fill="url(#gDn)" stroke="#4a68bd" stroke-width="2.0" opacity="0.9"/>
<ellipse cx="335.7" cy="1977.7" rx="14.2" ry="14.2" fill="url(#gDn)" stroke="#4a68bd" stroke-width="2.0" opacity="0.9"/>
<ellipse cx="364.2" cy="2022.8" rx="16.6" ry="19.0" fill="url(#gDn)" stroke="#4a68bd" stroke-width="2.0" opacity="0.9"/>
<ellipse cx="380.8" cy="2044.1" rx="11.9" ry="9.5" fill="url(#gDn)" stroke="#4a68bd" stroke-width="2.0" opacity="0.9"/>
<ellipse cx="399.8" cy="1982.4" rx="9.5" ry="9.5" fill="url(#gDn)" stroke="#4a68bd" stroke-width="2.0" opacity="0.9"/>
<ellipse cx="416.4" cy="1939.7" rx="7.1" ry="9.5" fill="url(#gDn)" stroke="#4a68bd" stroke-width="2.0" opacity="0.9"/>
<ellipse cx="411.7" cy="2056.0" rx="14.2" ry="9.5" fill="url(#gDn)" stroke="#4a68bd" stroke-width="2.0" opacity="0.9"/>
<ellipse cx="214.7" cy="1614.5" rx="14.2" ry="9.5" fill="url(#gDw)" stroke="#f6f6fa" stroke-width="1.0" opacity="0.95"/>
<ellipse cx="209.9" cy="1735.5" rx="16.6" ry="16.6" fill="url(#gDw)" stroke="#f6f6fa" stroke-width="1.0" opacity="0.95"/>
<ellipse cx="191.0" cy="1749.8" rx="9.5" ry="7.1" fill="url(#gDw)" stroke="#f6f6fa" stroke-width="1.0" opacity="0.95"/>
<ellipse cx="136.4" cy="1759.3" rx="11.9" ry="7.1" fill="url(#gDw)" stroke="#f6f6fa" stroke-width="1.0" opacity="0.95"/>
<ellipse cx="309.6" cy="1790.1" rx="11.9" ry="11.9" fill="url(#gDw)" stroke="#f6f6fa" stroke-width="1.0" opacity="0.95"/>
<ellipse cx="281.2" cy="1856.6" rx="14.2" ry="11.9" fill="url(#gDw)" stroke="#f6f6fa" stroke-width="1.0" opacity="0.95"/>
<ellipse cx="240.8" cy="1958.7" rx="14.2" ry="11.9" fill="url(#gDw)" stroke="#f6f6fa" stroke-width="1.0" opacity="0.95"/>
<ellipse cx="186.2" cy="2039.4" rx="9.5" ry="9.5" fill="url(#gDw)" stroke="#f6f6fa" stroke-width="1.0" opacity="0.95"/>
<ellipse cx="392.7" cy="1633.5" rx="9.5" ry="9.5" fill="url(#gDw)" stroke="#f6f6fa" stroke-width="1.0" opacity="0.95"/>
<ellipse cx="340.5" cy="1664.3" rx="7.1" ry="7.1" fill="url(#gDw)" stroke="#f6f6fa" stroke-width="1.0" opacity="0.95"/>
<ellipse cx="124.5" cy="1965.8" rx="14.2" ry="16.6" fill="url(#gDw)" stroke="#f6f6fa" stroke-width="1.0" opacity="0.95"/>
</g>
<g filter="url(#cellTexD)">
<ellipse cx="183.8" cy="1635.9" rx="14.2" ry="16.6" fill="url(#gDd)" stroke="#1a265a" stroke-width="1.0" opacity="0.95"/>
<ellipse cx="198.1" cy="1669.1" rx="9.5" ry="11.9" fill="url(#gDd)" stroke="#1a265a" stroke-width="1.0" opacity="0.95"/>
<ellipse cx="231.3" cy="1699.9" rx="14.2" ry="14.2" fill="url(#gDd)" stroke="#1a265a" stroke-width="1.0" opacity="0.95"/>
<ellipse cx="155.4" cy="1704.7" rx="14.2" ry="11.9" fill="url(#gDd)" stroke="#1a265a" stroke-width="1.0" opacity="0.95"/>
<ellipse cx="136.4" cy="1723.7" rx="14.2" ry="14.2" fill="url(#gDd)" stroke="#1a265a" stroke-width="1.0" opacity="0.95"/>
<ellipse cx="124.5" cy="1737.9" rx="9.5" ry="14.2" fill="url(#gDd)" stroke="#1a265a" stroke-width="1.0" opacity="0.95"/>
<ellipse cx="153.0" cy="1740.3" rx="9.5" ry="9.5" fill="url(#gDd)" stroke="#1a265a" stroke-width="1.0" opacity="0.95"/>
</g>
<g filter="url(#cellTexL)">
<ellipse cx="179.1" cy="1730.8" rx="14.2" ry="14.2" fill="url(#gDN)" stroke="#3450a8" stroke-width="2.0" opacity="0.92"/>
</g>
<g filter="url(#cellTexD)">
<ellipse cx="186.2" cy="1745.0" rx="11.9" ry="9.5" fill="url(#gDd)" stroke="#1a265a" stroke-width="1.0" opacity="0.95"/>
<ellipse cx="217.1" cy="1714.2" rx="9.5" ry="9.5" fill="url(#gDd)" stroke="#1a265a" stroke-width="1.0" opacity="0.95"/>
<ellipse cx="319.1" cy="1616.9" rx="14.2" ry="14.2" fill="url(#gDd)" stroke="#1a265a" stroke-width="1.0" opacity="0.95"/>
<ellipse cx="409.3" cy="1647.7" rx="11.9" ry="14.2" fill="url(#gDk)" stroke="#0a0e22" stroke-width="1.0" opacity="1.0"/>
<ellipse cx="132.8" cy="1832.9" rx="14.2" ry="11.9" fill="url(#gDk)" stroke="#0a0e22" stroke-width="1.0" opacity="1.0"/>
<ellipse cx="350.0" cy="1761.7" rx="14.2" ry="14.2" fill="url(#gDd)" stroke="#1a265a" stroke-width="1.0" opacity="0.95"/>
<ellipse cx="364.2" cy="1756.9" rx="11.9" ry="11.9" fill="url(#gDd)" stroke="#1a265a" stroke-width="1.0" opacity="0.95"/>
<ellipse cx="323.9" cy="1821.0" rx="11.9" ry="14.2" fill="url(#gDd)" stroke="#1a265a" stroke-width="1.0" opacity="0.95"/>
<ellipse cx="309.6" cy="1842.4" rx="9.5" ry="19.0" fill="url(#gDd)" stroke="#1a265a" stroke-width="1.0" opacity="0.95"/>
<ellipse cx="338.1" cy="1806.8" rx="11.9" ry="11.9" fill="url(#gDd)" stroke="#1a265a" stroke-width="1.0" opacity="0.95"/>
<ellipse cx="376.1" cy="1840.0" rx="14.2" ry="14.2" fill="url(#gDd)" stroke="#1a265a" stroke-width="1.0" opacity="0.95"/>
<ellipse cx="388.0" cy="1866.1" rx="14.2" ry="14.2" fill="url(#gDd)" stroke="#1a265a" stroke-width="1.0" opacity="0.95"/>
<ellipse cx="407.0" cy="1889.8" rx="11.9" ry="16.6" fill="url(#gDd)" stroke="#1a265a" stroke-width="1.0" opacity="0.95"/>
<ellipse cx="414.1" cy="1937.3" rx="9.5" ry="19.0" fill="url(#gDd)" stroke="#1a265a" stroke-width="1.0" opacity="0.95"/>
<ellipse cx="390.3" cy="1806.8" rx="11.9" ry="11.9" fill="url(#gDd)" stroke="#1a265a" stroke-width="1.0" opacity="0.95"/>
<ellipse cx="414.1" cy="1832.9" rx="9.5" ry="14.2" fill="url(#gDd)" stroke="#1a265a" stroke-width="1.0" opacity="0.95"/>
<ellipse cx="224.2" cy="1970.5" rx="14.2" ry="14.2" fill="url(#gDd)" stroke="#1a265a" stroke-width="1.0" opacity="0.95"/>
<ellipse cx="221.8" cy="1989.5" rx="14.2" ry="14.2" fill="url(#gDd)" stroke="#1a265a" stroke-width="1.0" opacity="0.95"/>
<ellipse cx="209.9" cy="2022.8" rx="14.2" ry="16.6" fill="url(#gDd)" stroke="#1a265a" stroke-width="1.0" opacity="0.95"/>
<ellipse cx="238.4" cy="2008.5" rx="14.2" ry="14.2" fill="url(#gDd)" stroke="#1a265a" stroke-width="1.0" opacity="0.95"/>
<ellipse cx="264.5" cy="1984.8" rx="14.2" ry="14.2" fill="url(#gDd)" stroke="#1a265a" stroke-width="1.0" opacity="0.95"/>
<ellipse cx="290.6" cy="1996.6" rx="14.2" ry="14.2" fill="url(#gDd)" stroke="#1a265a" stroke-width="1.0" opacity="0.95"/>
<ellipse cx="269.3" cy="2022.8" rx="14.2" ry="14.2" fill="url(#gDd)" stroke="#1a265a" stroke-width="1.0" opacity="0.95"/>
<ellipse cx="304.9" cy="2022.8" rx="14.2" ry="14.2" fill="url(#gDd)" stroke="#1a265a" stroke-width="1.0" opacity="0.95"/>
<ellipse cx="245.5" cy="2041.7" rx="11.9" ry="11.9" fill="url(#gDd)" stroke="#1a265a" stroke-width="1.0" opacity="0.95"/>
<ellipse cx="323.9" cy="2008.5" rx="11.9" ry="11.9" fill="url(#gDd)" stroke="#1a265a" stroke-width="1.0" opacity="0.95"/>
<ellipse cx="217.1" cy="2051.2" rx="11.9" ry="9.5" fill="url(#gDd)" stroke="#1a265a" stroke-width="1.0" opacity="0.95"/>
<ellipse cx="404.6" cy="2051.2" rx="9.5" ry="9.5" fill="url(#gDd)" stroke="#1a265a" stroke-width="1.0" opacity="0.95"/>
</g>
<g filter="url(#cellTexL)">
<ellipse cx="450.9" cy="1616.9" rx="11.9" ry="9.5" fill="url(#gDn)" stroke="#4a68bd" stroke-width="2.0" opacity="0.9"/>
<ellipse cx="458.0" cy="1638.2" rx="14.2" ry="9.5" fill="url(#gDn)" stroke="#4a68bd" stroke-width="2.0" opacity="0.9"/>
<ellipse cx="472.2" cy="1673.8" rx="11.9" ry="13.1" fill="url(#gDN)" stroke="#3450a8" stroke-width="2.0" opacity="0.92"/>
<ellipse cx="498.3" cy="1645.4" rx="14.2" ry="14.2" fill="url(#gDn)" stroke="#4a68bd" stroke-width="2.0" opacity="0.9"/>
<ellipse cx="522.1" cy="1624.0" rx="11.9" ry="11.9" fill="url(#gDn)" stroke="#4a68bd" stroke-width="2.0" opacity="0.9"/>
<ellipse cx="503.1" cy="1669.1" rx="14.2" ry="14.2" fill="url(#gDn)" stroke="#4a68bd" stroke-width="2.0" opacity="0.9"/>
<ellipse cx="548.2" cy="1609.7" rx="14.2" ry="7.1" fill="url(#gDn)" stroke="#4a68bd" stroke-width="2.0" opacity="0.9"/>
<ellipse cx="543.4" cy="1676.2" rx="14.2" ry="16.6" fill="url(#gDn)" stroke="#4a68bd" stroke-width="2.0" opacity="0.9"/>
<ellipse cx="562.4" cy="1697.6" rx="13.1" ry="15.4" fill="url(#gDn)" stroke="#4a68bd" stroke-width="2.0" opacity="0.9"/>
<ellipse cx="609.9" cy="1657.2" rx="14.2" ry="14.2" fill="url(#gDn)" stroke="#4a68bd" stroke-width="2.0" opacity="0.9"/>
<ellipse cx="598.0" cy="1697.6" rx="14.2" ry="19.0" fill="url(#gDN)" stroke="#3450a8" stroke-width="2.0" opacity="0.92"/>
<ellipse cx="633.6" cy="1633.5" rx="14.2" ry="11.9" fill="url(#gDn)" stroke="#4a68bd" stroke-width="2.0" opacity="0.9"/>
<ellipse cx="645.5" cy="1669.1" rx="14.2" ry="14.2" fill="url(#gDn)" stroke="#4a68bd" stroke-width="2.0" opacity="0.9"/>
<ellipse cx="662.1" cy="1638.2" rx="9.5" ry="14.2" fill="url(#gDn)" stroke="#4a68bd" stroke-width="2.0" opacity="0.9"/>
<ellipse cx="685.8" cy="1652.5" rx="4.7" ry="19.0" fill="url(#gDN)" stroke="#3450a8" stroke-width="2.0" opacity="0.92"/>
<ellipse cx="719.1" cy="1650.1" rx="9.5" ry="14.2" fill="url(#gDn)" stroke="#4a68bd" stroke-width="2.0" opacity="0.9"/>
<ellipse cx="633.6" cy="1721.3" rx="19.0" ry="19.0" fill="url(#gDN)" stroke="#3450a8" stroke-width="2.0" opacity="0.92"/>
<ellipse cx="491.2" cy="1711.8" rx="14.2" ry="19.0" fill="url(#gDn)" stroke="#4a68bd" stroke-width="2.0" opacity="0.9"/>
<ellipse cx="467.5" cy="1716.6" rx="11.9" ry="11.9" fill="url(#gDn)" stroke="#4a68bd" stroke-width="2.0" opacity="0.9"/>
<ellipse cx="446.1" cy="1728.4" rx="14.2" ry="16.6" fill="url(#gDn)" stroke="#4a68bd" stroke-width="2.0" opacity="0.9"/>
<ellipse cx="557.7" cy="1752.2" rx="14.2" ry="16.6" fill="url(#gDn)" stroke="#4a68bd" stroke-width="2.0" opacity="0.9"/>
<ellipse cx="602.8" cy="1749.8" rx="9.5" ry="16.6" fill="url(#gDN)" stroke="#3450a8" stroke-width="2.0" opacity="0.92"/>
<ellipse cx="526.8" cy="1747.4" rx="11.9" ry="14.2" fill="url(#gDp)" stroke="#9a9ecc" stroke-width="2.0" opacity="0.75"/>
<ellipse cx="484.1" cy="1759.3" rx="11.9" ry="9.5" fill="url(#gDn)" stroke="#4a68bd" stroke-width="2.0" opacity="0.9"/>
<ellipse cx="503.1" cy="1775.9" rx="9.5" ry="9.5" fill="url(#gDn)" stroke="#4a68bd" stroke-width="2.0" opacity="0.9"/>
<ellipse cx="465.1" cy="1787.8" rx="11.9" ry="11.9" fill="url(#gDN)" stroke="#3450a8" stroke-width="2.0" opacity="0.92"/>
<ellipse cx="555.3" cy="1804.4" rx="11.9" ry="11.9" fill="url(#gDn)" stroke="#4a68bd" stroke-width="2.0" opacity="0.9"/>
<ellipse cx="526.8" cy="1792.5" rx="9.5" ry="9.5" fill="url(#gDn)" stroke="#4a68bd" stroke-width="2.0" opacity="0.9"/>
<ellipse cx="600.4" cy="1799.6" rx="11.9" ry="14.2" fill="url(#gDn)" stroke="#4a68bd" stroke-width="2.0" opacity="0.9"/>
<ellipse cx="626.5" cy="1775.9" rx="14.2" ry="14.2" fill="url(#gDn)" stroke="#4a68bd" stroke-width="2.0" opacity="0.9"/>
<ellipse cx="645.5" cy="1806.8" rx="11.9" ry="19.0" fill="url(#gDn)" stroke="#4a68bd" stroke-width="2.0" opacity="0.9"/>
<ellipse cx="574.3" cy="1828.1" rx="14.2" ry="11.9" fill="url(#gDN)" stroke="#3450a8" stroke-width="2.0" opacity="0.92"/>
<ellipse cx="512.6" cy="1828.1" rx="11.9" ry="14.2" fill="url(#gDn)" stroke="#4a68bd" stroke-width="2.0" opacity="0.9"/>
<ellipse cx="481.7" cy="1813.9" rx="14.2" ry="14.2" fill="url(#gDn)" stroke="#4a68bd" stroke-width="2.0" opacity="0.9"/>
<ellipse cx="636.0" cy="1849.5" rx="14.2" ry="19.0" fill="url(#gDN)" stroke="#3450a8" stroke-width="2.0" opacity="0.92"/>
<ellipse cx="571.9" cy="1851.9" rx="11.9" ry="11.9" fill="url(#gDn)" stroke="#4a68bd" stroke-width="2.0" opacity="0.9"/>
<ellipse cx="697.7" cy="1794.9" rx="9.5" ry="9.5" fill="url(#gDN)" stroke="#3450a8" stroke-width="2.0" opacity="0.92"/>
<ellipse cx="695.3" cy="1818.6" rx="9.5" ry="9.5" fill="url(#gDN)" stroke="#3450a8" stroke-width="2.0" opacity="0.92"/>
<ellipse cx="678.7" cy="1861.3" rx="11.9" ry="14.2" fill="url(#gDN)" stroke="#3450a8" stroke-width="2.0" opacity="0.92"/>
<ellipse cx="719.1" cy="1863.7" rx="9.5" ry="9.5" fill="url(#gDN)" stroke="#3450a8" stroke-width="2.0" opacity="0.92"/>
<ellipse cx="721.4" cy="1790.1" rx="7.1" ry="9.5" fill="url(#gDn)" stroke="#4a68bd" stroke-width="2.0" opacity="0.9"/>
<ellipse cx="719.1" cy="1749.8" rx="9.5" ry="14.2" fill="url(#gDn)" stroke="#4a68bd" stroke-width="2.0" opacity="0.9"/>
<ellipse cx="474.6" cy="1847.1" rx="11.9" ry="11.9" fill="url(#gDN)" stroke="#3450a8" stroke-width="2.0" opacity="0.92"/>
<ellipse cx="431.9" cy="1856.6" rx="11.9" ry="11.9" fill="url(#gDN)" stroke="#3450a8" stroke-width="2.0" opacity="0.92"/>
<ellipse cx="500.7" cy="1908.8" rx="16.6" ry="19.0" fill="url(#gDP)" stroke="#6680c8" stroke-width="2.0" opacity="0.9"/>
<ellipse cx="581.4" cy="1887.5" rx="14.2" ry="16.6" fill="url(#gDN)" stroke="#3450a8" stroke-width="2.0" opacity="0.92"/>
<ellipse cx="607.5" cy="1913.6" rx="14.2" ry="11.9" fill="url(#gDn)" stroke="#4a68bd" stroke-width="2.0" opacity="0.9"/>
<ellipse cx="707.2" cy="1906.4" rx="11.9" ry="16.6" fill="url(#gDN)" stroke="#3450a8" stroke-width="2.0" opacity="0.92"/>
<ellipse cx="676.3" cy="1904.1" rx="9.5" ry="11.9" fill="url(#gDn)" stroke="#4a68bd" stroke-width="2.0" opacity="0.9"/>
<ellipse cx="683.5" cy="1961.0" rx="16.6" ry="16.6" fill="url(#gDP)" stroke="#6680c8" stroke-width="2.0" opacity="0.9"/>
<ellipse cx="716.7" cy="1951.5" rx="9.5" ry="14.2" fill="url(#gDn)" stroke="#4a68bd" stroke-width="2.0" opacity="0.9"/>
<ellipse cx="443.7" cy="1932.6" rx="14.2" ry="14.2" fill="url(#gDN)" stroke="#3450a8" stroke-width="2.0" opacity="0.92"/>
<ellipse cx="477.0" cy="1949.2" rx="14.2" ry="11.9" fill="url(#gDn)" stroke="#4a68bd" stroke-width="2.0" opacity="0.9"/>
<ellipse cx="526.8" cy="1939.7" rx="14.2" ry="7.1" fill="url(#gDN)" stroke="#3450a8" stroke-width="2.0" opacity="0.92"/>
<ellipse cx="455.6" cy="1984.8" rx="14.2" ry="14.2" fill="url(#gDn)" stroke="#4a68bd" stroke-width="2.0" opacity="0.9"/>
<ellipse cx="514.9" cy="1984.8" rx="9.5" ry="9.5" fill="url(#gDn)" stroke="#4a68bd" stroke-width="2.0" opacity="0.9"/>
<ellipse cx="496.0" cy="2008.5" rx="11.9" ry="14.2" fill="url(#gDn)" stroke="#4a68bd" stroke-width="2.0" opacity="0.9"/>
<ellipse cx="462.7" cy="2018.0" rx="11.9" ry="11.9" fill="url(#gDn)" stroke="#4a68bd" stroke-width="2.0" opacity="0.9"/>
<ellipse cx="439.0" cy="2008.5" rx="9.5" ry="11.9" fill="url(#gDn)" stroke="#4a68bd" stroke-width="2.0" opacity="0.9"/>
<ellipse cx="429.5" cy="1949.2" rx="9.5" ry="9.5" fill="url(#gDn)" stroke="#4a68bd" stroke-width="2.0" opacity="0.9"/>
<ellipse cx="567.2" cy="1984.8" rx="11.9" ry="11.9" fill="url(#gDn)" stroke="#4a68bd" stroke-width="2.0" opacity="0.9"/>
<ellipse cx="605.1" cy="1975.3" rx="11.9" ry="11.9" fill="url(#gDn)" stroke="#4a68bd" stroke-width="2.0" opacity="0.9"/>
<ellipse cx="650.2" cy="2003.8" rx="14.2" ry="9.5" fill="url(#gDn)" stroke="#4a68bd" stroke-width="2.0" opacity="0.9"/>
<ellipse cx="714.3" cy="2008.5" rx="9.5" ry="9.5" fill="url(#gDn)" stroke="#4a68bd" stroke-width="2.0" opacity="0.9"/>
<ellipse cx="647.9" cy="2039.4" rx="11.9" ry="9.5" fill="url(#gDn)" stroke="#4a68bd" stroke-width="2.0" opacity="0.9"/>
<ellipse cx="704.8" cy="2044.1" rx="11.9" ry="11.9" fill="url(#gDn)" stroke="#4a68bd" stroke-width="2.0" opacity="0.9"/>
<ellipse cx="434.2" cy="1901.7" rx="11.9" ry="11.9" fill="url(#gDN)" stroke="#3450a8" stroke-width="2.0" opacity="0.92"/>
<ellipse cx="669.2" cy="2037.0" rx="7.1" ry="7.1" fill="url(#gDn)" stroke="#4a68bd" stroke-width="2.0" opacity="0.9"/>
<ellipse cx="514.9" cy="2027.5" rx="11.9" ry="9.5" fill="url(#gDN)" stroke="#3450a8" stroke-width="2.0" opacity="0.92"/>
<ellipse cx="446.1" cy="2051.2" rx="9.5" ry="7.1" fill="url(#gDn)" stroke="#4a68bd" stroke-width="2.0" opacity="0.9"/>
<ellipse cx="469.8" cy="1775.9" rx="9.5" ry="9.5" fill="url(#gDw)" stroke="#f6f6fa" stroke-width="1.0" opacity="0.95"/>
<ellipse cx="505.4" cy="1870.8" rx="11.9" ry="7.1" fill="url(#gDw)" stroke="#f6f6fa" stroke-width="1.0" opacity="0.95"/>
<ellipse cx="545.8" cy="1880.3" rx="9.5" ry="9.5" fill="url(#gDw)" stroke="#f6f6fa" stroke-width="1.0" opacity="0.95"/>
<ellipse cx="472.2" cy="1904.1" rx="7.1" ry="7.1" fill="url(#gDw)" stroke="#f6f6fa" stroke-width="1.0" opacity="0.95"/>
<ellipse cx="574.3" cy="1728.4" rx="7.1" ry="14.2" fill="url(#gDw)" stroke="#f6f6fa" stroke-width="1.0" opacity="0.95"/>
<ellipse cx="647.9" cy="1946.8" rx="14.2" ry="14.2" fill="url(#gDw)" stroke="#f6f6fa" stroke-width="1.0" opacity="0.95"/>
<ellipse cx="586.2" cy="1624.0" rx="19.0" ry="14.2" fill="url(#gDw)" stroke="#f6f6fa" stroke-width="1.0" opacity="0.95"/>
<ellipse cx="716.7" cy="1619.2" rx="7.1" ry="7.1" fill="url(#gDw)" stroke="#f6f6fa" stroke-width="1.0" opacity="0.95"/>
</g>
<g filter="url(#cellTexD)">
<ellipse cx="424.7" cy="1619.2" rx="9.5" ry="14.2" fill="url(#gDd)" stroke="#1a265a" stroke-width="1.0" opacity="0.95"/>
<ellipse cx="581.4" cy="1662.0" rx="14.2" ry="14.2" fill="url(#gDD)" stroke="#2a1c3a" stroke-width="1.0" opacity="0.95"/>
<ellipse cx="424.7" cy="1730.8" rx="14.2" ry="23.7" fill="url(#gDd)" stroke="#1a265a" stroke-width="1.0" opacity="0.95"/>
<ellipse cx="424.7" cy="1790.1" rx="9.5" ry="14.2" fill="url(#gDd)" stroke="#1a265a" stroke-width="1.0" opacity="0.95"/>
<ellipse cx="450.9" cy="1818.6" rx="19.0" ry="19.0" fill="url(#gDd)" stroke="#1a265a" stroke-width="1.0" opacity="0.95"/>
<ellipse cx="541.1" cy="1835.2" rx="11.9" ry="19.0" fill="url(#gDD)" stroke="#2a1c3a" stroke-width="1.0" opacity="0.95"/>
<ellipse cx="424.7" cy="1842.4" rx="9.5" ry="14.2" fill="url(#gDd)" stroke="#1a265a" stroke-width="1.0" opacity="0.95"/>
<ellipse cx="562.4" cy="1913.6" rx="11.9" ry="11.9" fill="url(#gDD)" stroke="#2a1c3a" stroke-width="1.0" opacity="0.95"/>
<ellipse cx="595.6" cy="1937.3" rx="11.9" ry="11.9" fill="url(#gDD)" stroke="#2a1c3a" stroke-width="1.0" opacity="0.95"/>
<ellipse cx="533.9" cy="1953.9" rx="11.9" ry="9.5" fill="url(#gDd)" stroke="#1a265a" stroke-width="1.0" opacity="0.95"/>
<ellipse cx="571.9" cy="1956.3" rx="11.9" ry="11.9" fill="url(#gDD)" stroke="#2a1c3a" stroke-width="1.0" opacity="0.95"/>
<ellipse cx="647.9" cy="1968.2" rx="11.9" ry="11.9" fill="url(#gDD)" stroke="#2a1c3a" stroke-width="1.0" opacity="0.95"/>
<ellipse cx="481.7" cy="2039.4" rx="14.2" ry="9.5" fill="url(#gDD)" stroke="#2a1c3a" stroke-width="1.0" opacity="0.95"/>
<ellipse cx="721.4" cy="2051.2" rx="7.1" ry="9.5" fill="url(#gDd)" stroke="#1a265a" stroke-width="1.0" opacity="0.95"/>
</g>
<polygon points="315.0,1763.4 291.0,1750.7 293.5,1763.4 291.0,1776.1" fill="#f50514"/>
<polygon points="291.0,1828.0 267.0,1815.3 269.5,1828.0 267.0,1840.7" fill="#f50514"/>
<polygon points="383.1,1914.7 359.1,1902.0 361.6,1914.7 359.1,1927.4" fill="#f50514"/>
<polygon points="190.7,2013.7 166.7,2001.0 169.2,2013.7 166.7,2026.4" fill="#f50514"/>
</g>
<defs><clipPath id="clipF"><rect x="763.0" y="1605.0" width="612.0" height="460.0"/></clipPath><radialGradient id="gFn" cx="50%" cy="48%" r="55%"><stop offset="0" stop-color="#cbc3e4"/><stop offset="0.75" stop-color="#b3a7d8"/><stop offset="1" stop-color="#9585c6"/></radialGradient><radialGradient id="gFP" cx="50%" cy="48%" r="55%"><stop offset="0" stop-color="#beb3df"/><stop offset="0.75" stop-color="#a090d0"/><stop offset="1" stop-color="#8474bc"/></radialGradient><radialGradient id="gFp" cx="50%" cy="48%" r="55%"><stop offset="0" stop-color="#ddd4e8"/><stop offset="0.75" stop-color="#cdc1de"/><stop offset="1" stop-color="#b4a6d0"/></radialGradient><radialGradient id="gFm" cx="50%" cy="48%" r="55%"><stop offset="0" stop-color="#987b9d"/><stop offset="0.75" stop-color="#8a6a90"/><stop offset="1" stop-color="#6e5076"/></radialGradient><radialGradient id="gFM" cx="50%" cy="48%" r="55%"><stop offset="0" stop-color="#6f3741"/><stop offset="0.75" stop-color="#5c1c28"/><stop offset="1" stop-color="#40121c"/></radialGradient><radialGradient id="gFO" cx="50%" cy="48%" r="55%"><stop offset="0" stop-color="#985648"/><stop offset="0.75" stop-color="#8a4030"/><stop offset="1" stop-color="#6e3024"/></radialGradient><radialGradient id="gFX" cx="50%" cy="48%" r="55%"><stop offset="0" stop-color="#434d81"/><stop offset="0.75" stop-color="#2a3570"/><stop offset="1" stop-color="#1c2452"/></radialGradient><radialGradient id="gFT" cx="50%" cy="48%" r="55%"><stop offset="0" stop-color="#3594ce"/><stop offset="0.75" stop-color="#1a86c8"/><stop offset="1" stop-color="#146ca8"/></radialGradient><radialGradient id="gFL" cx="50%" cy="48%" r="55%"><stop offset="0" stop-color="#91ccec"/><stop offset="0.75" stop-color="#5eb4e4"/><stop offset="1" stop-color="#3e98cc"/></radialGradient><radialGradient id="gFV" cx="50%" cy="48%" r="55%"><stop offset="0" stop-color="#436dce"/><stop offset="0.75" stop-color="#2a5ac8"/><stop offset="1" stop-color="#2048a6"/></radialGradient><radialGradient id="gFw" cx="50%" cy="48%" r="55%"><stop offset="0" stop-color="#f8f3f5"/><stop offset="0.75" stop-color="#f8f2f4"/><stop offset="1" stop-color="#f8f2f4"/></radialGradient></defs>
<g clip-path="url(#clipF)">
<rect x="763.0" y="1605.0" width="612.0" height="460.0" fill="#e6d2dd"/>
<rect x="763.0" y="1605.0" width="612.0" height="460.0" fill="#e6d2dd" filter="url(#bgTex)"/>
<g filter="url(#blurBig)">
<ellipse cx="1116.5" cy="1813.9" rx="47.5" ry="23.7" fill="#6a2530" opacity="0.4"/>
<ellipse cx="1223.3" cy="1937.3" rx="47.5" ry="28.5" fill="#6a2530" opacity="0.4"/>
</g>
<g filter="url(#cellTexL)">
<ellipse cx="782.0" cy="1664.3" rx="19.0" ry="47.5" fill="url(#gFw)" stroke="#f8f2f4" stroke-width="1.0" opacity="0.95"/>
<ellipse cx="990.9" cy="1692.8" rx="23.7" ry="23.7" fill="url(#gFw)" stroke="#f8f2f4" stroke-width="1.0" opacity="0.95"/>
<ellipse cx="1052.6" cy="1659.6" rx="19.0" ry="35.6" fill="url(#gFw)" stroke="#f8f2f4" stroke-width="1.0" opacity="0.95"/>
<ellipse cx="943.4" cy="1949.2" rx="23.7" ry="19.0" fill="url(#gFw)" stroke="#f8f2f4" stroke-width="1.0" opacity="0.95"/>
<ellipse cx="810.5" cy="1856.6" rx="19.0" ry="19.0" fill="url(#gFw)" stroke="#f8f2f4" stroke-width="1.0" opacity="0.95"/>
<ellipse cx="1028.8" cy="1975.3" rx="9.5" ry="9.5" fill="url(#gFw)" stroke="#f8f2f4" stroke-width="1.0" opacity="0.95"/>
<ellipse cx="924.4" cy="1681.0" rx="19.0" ry="19.0" fill="url(#gFP)" stroke="#8474bc" stroke-width="2.0" opacity="0.9"/>
<ellipse cx="824.7" cy="1662.0" rx="11.9" ry="14.2" fill="url(#gFn)" stroke="#9585c6" stroke-width="2.0" opacity="0.8"/>
<ellipse cx="853.2" cy="1652.5" rx="14.2" ry="14.2" fill="url(#gFp)" stroke="#b4a6d0" stroke-width="2.0" opacity="0.7"/>
<ellipse cx="950.5" cy="1654.8" rx="11.9" ry="14.2" fill="url(#gFn)" stroke="#9585c6" stroke-width="2.0" opacity="0.8"/>
<ellipse cx="1014.6" cy="1678.6" rx="11.9" ry="14.2" fill="url(#gFn)" stroke="#9585c6" stroke-width="2.0" opacity="0.8"/>
<ellipse cx="1050.2" cy="1685.7" rx="11.9" ry="11.9" fill="url(#gFn)" stroke="#9585c6" stroke-width="2.0" opacity="0.8"/>
<ellipse cx="917.3" cy="1709.4" rx="9.5" ry="9.5" fill="url(#gFp)" stroke="#b4a6d0" stroke-width="2.0" opacity="0.7"/>
<ellipse cx="834.2" cy="1733.2" rx="14.2" ry="19.0" fill="url(#gFn)" stroke="#9585c6" stroke-width="2.0" opacity="0.8"/>
<ellipse cx="867.4" cy="1752.2" rx="11.9" ry="16.6" fill="url(#gFn)" stroke="#9585c6" stroke-width="2.0" opacity="0.8"/>
<ellipse cx="891.2" cy="1761.7" rx="11.9" ry="11.9" fill="url(#gFn)" stroke="#9585c6" stroke-width="2.0" opacity="0.8"/>
<ellipse cx="786.7" cy="1759.3" rx="14.2" ry="16.6" fill="url(#gFn)" stroke="#9585c6" stroke-width="2.0" opacity="0.8"/>
<ellipse cx="770.1" cy="1785.4" rx="7.1" ry="16.6" fill="url(#gFn)" stroke="#9585c6" stroke-width="2.0" opacity="0.8"/>
<ellipse cx="933.9" cy="1742.7" rx="9.5" ry="9.5" fill="url(#gFn)" stroke="#9585c6" stroke-width="2.0" opacity="0.8"/>
<ellipse cx="971.9" cy="1733.2" rx="9.5" ry="9.5" fill="url(#gFn)" stroke="#9585c6" stroke-width="2.0" opacity="0.8"/>
<ellipse cx="1024.1" cy="1768.8" rx="14.2" ry="14.2" fill="url(#gFP)" stroke="#8474bc" stroke-width="2.0" opacity="0.9"/>
<ellipse cx="836.6" cy="1790.1" rx="11.9" ry="7.1" fill="url(#gFP)" stroke="#8474bc" stroke-width="2.0" opacity="0.9"/>
<ellipse cx="850.8" cy="1802.0" rx="9.5" ry="9.5" fill="url(#gFn)" stroke="#9585c6" stroke-width="2.0" opacity="0.8"/>
<ellipse cx="910.2" cy="1818.6" rx="14.2" ry="19.0" fill="url(#gFp)" stroke="#b4a6d0" stroke-width="2.0" opacity="0.7"/>
<ellipse cx="943.4" cy="1809.1" rx="11.9" ry="9.5" fill="url(#gFn)" stroke="#9585c6" stroke-width="2.0" opacity="0.8"/>
<ellipse cx="1040.7" cy="1804.4" rx="11.9" ry="11.9" fill="url(#gFp)" stroke="#b4a6d0" stroke-width="2.0" opacity="0.7"/>
<ellipse cx="798.6" cy="1804.4" rx="11.9" ry="11.9" fill="url(#gFp)" stroke="#b4a6d0" stroke-width="2.0" opacity="0.7"/>
</g>
<g filter="url(#cellTexD)">
<ellipse cx="767.7" cy="1813.9" rx="7.1" ry="11.9" fill="url(#gFm)" stroke="#6e5076" stroke-width="1.0" opacity="0.9"/>
</g>
<g filter="url(#cellTexL)">
<ellipse cx="810.5" cy="1832.9" rx="19.0" ry="11.9" fill="url(#gFp)" stroke="#b4a6d0" stroke-width="2.0" opacity="0.7"/>
<ellipse cx="865.1" cy="1844.7" rx="19.0" ry="23.7" fill="url(#gFP)" stroke="#8474bc" stroke-width="2.0" opacity="0.9"/>
<ellipse cx="971.9" cy="1856.6" rx="9.5" ry="9.5" fill="url(#gFn)" stroke="#9585c6" stroke-width="2.0" opacity="0.8"/>
<ellipse cx="995.6" cy="1906.4" rx="14.2" ry="16.6" fill="url(#gFP)" stroke="#8474bc" stroke-width="2.0" opacity="0.9"/>
<ellipse cx="1028.8" cy="1889.8" rx="14.2" ry="11.9" fill="url(#gFp)" stroke="#b4a6d0" stroke-width="2.0" opacity="0.7"/>
<ellipse cx="893.5" cy="1889.8" rx="11.9" ry="9.5" fill="url(#gFn)" stroke="#9585c6" stroke-width="2.0" opacity="0.8"/>
<ellipse cx="779.6" cy="1901.7" rx="11.9" ry="14.2" fill="url(#gFn)" stroke="#9585c6" stroke-width="2.0" opacity="0.8"/>
<ellipse cx="801.0" cy="1913.6" rx="11.9" ry="14.2" fill="url(#gFn)" stroke="#9585c6" stroke-width="2.0" opacity="0.8"/>
<ellipse cx="829.5" cy="1925.4" rx="11.9" ry="16.6" fill="url(#gFn)" stroke="#9585c6" stroke-width="2.0" opacity="0.8"/>
<ellipse cx="857.9" cy="1901.7" rx="14.2" ry="14.2" fill="url(#gFp)" stroke="#b4a6d0" stroke-width="2.0" opacity="0.7"/>
<ellipse cx="879.3" cy="1920.7" rx="11.9" ry="16.6" fill="url(#gFn)" stroke="#9585c6" stroke-width="2.0" opacity="0.8"/>
<ellipse cx="862.7" cy="1949.2" rx="14.2" ry="11.9" fill="url(#gFp)" stroke="#b4a6d0" stroke-width="2.0" opacity="0.7"/>
<ellipse cx="791.5" cy="1944.4" rx="9.5" ry="14.2" fill="url(#gFp)" stroke="#b4a6d0" stroke-width="2.0" opacity="0.7"/>
<ellipse cx="848.4" cy="1980.0" rx="14.2" ry="14.2" fill="url(#gFn)" stroke="#9585c6" stroke-width="2.0" opacity="0.8"/>
<ellipse cx="796.2" cy="1984.8" rx="11.9" ry="14.2" fill="url(#gFn)" stroke="#9585c6" stroke-width="2.0" opacity="0.8"/>
<ellipse cx="772.5" cy="1975.3" rx="9.5" ry="14.2" fill="url(#gFn)" stroke="#9585c6" stroke-width="2.0" opacity="0.8"/>
<ellipse cx="1012.2" cy="1980.0" rx="9.5" ry="21.4" fill="url(#gFn)" stroke="#9585c6" stroke-width="2.0" opacity="0.8"/>
<ellipse cx="1043.1" cy="1956.3" rx="11.9" ry="14.2" fill="url(#gFn)" stroke="#9585c6" stroke-width="2.0" opacity="0.8"/>
<ellipse cx="1024.1" cy="2008.5" rx="11.9" ry="16.6" fill="url(#gFn)" stroke="#9585c6" stroke-width="2.0" opacity="0.8"/>
<ellipse cx="1047.8" cy="2044.1" rx="11.9" ry="16.6" fill="url(#gFn)" stroke="#9585c6" stroke-width="2.0" opacity="0.8"/>
<ellipse cx="874.6" cy="2044.1" rx="14.2" ry="19.0" fill="url(#gFn)" stroke="#9585c6" stroke-width="2.0" opacity="0.8"/>
<ellipse cx="905.4" cy="2051.2" rx="9.5" ry="11.9" fill="url(#gFn)" stroke="#9585c6" stroke-width="2.0" opacity="0.8"/>
<ellipse cx="971.9" cy="2008.5" rx="9.5" ry="14.2" fill="url(#gFp)" stroke="#b4a6d0" stroke-width="2.0" opacity="0.7"/>
<ellipse cx="990.9" cy="2044.1" rx="9.5" ry="9.5" fill="url(#gFp)" stroke="#b4a6d0" stroke-width="2.0" opacity="0.7"/>
<ellipse cx="824.7" cy="2020.4" rx="9.5" ry="9.5" fill="url(#gFp)" stroke="#b4a6d0" stroke-width="2.0" opacity="0.7"/>
<ellipse cx="777.2" cy="2037.0" rx="9.5" ry="9.5" fill="url(#gFp)" stroke="#b4a6d0" stroke-width="2.0" opacity="0.7"/>
</g>
<g filter="url(#cellTexD)">
<ellipse cx="869.8" cy="1666.7" rx="11.9" ry="11.9" fill="url(#gFT)" stroke="#146ca8" stroke-width="1.0" opacity="0.9"/>
<ellipse cx="846.1" cy="1628.7" rx="9.5" ry="7.1" fill="url(#gFT)" stroke="#146ca8" stroke-width="1.0" opacity="0.9"/>
<ellipse cx="895.9" cy="1657.2" rx="11.9" ry="9.5" fill="url(#gFX)" stroke="#1c2452" stroke-width="1.0" opacity="0.95"/>
<ellipse cx="938.6" cy="1695.2" rx="14.2" ry="9.5" fill="url(#gFT)" stroke="#146ca8" stroke-width="1.0" opacity="0.9"/>
<ellipse cx="998.0" cy="1740.3" rx="11.9" ry="7.1" fill="url(#gFT)" stroke="#146ca8" stroke-width="1.0" opacity="0.9"/>
<ellipse cx="990.9" cy="1775.9" rx="7.1" ry="9.5" fill="url(#gFT)" stroke="#146ca8" stroke-width="1.0" opacity="0.9"/>
<ellipse cx="888.8" cy="1892.2" rx="9.5" ry="9.5" fill="url(#gFT)" stroke="#146ca8" stroke-width="1.0" opacity="0.9"/>
<ellipse cx="1052.6" cy="1870.8" rx="19.0" ry="19.0" fill="url(#gFX)" stroke="#1c2452" stroke-width="1.0" opacity="0.95"/>
<ellipse cx="1000.4" cy="1828.1" rx="9.5" ry="9.5" fill="url(#gFT)" stroke="#146ca8" stroke-width="1.0" opacity="0.9"/>
</g>
<g filter="url(#cellTexL)">
<ellipse cx="767.7" cy="1688.1" rx="7.1" ry="11.9" fill="url(#gFL)" stroke="#3e98cc" stroke-width="1.0" opacity="0.88"/>
</g>
<g filter="url(#cellTexD)">
<ellipse cx="938.6" cy="1989.5" rx="14.2" ry="9.5" fill="url(#gFT)" stroke="#146ca8" stroke-width="1.0" opacity="0.9"/>
<ellipse cx="869.8" cy="1614.5" rx="16.6" ry="11.9" fill="url(#gFM)" stroke="#40121c" stroke-width="1.0" opacity="0.95"/>
<ellipse cx="910.2" cy="1616.9" rx="9.5" ry="9.5" fill="url(#gFM)" stroke="#40121c" stroke-width="1.0" opacity="0.95"/>
<ellipse cx="884.1" cy="1645.4" rx="11.9" ry="11.9" fill="url(#gFM)" stroke="#40121c" stroke-width="1.0" opacity="0.95"/>
<ellipse cx="895.9" cy="1676.2" rx="11.9" ry="9.5" fill="url(#gFO)" stroke="#6e3024" stroke-width="1.0" opacity="0.92"/>
<ellipse cx="964.8" cy="1690.4" rx="14.2" ry="16.6" fill="url(#gFM)" stroke="#40121c" stroke-width="1.0" opacity="0.95"/>
<ellipse cx="1026.5" cy="1733.2" rx="16.6" ry="16.6" fill="url(#gFM)" stroke="#40121c" stroke-width="1.0" opacity="0.95"/>
<ellipse cx="941.0" cy="1775.9" rx="19.0" ry="16.6" fill="url(#gFX)" stroke="#1c2452" stroke-width="1.0" opacity="0.95"/>
<ellipse cx="1002.7" cy="1780.6" rx="14.2" ry="19.0" fill="url(#gFM)" stroke="#40121c" stroke-width="1.0" opacity="0.95"/>
<ellipse cx="1055.0" cy="1747.4" rx="14.2" ry="23.7" fill="url(#gFM)" stroke="#40121c" stroke-width="1.0" opacity="0.95"/>
<ellipse cx="1052.6" cy="1785.4" rx="14.2" ry="14.2" fill="url(#gFM)" stroke="#40121c" stroke-width="1.0" opacity="0.95"/>
<ellipse cx="974.2" cy="1825.7" rx="16.6" ry="16.6" fill="url(#gFM)" stroke="#40121c" stroke-width="1.0" opacity="0.95"/>
<ellipse cx="1017.0" cy="1823.4" rx="16.6" ry="21.4" fill="url(#gFM)" stroke="#40121c" stroke-width="1.0" opacity="0.95"/>
<ellipse cx="1009.9" cy="1870.8" rx="16.6" ry="16.6" fill="url(#gFM)" stroke="#40121c" stroke-width="1.0" opacity="0.95"/>
<ellipse cx="1057.3" cy="1856.6" rx="11.9" ry="14.2" fill="url(#gFX)" stroke="#1c2452" stroke-width="1.0" opacity="0.95"/>
<ellipse cx="924.4" cy="1970.5" rx="14.2" ry="14.2" fill="url(#gFM)" stroke="#40121c" stroke-width="1.0" opacity="0.95"/>
<ellipse cx="900.7" cy="2003.8" rx="11.9" ry="16.6" fill="url(#gFM)" stroke="#40121c" stroke-width="1.0" opacity="0.95"/>
</g>
<g filter="url(#cellTexL)">
<ellipse cx="1147.3" cy="1790.1" rx="14.2" ry="9.5" fill="url(#gFw)" stroke="#f8f2f4" stroke-width="1.0" opacity="0.95"/>
<ellipse cx="1097.5" cy="1996.6" rx="14.2" ry="14.2" fill="url(#gFw)" stroke="#f8f2f4" stroke-width="1.0" opacity="0.95"/>
<ellipse cx="1261.3" cy="1989.5" rx="9.5" ry="7.1" fill="url(#gFw)" stroke="#f8f2f4" stroke-width="1.0" opacity="0.95"/>
<ellipse cx="1301.6" cy="1818.6" rx="11.9" ry="11.9" fill="url(#gFw)" stroke="#f8f2f4" stroke-width="1.0" opacity="0.95"/>
<ellipse cx="1287.4" cy="1614.5" rx="9.5" ry="7.1" fill="url(#gFw)" stroke="#f8f2f4" stroke-width="1.0" opacity="0.95"/>
<ellipse cx="1239.9" cy="1619.2" rx="14.2" ry="14.2" fill="url(#gFp)" stroke="#b4a6d0" stroke-width="2.0" opacity="0.7"/>
<ellipse cx="1315.9" cy="1628.7" rx="14.2" ry="19.0" fill="url(#gFn)" stroke="#9585c6" stroke-width="2.0" opacity="0.8"/>
<ellipse cx="1199.5" cy="1645.4" rx="14.2" ry="14.2" fill="url(#gFn)" stroke="#9585c6" stroke-width="2.0" opacity="0.8"/>
<ellipse cx="1168.7" cy="1638.2" rx="9.5" ry="9.5" fill="url(#gFn)" stroke="#9585c6" stroke-width="2.0" opacity="0.8"/>
<ellipse cx="1145.0" cy="1685.7" rx="9.5" ry="11.9" fill="url(#gFn)" stroke="#9585c6" stroke-width="2.0" opacity="0.8"/>
<ellipse cx="1163.9" cy="1683.3" rx="7.1" ry="9.5" fill="url(#gFn)" stroke="#9585c6" stroke-width="2.0" opacity="0.8"/>
<ellipse cx="1116.5" cy="1697.6" rx="9.5" ry="9.5" fill="url(#gFn)" stroke="#9585c6" stroke-width="2.0" opacity="0.8"/>
<ellipse cx="1130.7" cy="1711.8" rx="7.1" ry="7.1" fill="url(#gFn)" stroke="#9585c6" stroke-width="2.0" opacity="0.8"/>
<ellipse cx="1228.0" cy="1662.0" rx="11.9" ry="9.5" fill="url(#gFn)" stroke="#9585c6" stroke-width="2.0" opacity="0.8"/>
<ellipse cx="1213.8" cy="1690.4" rx="9.5" ry="11.9" fill="url(#gFn)" stroke="#9585c6" stroke-width="2.0" opacity="0.8"/>
<ellipse cx="1254.1" cy="1711.8" rx="14.2" ry="16.6" fill="url(#gFn)" stroke="#9585c6" stroke-width="2.0" opacity="0.8"/>
<ellipse cx="1149.7" cy="1726.1" rx="19.0" ry="7.1" fill="url(#gFP)" stroke="#8474bc" stroke-width="2.0" opacity="0.9"/>
<ellipse cx="1209.0" cy="1733.2" rx="9.5" ry="11.9" fill="url(#gFn)" stroke="#9585c6" stroke-width="2.0" opacity="0.8"/>
<ellipse cx="1256.5" cy="1759.3" rx="9.5" ry="14.2" fill="url(#gFn)" stroke="#9585c6" stroke-width="2.0" opacity="0.8"/>
<ellipse cx="1301.6" cy="1737.9" rx="11.9" ry="14.2" fill="url(#gFP)" stroke="#8474bc" stroke-width="2.0" opacity="0.9"/>
<ellipse cx="1315.9" cy="1771.2" rx="16.6" ry="14.2" fill="url(#gFn)" stroke="#9585c6" stroke-width="2.0" opacity="0.8"/>
<ellipse cx="1147.3" cy="1756.9" rx="11.9" ry="11.9" fill="url(#gFn)" stroke="#9585c6" stroke-width="2.0" opacity="0.8"/>
<ellipse cx="1182.9" cy="1771.2" rx="9.5" ry="9.5" fill="url(#gFn)" stroke="#9585c6" stroke-width="2.0" opacity="0.8"/>
<ellipse cx="1254.1" cy="1799.6" rx="11.9" ry="9.5" fill="url(#gFP)" stroke="#8474bc" stroke-width="2.0" opacity="0.9"/>
<ellipse cx="1182.9" cy="1794.9" rx="11.9" ry="9.5" fill="url(#gFn)" stroke="#9585c6" stroke-width="2.0" opacity="0.8"/>
<ellipse cx="1365.7" cy="1799.6" rx="9.5" ry="11.9" fill="url(#gFn)" stroke="#9585c6" stroke-width="2.0" opacity="0.8"/>
<ellipse cx="1346.7" cy="1842.4" rx="11.9" ry="11.9" fill="url(#gFn)" stroke="#9585c6" stroke-width="2.0" opacity="0.8"/>
<ellipse cx="1325.3" cy="1837.6" rx="7.1" ry="7.1" fill="url(#gFn)" stroke="#9585c6" stroke-width="2.0" opacity="0.8"/>
<ellipse cx="1092.7" cy="1873.2" rx="14.2" ry="14.2" fill="url(#gFP)" stroke="#8474bc" stroke-width="2.0" opacity="0.9"/>
<ellipse cx="1156.8" cy="1866.1" rx="9.5" ry="11.9" fill="url(#gFn)" stroke="#9585c6" stroke-width="2.0" opacity="0.8"/>
<ellipse cx="1166.3" cy="1899.3" rx="9.5" ry="9.5" fill="url(#gFn)" stroke="#9585c6" stroke-width="2.0" opacity="0.8"/>
<ellipse cx="1192.4" cy="1901.7" rx="9.5" ry="11.9" fill="url(#gFn)" stroke="#9585c6" stroke-width="2.0" opacity="0.8"/>
<ellipse cx="1088.0" cy="1930.2" rx="14.2" ry="16.6" fill="url(#gFn)" stroke="#9585c6" stroke-width="2.0" opacity="0.8"/>
<ellipse cx="1083.2" cy="2003.8" rx="14.2" ry="14.2" fill="url(#gFn)" stroke="#9585c6" stroke-width="2.0" opacity="0.8"/>
<ellipse cx="1104.6" cy="2039.4" rx="11.9" ry="11.9" fill="url(#gFn)" stroke="#9585c6" stroke-width="2.0" opacity="0.8"/>
<ellipse cx="1173.4" cy="1994.3" rx="11.9" ry="14.2" fill="url(#gFn)" stroke="#9585c6" stroke-width="2.0" opacity="0.8"/>
<ellipse cx="1311.1" cy="1999.0" rx="16.6" ry="14.2" fill="url(#gFn)" stroke="#9585c6" stroke-width="2.0" opacity="0.8"/>
<ellipse cx="1363.3" cy="1961.0" rx="11.9" ry="19.0" fill="url(#gFP)" stroke="#8474bc" stroke-width="2.0" opacity="0.9"/>
<ellipse cx="1353.8" cy="2044.1" rx="11.9" ry="9.5" fill="url(#gFn)" stroke="#9585c6" stroke-width="2.0" opacity="0.8"/>
<ellipse cx="1258.9" cy="1999.0" rx="14.2" ry="11.9" fill="url(#gFP)" stroke="#8474bc" stroke-width="2.0" opacity="0.9"/>
<ellipse cx="1277.9" cy="2039.4" rx="11.9" ry="9.5" fill="url(#gFn)" stroke="#9585c6" stroke-width="2.0" opacity="0.8"/>
<ellipse cx="1201.9" cy="2044.1" rx="9.5" ry="9.5" fill="url(#gFn)" stroke="#9585c6" stroke-width="2.0" opacity="0.8"/>
<ellipse cx="1353.8" cy="1906.4" rx="9.5" ry="9.5" fill="url(#gFn)" stroke="#9585c6" stroke-width="2.0" opacity="0.8"/>
<ellipse cx="1368.1" cy="1851.9" rx="7.1" ry="9.5" fill="url(#gFn)" stroke="#9585c6" stroke-width="2.0" opacity="0.8"/>
</g>
<g filter="url(#cellTexD)">
<ellipse cx="1083.2" cy="1666.7" rx="19.0" ry="23.7" fill="url(#gFX)" stroke="#1c2452" stroke-width="1.0" opacity="0.95"/>
<ellipse cx="1078.5" cy="1735.5" rx="14.2" ry="14.2" fill="url(#gFX)" stroke="#1c2452" stroke-width="1.0" opacity="0.95"/>
<ellipse cx="1232.8" cy="1640.6" rx="14.2" ry="11.9" fill="url(#gFX)" stroke="#1c2452" stroke-width="1.0" opacity="0.95"/>
<ellipse cx="1270.8" cy="1676.2" rx="21.4" ry="19.0" fill="url(#gFX)" stroke="#1c2452" stroke-width="1.0" opacity="0.95"/>
</g>
<g filter="url(#cellTexL)">
<ellipse cx="1342.0" cy="1716.6" rx="23.7" ry="28.5" fill="url(#gFL)" stroke="#3e98cc" stroke-width="1.0" opacity="0.88"/>
</g>
<g filter="url(#cellTexD)">
<ellipse cx="1287.4" cy="1756.9" rx="11.9" ry="23.7" fill="url(#gFT)" stroke="#146ca8" stroke-width="1.0" opacity="0.9"/>
<ellipse cx="1325.3" cy="1797.3" rx="14.2" ry="14.2" fill="url(#gFX)" stroke="#1c2452" stroke-width="1.0" opacity="0.95"/>
<ellipse cx="1092.7" cy="1813.9" rx="23.7" ry="14.2" fill="url(#gFM)" stroke="#40121c" stroke-width="1.0" opacity="0.95"/>
<ellipse cx="1147.3" cy="1813.9" rx="19.0" ry="11.9" fill="url(#gFM)" stroke="#40121c" stroke-width="1.0" opacity="0.95"/>
<ellipse cx="1104.6" cy="1837.6" rx="14.2" ry="14.2" fill="url(#gFM)" stroke="#40121c" stroke-width="1.0" opacity="0.95"/>
<ellipse cx="1128.3" cy="1854.2" rx="19.0" ry="23.7" fill="url(#gFT)" stroke="#146ca8" stroke-width="1.0" opacity="0.9"/>
<ellipse cx="1121.2" cy="1759.3" rx="9.5" ry="11.9" fill="url(#gFT)" stroke="#146ca8" stroke-width="1.0" opacity="0.9"/>
<ellipse cx="1073.7" cy="1866.1" rx="9.5" ry="14.2" fill="url(#gFM)" stroke="#40121c" stroke-width="1.0" opacity="0.95"/>
<ellipse cx="1204.3" cy="1818.6" rx="21.4" ry="16.6" fill="url(#gFM)" stroke="#40121c" stroke-width="1.0" opacity="0.95"/>
<ellipse cx="1192.4" cy="1837.6" rx="14.2" ry="14.2" fill="url(#gFM)" stroke="#40121c" stroke-width="1.0" opacity="0.95"/>
<ellipse cx="1242.3" cy="1830.5" rx="11.9" ry="11.9" fill="url(#gFO)" stroke="#6e3024" stroke-width="1.0" opacity="0.92"/>
</g>
<g filter="url(#cellTexL)">
<ellipse cx="1218.5" cy="1851.9" rx="14.2" ry="14.2" fill="url(#gFP)" stroke="#8474bc" stroke-width="2.0" opacity="0.9"/>
</g>
<g filter="url(#cellTexD)">
<ellipse cx="1192.4" cy="1861.3" rx="14.2" ry="11.9" fill="url(#gFT)" stroke="#146ca8" stroke-width="1.0" opacity="0.9"/>
</g>
<g filter="url(#cellTexL)">
<ellipse cx="1275.5" cy="1894.6" rx="19.0" ry="23.7" fill="url(#gFL)" stroke="#3e98cc" stroke-width="1.0" opacity="0.88"/>
</g>
<g filter="url(#cellTexD)">
<ellipse cx="1306.4" cy="1882.7" rx="16.6" ry="19.0" fill="url(#gFV)" stroke="#2048a6" stroke-width="1.0" opacity="0.92"/>
<ellipse cx="1294.5" cy="1849.5" rx="14.2" ry="14.2" fill="url(#gFM)" stroke="#40121c" stroke-width="1.0" opacity="0.95"/>
<ellipse cx="1304.0" cy="1911.2" rx="16.6" ry="16.6" fill="url(#gFM)" stroke="#40121c" stroke-width="1.0" opacity="0.95"/>
<ellipse cx="1218.5" cy="1930.2" rx="28.5" ry="23.7" fill="url(#gFM)" stroke="#40121c" stroke-width="1.0" opacity="0.95"/>
<ellipse cx="1266.0" cy="1942.0" rx="19.0" ry="19.0" fill="url(#gFM)" stroke="#40121c" stroke-width="1.0" opacity="0.95"/>
<ellipse cx="1235.2" cy="1961.0" rx="14.2" ry="14.2" fill="url(#gFM)" stroke="#40121c" stroke-width="1.0" opacity="0.95"/>
<ellipse cx="1173.4" cy="1944.4" rx="9.5" ry="9.5" fill="url(#gFX)" stroke="#1c2452" stroke-width="1.0" opacity="0.95"/>
<ellipse cx="1337.2" cy="1951.5" rx="11.9" ry="14.2" fill="url(#gFM)" stroke="#40121c" stroke-width="1.0" opacity="0.95"/>
<ellipse cx="1239.9" cy="1944.4" rx="11.9" ry="11.9" fill="url(#gFT)" stroke="#146ca8" stroke-width="1.0" opacity="0.9"/>
<ellipse cx="1128.3" cy="1965.8" rx="23.7" ry="23.7" fill="url(#gFT)" stroke="#146ca8" stroke-width="1.0" opacity="0.9"/>
</g>
<g filter="url(#cellTexL)">
<ellipse cx="1130.7" cy="1961.0" rx="14.2" ry="19.0" fill="url(#gFP)" stroke="#8474bc" stroke-width="2.0" opacity="0.9"/>
</g>
<g filter="url(#cellTexD)">
<ellipse cx="1216.2" cy="2008.5" rx="11.9" ry="19.0" fill="url(#gFM)" stroke="#40121c" stroke-width="1.0" opacity="0.95"/>
<ellipse cx="1147.3" cy="2034.6" rx="16.6" ry="11.9" fill="url(#gFM)" stroke="#40121c" stroke-width="1.0" opacity="0.95"/>
<ellipse cx="1244.6" cy="2013.3" rx="7.1" ry="7.1" fill="url(#gFX)" stroke="#1c2452" stroke-width="1.0" opacity="0.95"/>
<ellipse cx="1358.6" cy="2032.2" rx="9.5" ry="7.1" fill="url(#gFT)" stroke="#146ca8" stroke-width="1.0" opacity="0.9"/>
<ellipse cx="1258.9" cy="1878.0" rx="7.1" ry="14.2" fill="url(#gFT)" stroke="#146ca8" stroke-width="1.0" opacity="0.9"/>
</g>
<polygon points="1000.6,1728.1 976.6,1715.4 979.1,1728.1 976.6,1740.8" fill="#f50514"/>
<polygon points="952.8,1822.9 928.8,1810.2 931.3,1822.9 928.8,1835.6" fill="#f50514"/>
<polygon points="988.9,1875.3 964.9,1862.6 967.4,1875.3 964.9,1888.0" fill="#f50514"/>
<polygon points="1193.6,1864.2 1206.3,1888.2 1193.6,1885.7 1180.9,1888.2" fill="#f50514"/>
</g>
<defs><clipPath id="clipH"><rect x="1414.0" y="1605.0" width="611.0" height="460.0"/></clipPath><radialGradient id="gHn" cx="50%" cy="48%" r="55%"><stop offset="0" stop-color="#bdc1e4"/><stop offset="0.75" stop-color="#9ea4d8"/><stop offset="1" stop-color="#7a84c8"/></radialGradient><radialGradient id="gHN" cx="50%" cy="48%" r="55%"><stop offset="0" stop-color="#6d81ce"/><stop offset="0.75" stop-color="#5a70c8"/><stop offset="1" stop-color="#465cb0"/></radialGradient><radialGradient id="gHp" cx="50%" cy="48%" r="55%"><stop offset="0" stop-color="#ddd6e5"/><stop offset="0.75" stop-color="#cdc4da"/><stop offset="1" stop-color="#b0a8cc"/></radialGradient><radialGradient id="gHm" cx="50%" cy="48%" r="55%"><stop offset="0" stop-color="#a6898f"/><stop offset="0.75" stop-color="#9a7a80"/><stop offset="1" stop-color="#7e5e66"/></radialGradient><radialGradient id="gHM" cx="50%" cy="48%" r="55%"><stop offset="0" stop-color="#6d3947"/><stop offset="0.75" stop-color="#5a1e2e"/><stop offset="1" stop-color="#40121e"/></radialGradient><radialGradient id="gHO" cx="50%" cy="48%" r="55%"><stop offset="0" stop-color="#a66d5b"/><stop offset="0.75" stop-color="#9a5a45"/><stop offset="1" stop-color="#7e4433"/></radialGradient><radialGradient id="gHX" cx="50%" cy="48%" r="55%"><stop offset="0" stop-color="#514669"/><stop offset="0.75" stop-color="#3a2d55"/><stop offset="1" stop-color="#281e40"/></radialGradient><radialGradient id="gHU" cx="50%" cy="48%" r="55%"><stop offset="0" stop-color="#356188"/><stop offset="0.75" stop-color="#1a4c78"/><stop offset="1" stop-color="#123a5e"/></radialGradient><radialGradient id="gHT" cx="50%" cy="48%" r="55%"><stop offset="0" stop-color="#398eb2"/><stop offset="0.75" stop-color="#1f7fa8"/><stop offset="1" stop-color="#17668a"/></radialGradient><radialGradient id="gHg" cx="50%" cy="48%" r="55%"><stop offset="0" stop-color="#989bb2"/><stop offset="0.75" stop-color="#8a8ea8"/><stop offset="1" stop-color="#6e728e"/></radialGradient><radialGradient id="gHV" cx="50%" cy="48%" r="55%"><stop offset="0" stop-color="#4873c7"/><stop offset="0.75" stop-color="#3060c0"/><stop offset="1" stop-color="#254ea2"/></radialGradient><radialGradient id="gHb" cx="50%" cy="48%" r="55%"><stop offset="0" stop-color="#987373"/><stop offset="0.75" stop-color="#8a6060"/><stop offset="1" stop-color="#6e4848"/></radialGradient><radialGradient id="gHw" cx="50%" cy="48%" r="55%"><stop offset="0" stop-color="#f8f5f5"/><stop offset="0.75" stop-color="#f8f4f4"/><stop offset="1" stop-color="#f8f4f4"/></radialGradient></defs>
<g clip-path="url(#clipH)">
<rect x="1414.0" y="1605.0" width="611.0" height="460.0" fill="#eedcda"/>
<rect x="1414.0" y="1605.0" width="611.0" height="460.0" fill="#eedcda" filter="url(#bgTex)"/>
<g filter="url(#blurBig)">
<ellipse cx="1449.6" cy="1735.5" rx="35.6" ry="19.0" fill="#dfa48a" opacity="0.35"/>
<ellipse cx="1580.2" cy="1676.2" rx="35.6" ry="23.7" fill="#dfa48a" opacity="0.35"/>
<ellipse cx="1651.4" cy="1866.1" rx="35.6" ry="19.0" fill="#dfa48a" opacity="0.35"/>
<ellipse cx="1556.4" cy="1842.4" rx="35.6" ry="23.7" fill="#dfa48a" opacity="0.35"/>
<ellipse cx="1698.8" cy="1937.3" rx="23.7" ry="35.6" fill="#dfa48a" opacity="0.35"/>
<ellipse cx="1790.2" cy="1942.0" rx="35.6" ry="23.7" fill="#dfa48a" opacity="0.35"/>
<ellipse cx="1920.8" cy="1771.2" rx="23.7" ry="23.7" fill="#dfa48a" opacity="0.35"/>
<ellipse cx="1992.0" cy="1723.7" rx="28.5" ry="19.0" fill="#dfa48a" opacity="0.35"/>
<ellipse cx="1885.2" cy="2056.0" rx="19.0" ry="14.2" fill="#dfa48a" opacity="0.35"/>
<ellipse cx="1980.1" cy="1628.7" rx="23.7" ry="23.7" fill="#dfa48a" opacity="0.35"/>
</g>
<g filter="url(#cellTexL)">
<ellipse cx="1437.7" cy="1780.6" rx="19.0" ry="28.5" fill="url(#gHw)" stroke="#f8f4f4" stroke-width="1.0" opacity="0.95"/>
<ellipse cx="1634.7" cy="2032.2" rx="9.5" ry="7.1" fill="url(#gHw)" stroke="#f8f4f4" stroke-width="1.0" opacity="0.95"/>
<ellipse cx="1425.9" cy="1664.3" rx="11.9" ry="23.7" fill="url(#gHw)" stroke="#f8f4f4" stroke-width="1.0" opacity="0.95"/>
</g>
<g filter="url(#cellTexD)">
<ellipse cx="1475.7" cy="1619.2" rx="9.5" ry="11.9" fill="url(#gHm)" stroke="#7e5e66" stroke-width="1.0" opacity="0.85"/>
</g>
<g filter="url(#cellTexL)">
<ellipse cx="1504.2" cy="1619.2" rx="14.2" ry="11.9" fill="url(#gHn)" stroke="#7a84c8" stroke-width="2.0" opacity="0.85"/>
<ellipse cx="1546.9" cy="1624.0" rx="16.6" ry="14.2" fill="url(#gHn)" stroke="#7a84c8" stroke-width="2.0" opacity="0.85"/>
<ellipse cx="1520.8" cy="1633.5" rx="9.5" ry="11.9" fill="url(#gHn)" stroke="#7a84c8" stroke-width="2.0" opacity="0.85"/>
<ellipse cx="1504.2" cy="1647.7" rx="9.5" ry="11.9" fill="url(#gHn)" stroke="#7a84c8" stroke-width="2.0" opacity="0.85"/>
<ellipse cx="1468.6" cy="1645.4" rx="11.9" ry="19.0" fill="url(#gHn)" stroke="#7a84c8" stroke-width="2.0" opacity="0.85" transform="rotate(30 1468.6 1645.4)"/>
<ellipse cx="1594.4" cy="1619.2" rx="14.2" ry="11.9" fill="url(#gHn)" stroke="#7a84c8" stroke-width="2.0" opacity="0.85"/>
<ellipse cx="1584.9" cy="1640.6" rx="9.5" ry="11.9" fill="url(#gHn)" stroke="#7a84c8" stroke-width="2.0" opacity="0.85"/>
<ellipse cx="1622.9" cy="1626.4" rx="14.2" ry="16.6" fill="url(#gHn)" stroke="#7a84c8" stroke-width="2.0" opacity="0.85"/>
<ellipse cx="1653.7" cy="1619.2" rx="11.9" ry="11.9" fill="url(#gHn)" stroke="#7a84c8" stroke-width="2.0" opacity="0.85"/>
<ellipse cx="1670.3" cy="1643.0" rx="9.5" ry="9.5" fill="url(#gHp)" stroke="#b0a8cc" stroke-width="2.0" opacity="0.7"/>
<ellipse cx="1708.3" cy="1669.1" rx="11.9" ry="21.4" fill="url(#gHn)" stroke="#7a84c8" stroke-width="2.0" opacity="0.85"/>
<ellipse cx="1592.0" cy="1669.1" rx="19.0" ry="16.6" fill="url(#gHn)" stroke="#7a84c8" stroke-width="2.0" opacity="0.85"/>
<ellipse cx="1622.9" cy="1673.8" rx="11.9" ry="11.9" fill="url(#gHn)" stroke="#7a84c8" stroke-width="2.0" opacity="0.85"/>
<ellipse cx="1682.2" cy="1704.7" rx="19.0" ry="19.0" fill="url(#gHn)" stroke="#7a84c8" stroke-width="2.0" opacity="0.85"/>
<ellipse cx="1580.2" cy="1707.1" rx="21.4" ry="16.6" fill="url(#gHp)" stroke="#b0a8cc" stroke-width="2.0" opacity="0.7"/>
<ellipse cx="1627.6" cy="1709.4" rx="11.9" ry="9.5" fill="url(#gHp)" stroke="#b0a8cc" stroke-width="2.0" opacity="0.7"/>
<ellipse cx="1428.2" cy="1699.9" rx="11.9" ry="11.9" fill="url(#gHn)" stroke="#7a84c8" stroke-width="2.0" opacity="0.85"/>
<ellipse cx="1452.0" cy="1711.8" rx="11.9" ry="11.9" fill="url(#gHn)" stroke="#7a84c8" stroke-width="2.0" opacity="0.85"/>
<ellipse cx="1504.2" cy="1699.9" rx="14.2" ry="9.5" fill="url(#gHn)" stroke="#7a84c8" stroke-width="2.0" opacity="0.85"/>
<ellipse cx="1482.8" cy="1726.1" rx="19.0" ry="14.2" fill="url(#gHn)" stroke="#7a84c8" stroke-width="2.0" opacity="0.85"/>
<ellipse cx="1459.1" cy="1745.0" rx="23.7" ry="14.2" fill="url(#gHp)" stroke="#b0a8cc" stroke-width="2.0" opacity="0.7" transform="rotate(-10 1459.1 1745.0)"/>
<ellipse cx="1418.7" cy="1766.4" rx="7.1" ry="9.5" fill="url(#gHn)" stroke="#7a84c8" stroke-width="2.0" opacity="0.85"/>
<ellipse cx="1706.0" cy="1749.8" rx="11.9" ry="9.5" fill="url(#gHn)" stroke="#7a84c8" stroke-width="2.0" opacity="0.85"/>
<ellipse cx="1537.4" cy="1785.4" rx="11.9" ry="14.2" fill="url(#gHn)" stroke="#7a84c8" stroke-width="2.0" opacity="0.85"/>
<ellipse cx="1606.3" cy="1768.8" rx="16.6" ry="19.0" fill="url(#gHn)" stroke="#7a84c8" stroke-width="2.0" opacity="0.85"/>
<ellipse cx="1563.5" cy="1813.9" rx="21.4" ry="16.6" fill="url(#gHn)" stroke="#7a84c8" stroke-width="2.0" opacity="0.85"/>
<ellipse cx="1601.5" cy="1832.9" rx="21.4" ry="19.0" fill="url(#gHn)" stroke="#7a84c8" stroke-width="2.0" opacity="0.85"/>
<ellipse cx="1463.8" cy="1783.0" rx="7.1" ry="14.2" fill="url(#gHn)" stroke="#7a84c8" stroke-width="2.0" opacity="0.85"/>
<ellipse cx="1428.2" cy="1825.7" rx="14.2" ry="14.2" fill="url(#gHn)" stroke="#7a84c8" stroke-width="2.0" opacity="0.85"/>
<ellipse cx="1428.2" cy="1861.3" rx="14.2" ry="9.5" fill="url(#gHp)" stroke="#b0a8cc" stroke-width="2.0" opacity="0.7"/>
<ellipse cx="1542.2" cy="1863.7" rx="11.9" ry="9.5" fill="url(#gHp)" stroke="#b0a8cc" stroke-width="2.0" opacity="0.7"/>
<ellipse cx="1641.9" cy="1856.6" rx="9.5" ry="11.9" fill="url(#gHp)" stroke="#b0a8cc" stroke-width="2.0" opacity="0.7"/>
<ellipse cx="1454.4" cy="1882.7" rx="9.5" ry="9.5" fill="url(#gHN)" stroke="#465cb0" stroke-width="2.0" opacity="0.92"/>
<ellipse cx="1459.1" cy="1899.3" rx="9.5" ry="9.5" fill="url(#gHN)" stroke="#465cb0" stroke-width="2.0" opacity="0.92"/>
<ellipse cx="1494.7" cy="1887.5" rx="16.6" ry="9.5" fill="url(#gHn)" stroke="#7a84c8" stroke-width="2.0" opacity="0.85" transform="rotate(30 1494.7 1887.5)"/>
<ellipse cx="1423.5" cy="1911.2" rx="9.5" ry="11.9" fill="url(#gHn)" stroke="#7a84c8" stroke-width="2.0" opacity="0.85"/>
<ellipse cx="1440.1" cy="1913.6" rx="9.5" ry="9.5" fill="url(#gHn)" stroke="#7a84c8" stroke-width="2.0" opacity="0.85"/>
<ellipse cx="1463.8" cy="1913.6" rx="11.9" ry="9.5" fill="url(#gHn)" stroke="#7a84c8" stroke-width="2.0" opacity="0.85"/>
<ellipse cx="1594.4" cy="1930.2" rx="21.4" ry="16.6" fill="url(#gHn)" stroke="#7a84c8" stroke-width="2.0" opacity="0.85"/>
<ellipse cx="1551.7" cy="1944.4" rx="14.2" ry="14.2" fill="url(#gHN)" stroke="#465cb0" stroke-width="2.0" opacity="0.92"/>
<ellipse cx="1660.9" cy="1918.3" rx="14.2" ry="11.9" fill="url(#gHp)" stroke="#b0a8cc" stroke-width="2.0" opacity="0.7"/>
<ellipse cx="1689.3" cy="1901.7" rx="19.0" ry="16.6" fill="url(#gHn)" stroke="#7a84c8" stroke-width="2.0" opacity="0.85"/>
<ellipse cx="1706.0" cy="1932.6" rx="14.2" ry="14.2" fill="url(#gHn)" stroke="#7a84c8" stroke-width="2.0" opacity="0.85"/>
<ellipse cx="1622.9" cy="1965.8" rx="16.6" ry="11.9" fill="url(#gHn)" stroke="#7a84c8" stroke-width="2.0" opacity="0.85"/>
<ellipse cx="1689.3" cy="1963.4" rx="16.6" ry="16.6" fill="url(#gHn)" stroke="#7a84c8" stroke-width="2.0" opacity="0.85"/>
<ellipse cx="1447.2" cy="1951.5" rx="14.2" ry="9.5" fill="url(#gHn)" stroke="#7a84c8" stroke-width="2.0" opacity="0.85"/>
<ellipse cx="1485.2" cy="1953.9" rx="14.2" ry="11.9" fill="url(#gHn)" stroke="#7a84c8" stroke-width="2.0" opacity="0.85"/>
<ellipse cx="1423.5" cy="1956.3" rx="7.1" ry="11.9" fill="url(#gHn)" stroke="#7a84c8" stroke-width="2.0" opacity="0.85"/>
<ellipse cx="1425.9" cy="1984.8" rx="9.5" ry="14.2" fill="url(#gHp)" stroke="#b0a8cc" stroke-width="2.0" opacity="0.7"/>
<ellipse cx="1444.9" cy="1984.8" rx="7.1" ry="7.1" fill="url(#gHn)" stroke="#7a84c8" stroke-width="2.0" opacity="0.85"/>
<ellipse cx="1520.8" cy="1953.9" rx="7.1" ry="11.9" fill="url(#gHn)" stroke="#7a84c8" stroke-width="2.0" opacity="0.85"/>
<ellipse cx="1556.4" cy="1982.4" rx="7.1" ry="14.2" fill="url(#gHN)" stroke="#465cb0" stroke-width="2.0" opacity="0.92"/>
<ellipse cx="1556.4" cy="2008.5" rx="14.2" ry="11.9" fill="url(#gHN)" stroke="#465cb0" stroke-width="2.0" opacity="0.92"/>
<ellipse cx="1525.6" cy="2025.1" rx="9.5" ry="9.5" fill="url(#gHn)" stroke="#7a84c8" stroke-width="2.0" opacity="0.85"/>
<ellipse cx="1570.7" cy="2015.6" rx="9.5" ry="14.2" fill="url(#gHn)" stroke="#7a84c8" stroke-width="2.0" opacity="0.85"/>
<ellipse cx="1630.0" cy="2013.3" rx="21.4" ry="19.0" fill="url(#gHn)" stroke="#7a84c8" stroke-width="2.0" opacity="0.85"/>
<ellipse cx="1518.4" cy="2053.6" rx="11.9" ry="11.9" fill="url(#gHn)" stroke="#7a84c8" stroke-width="2.0" opacity="0.85"/>
<ellipse cx="1580.2" cy="2051.2" rx="14.2" ry="11.9" fill="url(#gHn)" stroke="#7a84c8" stroke-width="2.0" opacity="0.85"/>
<ellipse cx="1442.5" cy="2053.6" rx="14.2" ry="9.5" fill="url(#gHp)" stroke="#b0a8cc" stroke-width="2.0" opacity="0.7"/>
<ellipse cx="1656.1" cy="2051.2" rx="9.5" ry="9.5" fill="url(#gHp)" stroke="#b0a8cc" stroke-width="2.0" opacity="0.7"/>
<ellipse cx="1713.1" cy="2048.9" rx="7.1" ry="11.9" fill="url(#gHn)" stroke="#7a84c8" stroke-width="2.0" opacity="0.85"/>
<ellipse cx="1461.5" cy="2018.0" rx="9.5" ry="9.5" fill="url(#gHp)" stroke="#b0a8cc" stroke-width="2.0" opacity="0.7"/>
</g>
<g filter="url(#cellTexD)">
<ellipse cx="1575.4" cy="1752.2" rx="19.0" ry="16.6" fill="url(#gHM)" stroke="#40121e" stroke-width="1.0" opacity="0.95"/>
<ellipse cx="1513.7" cy="1771.2" rx="16.6" ry="14.2" fill="url(#gHM)" stroke="#40121e" stroke-width="1.0" opacity="0.95"/>
<ellipse cx="1475.7" cy="1775.9" rx="11.9" ry="11.9" fill="url(#gHb)" stroke="#6e4848" stroke-width="1.0" opacity="0.9"/>
<ellipse cx="1490.0" cy="1794.9" rx="16.6" ry="14.2" fill="url(#gHg)" stroke="#6e728e" stroke-width="1.0" opacity="0.85"/>
<ellipse cx="1627.6" cy="1737.9" rx="9.5" ry="14.2" fill="url(#gHm)" stroke="#7e5e66" stroke-width="1.0" opacity="0.85"/>
<ellipse cx="1649.0" cy="1768.8" rx="16.6" ry="16.6" fill="url(#gHX)" stroke="#281e40" stroke-width="1.0" opacity="0.95"/>
<ellipse cx="1668.0" cy="1756.9" rx="14.2" ry="16.6" fill="url(#gHM)" stroke="#40121e" stroke-width="1.0" opacity="0.95"/>
<ellipse cx="1630.0" cy="1797.3" rx="14.2" ry="11.9" fill="url(#gHT)" stroke="#17668a" stroke-width="1.0" opacity="0.9"/>
<ellipse cx="1656.1" cy="1806.8" rx="14.2" ry="14.2" fill="url(#gHO)" stroke="#7e4433" stroke-width="1.0" opacity="0.9"/>
<ellipse cx="1592.0" cy="1802.0" rx="7.1" ry="7.1" fill="url(#gHO)" stroke="#7e4433" stroke-width="1.0" opacity="0.9"/>
<ellipse cx="1698.8" cy="1799.6" rx="16.6" ry="16.6" fill="url(#gHU)" stroke="#123a5e" stroke-width="1.0" opacity="0.95"/>
<ellipse cx="1706.0" cy="1830.5" rx="14.2" ry="14.2" fill="url(#gHU)" stroke="#123a5e" stroke-width="1.0" opacity="0.95"/>
<ellipse cx="1696.5" cy="1847.1" rx="11.9" ry="14.2" fill="url(#gHO)" stroke="#7e4433" stroke-width="1.0" opacity="0.9"/>
<ellipse cx="1682.2" cy="1847.1" rx="9.5" ry="9.5" fill="url(#gHU)" stroke="#123a5e" stroke-width="1.0" opacity="0.95"/>
<ellipse cx="1670.3" cy="1851.9" rx="11.9" ry="7.1" fill="url(#gHX)" stroke="#281e40" stroke-width="1.0" opacity="0.95"/>
<ellipse cx="1471.0" cy="1832.9" rx="14.2" ry="16.6" fill="url(#gHU)" stroke="#123a5e" stroke-width="1.0" opacity="0.95"/>
<ellipse cx="1452.0" cy="1844.7" rx="11.9" ry="9.5" fill="url(#gHM)" stroke="#40121e" stroke-width="1.0" opacity="0.95"/>
<ellipse cx="1463.8" cy="1859.0" rx="11.9" ry="9.5" fill="url(#gHM)" stroke="#40121e" stroke-width="1.0" opacity="0.95"/>
<ellipse cx="1573.0" cy="1873.2" rx="14.2" ry="14.2" fill="url(#gHX)" stroke="#281e40" stroke-width="1.0" opacity="0.95"/>
<ellipse cx="1580.2" cy="1911.2" rx="16.6" ry="16.6" fill="url(#gHO)" stroke="#7e4433" stroke-width="1.0" opacity="0.9"/>
<ellipse cx="1611.0" cy="1915.9" rx="7.1" ry="9.5" fill="url(#gHX)" stroke="#281e40" stroke-width="1.0" opacity="0.95"/>
<ellipse cx="1601.5" cy="1894.6" rx="11.9" ry="9.5" fill="url(#gHO)" stroke="#7e4433" stroke-width="1.0" opacity="0.9"/>
<ellipse cx="1665.6" cy="1944.4" rx="11.9" ry="7.1" fill="url(#gHO)" stroke="#7e4433" stroke-width="1.0" opacity="0.9"/>
<ellipse cx="1532.7" cy="1982.4" rx="11.9" ry="11.9" fill="url(#gHM)" stroke="#40121e" stroke-width="1.0" opacity="0.95"/>
<ellipse cx="1710.7" cy="1984.8" rx="11.9" ry="9.5" fill="url(#gHO)" stroke="#7e4433" stroke-width="1.0" opacity="0.9"/>
<ellipse cx="1641.9" cy="1851.9" rx="7.1" ry="7.1" fill="url(#gHg)" stroke="#6e728e" stroke-width="1.0" opacity="0.85"/>
<ellipse cx="1511.3" cy="1654.8" rx="4.7" ry="4.7" fill="url(#gHO)" stroke="#7e4433" stroke-width="1.0" opacity="0.9"/>
<ellipse cx="1818.7" cy="1866.1" rx="23.7" ry="5.9" fill="url(#gHO)" stroke="#7e4433" stroke-width="1.0" opacity="0.9"/>
<ellipse cx="1987.2" cy="1873.2" rx="19.0" ry="4.3" fill="url(#gHO)" stroke="#7e4433" stroke-width="1.0" opacity="0.9"/>
</g>
<g filter="url(#cellTexL)">
<ellipse cx="1726.1" cy="1628.7" rx="9.5" ry="14.2" fill="url(#gHp)" stroke="#b0a8cc" stroke-width="2.0" opacity="0.7"/>
<ellipse cx="1766.5" cy="1616.9" rx="11.9" ry="9.5" fill="url(#gHp)" stroke="#b0a8cc" stroke-width="2.0" opacity="0.7"/>
<ellipse cx="1726.1" cy="1664.3" rx="9.5" ry="14.2" fill="url(#gHn)" stroke="#7a84c8" stroke-width="2.0" opacity="0.85"/>
<ellipse cx="1790.2" cy="1676.2" rx="16.6" ry="11.9" fill="url(#gHn)" stroke="#7a84c8" stroke-width="2.0" opacity="0.85"/>
<ellipse cx="1825.8" cy="1676.2" rx="9.5" ry="9.5" fill="url(#gHp)" stroke="#b0a8cc" stroke-width="2.0" opacity="0.7"/>
<ellipse cx="1842.4" cy="1697.6" rx="11.9" ry="14.2" fill="url(#gHn)" stroke="#7a84c8" stroke-width="2.0" opacity="0.85"/>
<ellipse cx="1771.2" cy="1723.7" rx="19.0" ry="19.0" fill="url(#gHn)" stroke="#7a84c8" stroke-width="2.0" opacity="0.85"/>
<ellipse cx="1932.6" cy="1704.7" rx="14.2" ry="14.2" fill="url(#gHn)" stroke="#7a84c8" stroke-width="2.0" opacity="0.85"/>
<ellipse cx="1944.5" cy="1650.1" rx="9.5" ry="14.2" fill="url(#gHp)" stroke="#b0a8cc" stroke-width="2.0" opacity="0.7"/>
<ellipse cx="1975.3" cy="1669.1" rx="16.6" ry="16.6" fill="url(#gHn)" stroke="#7a84c8" stroke-width="2.0" opacity="0.85"/>
<ellipse cx="2008.6" cy="1662.0" rx="11.9" ry="11.9" fill="url(#gHn)" stroke="#7a84c8" stroke-width="2.0" opacity="0.85"/>
<ellipse cx="2008.6" cy="1690.4" rx="11.9" ry="9.5" fill="url(#gHp)" stroke="#b0a8cc" stroke-width="2.0" opacity="0.7"/>
<ellipse cx="1897.0" cy="1740.3" rx="11.9" ry="14.2" fill="url(#gHp)" stroke="#b0a8cc" stroke-width="2.0" opacity="0.7"/>
<ellipse cx="1927.9" cy="1759.3" rx="19.0" ry="16.6" fill="url(#gHp)" stroke="#b0a8cc" stroke-width="2.0" opacity="0.7"/>
<ellipse cx="1965.9" cy="1740.3" rx="9.5" ry="9.5" fill="url(#gHn)" stroke="#7a84c8" stroke-width="2.0" opacity="0.85"/>
<ellipse cx="1992.0" cy="1754.5" rx="9.5" ry="9.5" fill="url(#gHn)" stroke="#7a84c8" stroke-width="2.0" opacity="0.85"/>
<ellipse cx="1996.7" cy="1783.0" rx="19.0" ry="14.2" fill="url(#gHn)" stroke="#7a84c8" stroke-width="2.0" opacity="0.85"/>
<ellipse cx="1949.2" cy="1794.9" rx="14.2" ry="14.2" fill="url(#gHn)" stroke="#7a84c8" stroke-width="2.0" opacity="0.85"/>
<ellipse cx="1830.6" cy="1752.2" rx="9.5" ry="9.5" fill="url(#gHp)" stroke="#b0a8cc" stroke-width="2.0" opacity="0.7"/>
<ellipse cx="1868.5" cy="1766.4" rx="7.1" ry="4.7" fill="url(#gHN)" stroke="#465cb0" stroke-width="2.0" opacity="0.92"/>
<ellipse cx="1828.2" cy="1787.8" rx="14.2" ry="14.2" fill="url(#gHn)" stroke="#7a84c8" stroke-width="2.0" opacity="0.85"/>
<ellipse cx="1866.2" cy="1792.5" rx="14.2" ry="14.2" fill="url(#gHn)" stroke="#7a84c8" stroke-width="2.0" opacity="0.85"/>
<ellipse cx="1735.6" cy="1787.8" rx="11.9" ry="11.9" fill="url(#gHN)" stroke="#465cb0" stroke-width="2.0" opacity="0.92"/>
<ellipse cx="1776.0" cy="1792.5" rx="7.1" ry="7.1" fill="url(#gHn)" stroke="#7a84c8" stroke-width="2.0" opacity="0.85"/>
<ellipse cx="1757.0" cy="1830.5" rx="7.1" ry="7.1" fill="url(#gHn)" stroke="#7a84c8" stroke-width="2.0" opacity="0.85"/>
<ellipse cx="1821.1" cy="1844.7" rx="7.1" ry="7.1" fill="url(#gHn)" stroke="#7a84c8" stroke-width="2.0" opacity="0.85"/>
<ellipse cx="1861.4" cy="1823.4" rx="16.6" ry="11.9" fill="url(#gHn)" stroke="#7a84c8" stroke-width="2.0" opacity="0.85"/>
<ellipse cx="1899.4" cy="1840.0" rx="16.6" ry="14.2" fill="url(#gHn)" stroke="#7a84c8" stroke-width="2.0" opacity="0.85"/>
<ellipse cx="1963.5" cy="1832.9" rx="19.0" ry="16.6" fill="url(#gHn)" stroke="#7a84c8" stroke-width="2.0" opacity="0.85"/>
<ellipse cx="2013.3" cy="1835.2" rx="11.9" ry="14.2" fill="url(#gHn)" stroke="#7a84c8" stroke-width="2.0" opacity="0.85"/>
<ellipse cx="1951.6" cy="1873.2" rx="19.0" ry="14.2" fill="url(#gHn)" stroke="#7a84c8" stroke-width="2.0" opacity="0.85"/>
<ellipse cx="1908.9" cy="1887.5" rx="16.6" ry="14.2" fill="url(#gHn)" stroke="#7a84c8" stroke-width="2.0" opacity="0.85"/>
<ellipse cx="1937.4" cy="1908.8" rx="19.0" ry="11.9" fill="url(#gHn)" stroke="#7a84c8" stroke-width="2.0" opacity="0.85"/>
<ellipse cx="1783.1" cy="1913.6" rx="16.6" ry="14.2" fill="url(#gHn)" stroke="#7a84c8" stroke-width="2.0" opacity="0.85"/>
<ellipse cx="1875.7" cy="1925.4" rx="16.6" ry="11.9" fill="url(#gHn)" stroke="#7a84c8" stroke-width="2.0" opacity="0.85"/>
<ellipse cx="1916.0" cy="1937.3" rx="16.6" ry="14.2" fill="url(#gHn)" stroke="#7a84c8" stroke-width="2.0" opacity="0.85"/>
<ellipse cx="1975.3" cy="1932.6" rx="9.5" ry="9.5" fill="url(#gHn)" stroke="#7a84c8" stroke-width="2.0" opacity="0.85"/>
<ellipse cx="2003.8" cy="1925.4" rx="9.5" ry="9.5" fill="url(#gHn)" stroke="#7a84c8" stroke-width="2.0" opacity="0.85"/>
<ellipse cx="1728.5" cy="1925.4" rx="9.5" ry="14.2" fill="url(#gHn)" stroke="#7a84c8" stroke-width="2.0" opacity="0.85"/>
<ellipse cx="1799.7" cy="1968.2" rx="23.7" ry="11.9" fill="url(#gHn)" stroke="#7a84c8" stroke-width="2.0" opacity="0.85"/>
<ellipse cx="1757.0" cy="1991.9" rx="23.7" ry="19.0" fill="url(#gHn)" stroke="#7a84c8" stroke-width="2.0" opacity="0.85"/>
<ellipse cx="1866.2" cy="1972.9" rx="14.2" ry="11.9" fill="url(#gHn)" stroke="#7a84c8" stroke-width="2.0" opacity="0.85"/>
<ellipse cx="1904.1" cy="1980.0" rx="14.2" ry="11.9" fill="url(#gHn)" stroke="#7a84c8" stroke-width="2.0" opacity="0.85"/>
<ellipse cx="1939.7" cy="1963.4" rx="11.9" ry="11.9" fill="url(#gHn)" stroke="#7a84c8" stroke-width="2.0" opacity="0.85"/>
<ellipse cx="2003.8" cy="1984.8" rx="19.0" ry="19.0" fill="url(#gHn)" stroke="#7a84c8" stroke-width="2.0" opacity="0.85"/>
<ellipse cx="1980.1" cy="1956.3" rx="9.5" ry="9.5" fill="url(#gHn)" stroke="#7a84c8" stroke-width="2.0" opacity="0.85"/>
<ellipse cx="1885.2" cy="2013.3" rx="9.5" ry="9.5" fill="url(#gHn)" stroke="#7a84c8" stroke-width="2.0" opacity="0.85"/>
<ellipse cx="1913.6" cy="2013.3" rx="9.5" ry="9.5" fill="url(#gHn)" stroke="#7a84c8" stroke-width="2.0" opacity="0.85"/>
<ellipse cx="1987.2" cy="2013.3" rx="9.5" ry="9.5" fill="url(#gHn)" stroke="#7a84c8" stroke-width="2.0" opacity="0.85"/>
<ellipse cx="1946.9" cy="2037.0" rx="16.6" ry="14.2" fill="url(#gHn)" stroke="#7a84c8" stroke-width="2.0" opacity="0.85"/>
<ellipse cx="1989.6" cy="2037.0" rx="14.2" ry="14.2" fill="url(#gHn)" stroke="#7a84c8" stroke-width="2.0" opacity="0.85"/>
<ellipse cx="1861.4" cy="2032.2" rx="9.5" ry="9.5" fill="url(#gHn)" stroke="#7a84c8" stroke-width="2.0" opacity="0.85"/>
<ellipse cx="1726.1" cy="2044.1" rx="9.5" ry="14.2" fill="url(#gHn)" stroke="#7a84c8" stroke-width="2.0" opacity="0.85"/>
<ellipse cx="1790.2" cy="2048.9" rx="14.2" ry="9.5" fill="url(#gHp)" stroke="#b0a8cc" stroke-width="2.0" opacity="0.7"/>
<ellipse cx="1870.9" cy="2056.0" rx="11.9" ry="9.5" fill="url(#gHp)" stroke="#b0a8cc" stroke-width="2.0" opacity="0.7"/>
<ellipse cx="2015.7" cy="2051.2" rx="9.5" ry="9.5" fill="url(#gHn)" stroke="#7a84c8" stroke-width="2.0" opacity="0.85"/>
</g>
<g filter="url(#cellTexD)">
<ellipse cx="1854.3" cy="1628.7" rx="14.2" ry="14.2" fill="url(#gHU)" stroke="#123a5e" stroke-width="1.0" opacity="0.95"/>
<ellipse cx="1885.2" cy="1631.1" rx="11.9" ry="11.9" fill="url(#gHX)" stroke="#281e40" stroke-width="1.0" opacity="0.95"/>
<ellipse cx="1908.9" cy="1614.5" rx="19.0" ry="11.9" fill="url(#gHU)" stroke="#123a5e" stroke-width="1.0" opacity="0.95"/>
<ellipse cx="1754.6" cy="1657.2" rx="16.6" ry="16.6" fill="url(#gHO)" stroke="#7e4433" stroke-width="1.0" opacity="0.9"/>
<ellipse cx="1842.4" cy="1657.2" rx="9.5" ry="16.6" fill="url(#gHT)" stroke="#17668a" stroke-width="1.0" opacity="0.9"/>
<ellipse cx="1894.6" cy="1664.3" rx="19.0" ry="19.0" fill="url(#gHO)" stroke="#7e4433" stroke-width="1.0" opacity="0.9"/>
<ellipse cx="1899.4" cy="1702.3" rx="14.2" ry="16.6" fill="url(#gHU)" stroke="#123a5e" stroke-width="1.0" opacity="0.95"/>
<ellipse cx="1818.7" cy="1730.8" rx="11.9" ry="14.2" fill="url(#gHO)" stroke="#7e4433" stroke-width="1.0" opacity="0.9"/>
<ellipse cx="1963.5" cy="1775.9" rx="7.1" ry="11.9" fill="url(#gHU)" stroke="#123a5e" stroke-width="1.0" opacity="0.95"/>
<ellipse cx="1792.6" cy="1816.2" rx="19.0" ry="11.9" fill="url(#gHX)" stroke="#281e40" stroke-width="1.0" opacity="0.95"/>
<ellipse cx="1723.7" cy="1823.4" rx="9.5" ry="11.9" fill="url(#gHX)" stroke="#281e40" stroke-width="1.0" opacity="0.95"/>
<ellipse cx="1783.1" cy="1882.7" rx="16.6" ry="14.2" fill="url(#gHU)" stroke="#123a5e" stroke-width="1.0" opacity="0.95"/>
<ellipse cx="1851.9" cy="1856.6" rx="14.2" ry="11.9" fill="url(#gHU)" stroke="#123a5e" stroke-width="1.0" opacity="0.95"/>
<ellipse cx="1875.7" cy="1873.2" rx="14.2" ry="16.6" fill="url(#gHU)" stroke="#123a5e" stroke-width="1.0" opacity="0.95"/>
<ellipse cx="2008.6" cy="1870.8" rx="14.2" ry="11.9" fill="url(#gHX)" stroke="#281e40" stroke-width="1.0" opacity="0.95"/>
<ellipse cx="2006.2" cy="1904.1" rx="7.1" ry="14.2" fill="url(#gHT)" stroke="#17668a" stroke-width="1.0" opacity="0.9"/>
<ellipse cx="1740.4" cy="1953.9" rx="9.5" ry="9.5" fill="url(#gHU)" stroke="#123a5e" stroke-width="1.0" opacity="0.95"/>
<ellipse cx="1961.1" cy="1980.0" rx="9.5" ry="14.2" fill="url(#gHM)" stroke="#40121e" stroke-width="1.0" opacity="0.95"/>
</g>
<polygon points="1882.6,1704.0 1858.6,1691.3 1861.1,1704.0 1858.6,1716.7" fill="#f50514"/>
<polygon points="1765.3,1883.1 1741.3,1870.4 1743.8,1883.1 1741.3,1895.8" fill="#f50514"/>
</g>
<rect x="577.5" y="1526.5" width="149.0" height="5.6" fill="#000"/>
<rect x="1227.0" y="1526.5" width="148.0" height="5.6" fill="#000"/>
<rect x="1878.0" y="1526.5" width="147.0" height="5.6" fill="#000"/>
<rect x="577.5" y="2024.2" width="149.0" height="5.6" fill="#000"/>
<rect x="1227.0" y="2024.2" width="148.0" height="5.6" fill="#000"/>
<rect x="1878.0" y="2024.2" width="147.0" height="5.6" fill="#000"/>
<text x="118.94" y="1148.00" font-size="48" font-weight="bold" fill="#000" textLength="35.79" lengthAdjust="spacingAndGlyphs">C</text>
<text x="769.62" y="1150.50" font-size="48" font-weight="bold" fill="#000" textLength="30.71" lengthAdjust="spacingAndGlyphs">E</text>
<text x="1419.03" y="1151.00" font-size="48" font-weight="bold" fill="#000" textLength="38.63" lengthAdjust="spacingAndGlyphs">G</text>
<text x="121.65" y="1646.50" font-size="48" font-weight="bold" fill="#000" textLength="32.94" lengthAdjust="spacingAndGlyphs">D</text>
<text x="769.66" y="1647.70" font-size="48" font-weight="bold" fill="#000" textLength="27.80" lengthAdjust="spacingAndGlyphs">F</text>
<text x="1417.92" y="1647.70" font-size="48" font-weight="bold" fill="#000" textLength="36.78" lengthAdjust="spacingAndGlyphs">H</text>
</svg></body></html>
